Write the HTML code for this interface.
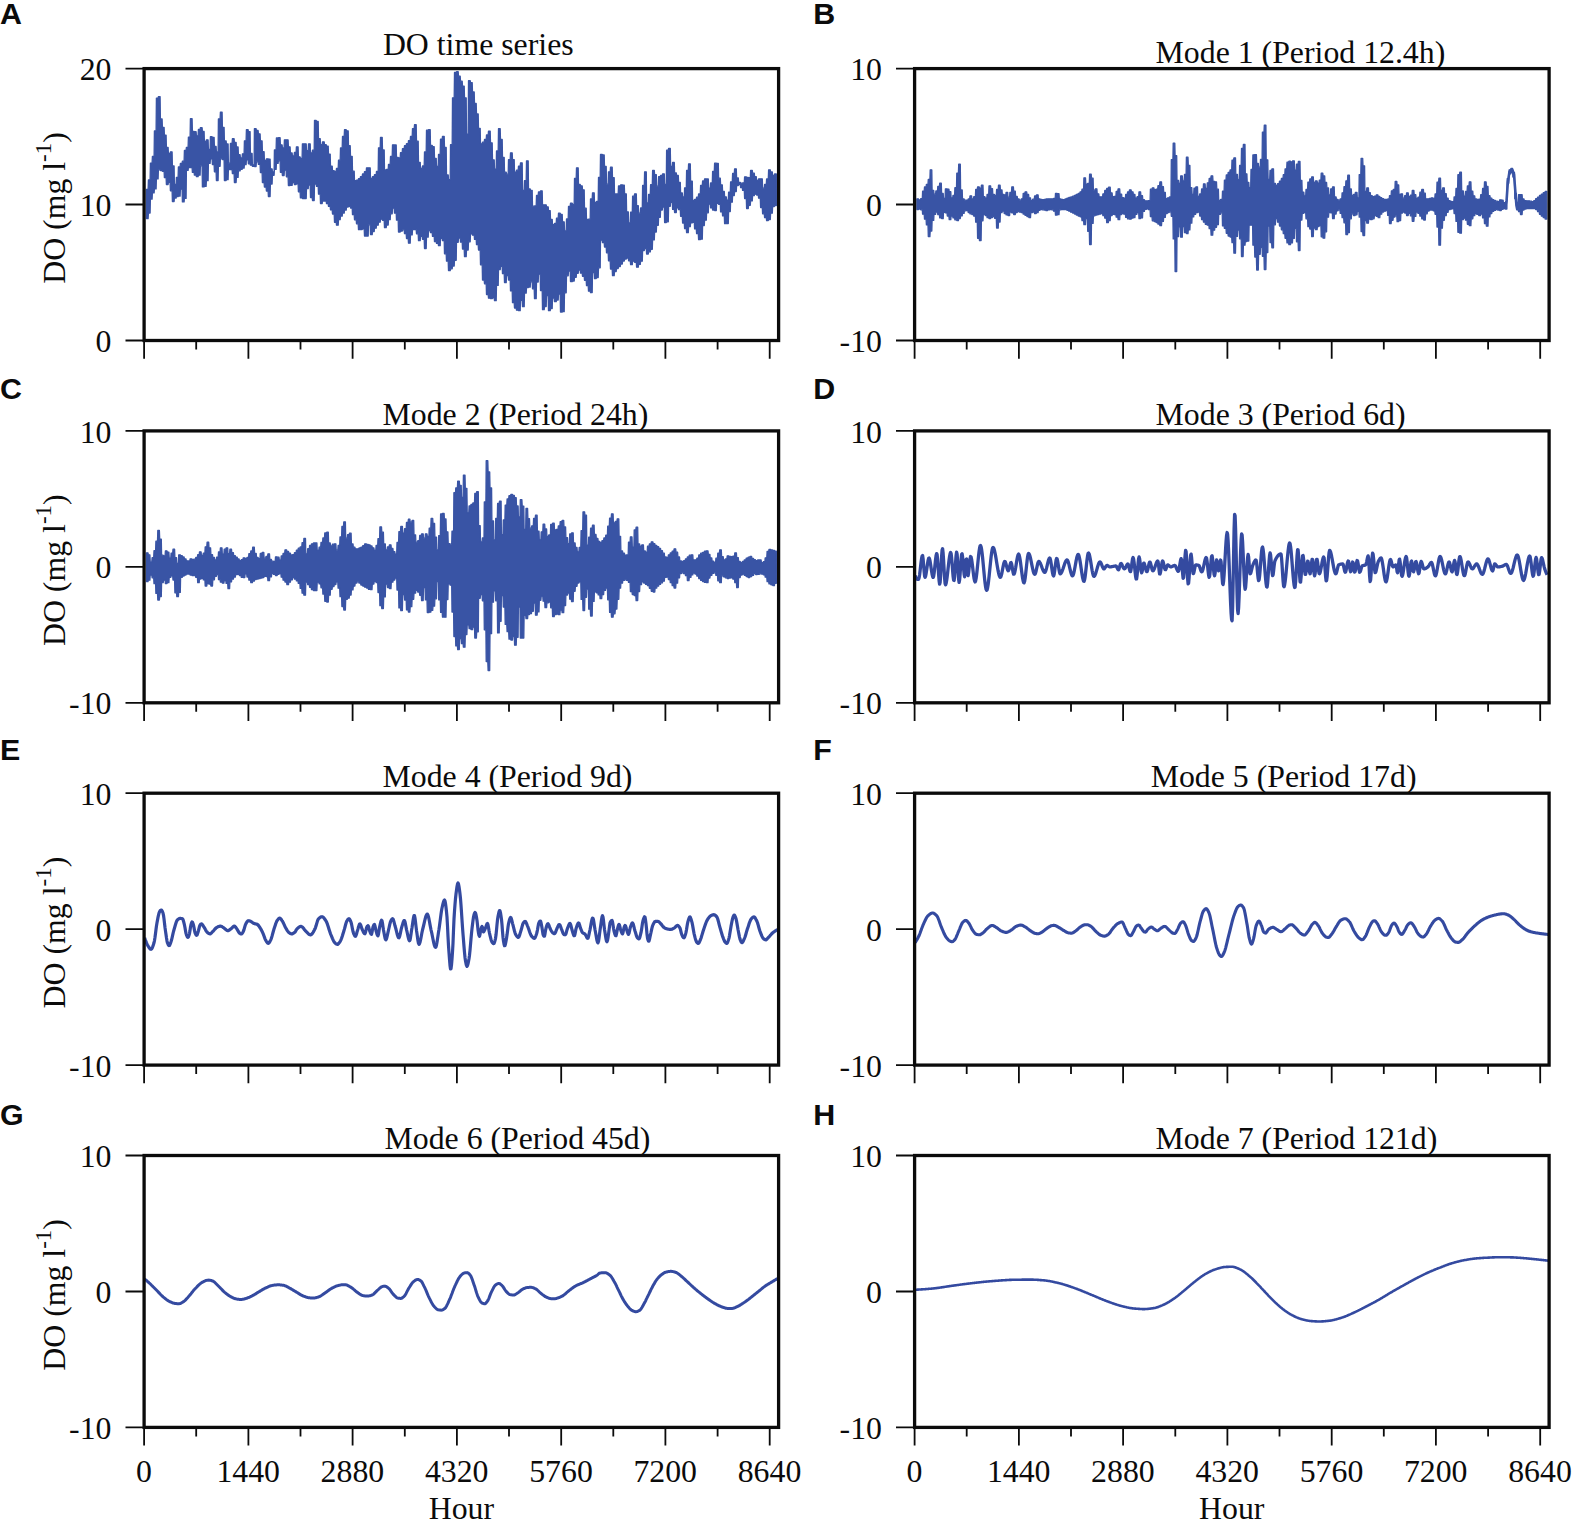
<!DOCTYPE html>
<html lang="en"><head><meta charset="utf-8"><title>DO time series EEMD modes</title>
<style>
html,body{margin:0;padding:0;background:#fff;}
svg{display:block;}
svg text{font-family:"Liberation Serif", "Times New Roman", Times, serif;font-size:31.8px;fill:#0b0b0b;}
svg text.pl{font-family:"Liberation Sans", Arial, Helvetica, sans-serif;font-weight:bold;font-size:30.4px;}
</style></head>
<body>
<svg width="1573" height="1530" viewBox="0 0 1573 1530">
<rect width="1573" height="1530" fill="#ffffff"/>
<path d="M146.4,189.5 148.1,189.5 148.4,180 150.1,180 150.4,163.1 152.1,163.1 152.4,156.5 154.1,156.5 154.4,130.9 156.1,130.9 156.4,98.1 158.1,98.1 158.4,96.6 160.1,96.6 160.4,119 162.1,119 162.4,127.3 164.1,127.3 164.4,135.1 166.1,135.1 166.4,147.4 168.1,147.4 168.4,153.5 170.1,153.5 170.4,151.8 172.1,151.8 172.4,165.9 174.1,165.9 174.4,184.4 176.1,184.4 176.4,177.4 178.1,177.4 178.4,166.9 180.1,166.9 180.4,163.3 182.1,163.3 182.4,161.2 184.1,161.2 184.4,150.4 186.1,150.4 186.4,147.3 188.1,147.3 188.4,137.1 190.1,137.1 190.4,118.7 192.1,118.7 192.4,131.5 194.1,131.5 194.4,131.7 196.1,131.7 196.4,135.8 198.1,135.8 198.4,129.5 200.1,129.5 200.4,127.7 202.1,127.7 202.4,131.5 204.1,131.5 204.4,141.4 206.1,141.4 206.4,139.8 208.1,139.8 208.4,149.4 210.1,149.4 210.4,136.7 212.1,136.7 212.4,137.3 214.1,137.3 214.4,146.5 216.1,146.5 216.4,152 218.1,152 218.4,118.9 220.1,118.9 220.4,112.1 222.1,112.1 222.4,127.3 224.1,127.3 224.4,140.9 226.1,140.9 226.4,143.9 228.1,143.9 228.4,163.2 230.1,163.2 230.4,143.4 232.1,143.4 232.4,138.7 234.1,138.7 234.4,142.3 236.1,142.3 236.4,147 238.1,147 238.4,154.7 240.1,154.7 240.4,158 242.1,158 242.4,153.8 244.1,153.8 244.4,140.8 246.1,140.8 246.4,129.7 248.1,129.7 248.4,131.6 250.1,131.6 250.4,153.4 252.1,153.4 252.4,164.8 254.1,164.8 254.4,128.7 256.1,128.7 256.4,130.5 258.1,130.5 258.4,133.8 260.1,133.8 260.4,140.8 262.1,140.8 262.4,151.7 264.1,151.7 264.4,160.5 266.1,160.5 266.4,158.8 268.1,158.8 268.4,159.1 270.1,159.1 270.4,168.8 272.1,168.8 272.4,171.9 274.1,171.9 274.4,150 276.1,150 276.4,137.9 278.1,137.9 278.4,137.7 280.1,137.7 280.4,144.8 282.1,144.8 282.4,147.9 284.1,147.9 284.4,139.8 286.1,139.8 286.4,139.8 288.1,139.8 288.4,146.8 290.1,146.8 290.4,153 292.1,153 292.4,155.9 294.1,155.9 294.4,152.5 296.1,152.5 296.4,146.8 298.1,146.8 298.4,156.8 300.1,156.8 300.4,158.3 302.1,158.3 302.4,143.8 304.2,143.8 304.5,143.8 306.2,143.8 306.5,150.7 308.2,150.7 308.5,143.8 310.2,143.8 310.5,153 312.2,153 312.5,150.2 314.2,150.2 314.5,120.3 316.2,120.3 316.5,121.4 318.2,121.4 318.5,138.6 320.2,138.6 320.5,144.7 322.2,144.7 322.5,141.8 324.2,141.8 324.5,144.7 326.2,144.7 326.5,146.1 328.2,146.1 328.5,154.1 330.2,154.1 330.5,166.1 332.2,166.1 332.5,170.7 334.2,170.7 334.5,171.4 336.2,171.4 336.5,168.4 338.2,168.4 338.5,160.2 340.2,160.2 340.5,147.9 342.2,147.9 342.5,136.4 344.2,136.4 344.5,129.7 346.2,129.7 346.5,130.8 348.2,130.8 348.5,145.7 350.2,145.7 350.5,156.3 352.2,156.3 352.5,171.2 354.2,171.2 354.5,180.6 356.2,180.6 356.5,180.1 358.2,180.1 358.5,178.7 360.2,178.7 360.5,176.6 362.2,176.6 362.5,174 364.2,174 364.5,171.6 366.2,171.6 366.5,167.8 368.2,167.8 368.5,167.8 370.2,167.8 370.5,178.5 372.2,178.5 372.5,176.7 374.2,176.7 374.5,174.7 376.2,174.7 376.5,171.4 378.2,171.4 378.5,147.8 380.2,147.8 380.5,137.3 382.2,137.3 382.5,150 384.2,150 384.5,170 386.2,170 386.5,169.4 388.2,169.4 388.5,164.4 390.2,164.4 390.5,156.4 392.2,156.4 392.5,144.8 394.2,144.8 394.5,144.9 396.2,144.9 396.5,157.5 398.2,157.5 398.5,157.9 400.2,157.9 400.5,152.6 402.2,152.6 402.5,148.6 404.2,148.6 404.5,145.7 406.2,145.7 406.5,143.7 408.2,143.7 408.5,140.6 410.2,140.6 410.5,136.5 412.2,136.5 412.5,128.6 414.2,128.6 414.5,124.7 416.2,124.7 416.5,141.2 418.2,141.2 418.5,162.3 420.2,162.3 420.5,168.4 422.2,168.4 422.5,166 424.2,166 424.5,152 426.2,152 426.5,130.2 428.2,130.2 428.5,129.7 430.2,129.7 430.5,145.3 432.2,145.3 432.5,146.7 434.2,146.7 434.5,158.3 436.2,158.3 436.5,166.5 438.2,166.5 438.5,154.5 440.2,154.5 440.5,139.1 442.2,139.1 442.5,136.3 444.2,136.3 444.5,147.5 446.2,147.5 446.5,174.9 448.2,174.9 448.5,179.7 450.2,179.7 450.5,144.7 452.2,144.7 452.5,97.8 454.2,97.8 454.5,72.4 456.2,72.4 456.5,71.7 458.2,71.7 458.5,76.2 460.2,76.2 460.5,81.2 462.2,81.2 462.5,86.1 464.2,86.1 464.5,97.8 466.2,97.8 466.5,134.1 468.2,134.1 468.5,80.7 470.2,80.7 470.5,82.6 472.2,82.6 472.5,91.9 474.2,91.9 474.5,103.5 476.2,103.5 476.5,114 478.2,114 478.5,128.3 480.2,128.3 480.5,143.8 482.2,143.8 482.5,142.2 484.2,142.2 484.5,139.5 486.2,139.5 486.5,135 488.2,135 488.5,131.1 490.2,131.1 490.5,142.8 492.2,142.8 492.5,159.8 494.2,159.8 494.5,169.1 496.2,169.1 496.5,151 498.2,151 498.5,128.7 500.2,128.7 500.5,139.5 502.2,139.5 502.5,157.5 504.2,157.5 504.5,172.2 506.2,172.2 506.5,174.2 508.2,174.2 508.5,159.7 510.2,159.7 510.5,152.8 512.2,152.8 512.5,159.6 514.2,159.6 514.5,172.1 516.2,172.1 516.5,170.2 518.2,170.2 518.5,166.1 520.2,166.1 520.5,162.8 522.2,162.8 522.5,190.3 524.2,190.3 524.5,180.6 526.2,180.6 526.5,160.8 528.2,160.8 528.5,188.9 530.2,188.9 530.5,190.3 532.2,190.3 532.5,206.2 534.2,206.2 534.5,205.9 536.2,205.9 536.5,195.4 538.2,195.4 538.5,191.9 540.2,191.9 540.5,190.8 542.2,190.8 542.5,204.8 544.2,204.8 544.5,204.8 546.2,204.8 546.5,206.8 548.2,206.8 548.5,210.6 550.2,210.6 550.5,219.3 552.2,219.3 552.5,224.6 554.2,224.6 554.5,223.3 556.2,223.3 556.5,218.2 558.2,218.2 558.5,213.2 560.2,213.2 560.5,214.4 562.2,214.4 562.5,221.8 564.2,221.8 564.5,230.9 566.2,230.9 566.5,218.9 568.2,218.9 568.5,206.4 570.2,206.4 570.5,203.2 572.2,203.2 572.5,204.3 574.2,204.3 574.5,178.4 576.2,178.4 576.5,167.8 578.2,167.8 578.5,184.5 580.2,184.5 580.5,185.8 582.2,185.8 582.5,189.8 584.2,189.8 584.5,208.2 586.2,208.2 586.5,219.5 588.2,219.5 588.5,219.2 590.2,219.2 590.5,198.9 592.2,198.9 592.5,192.8 594.2,192.8 594.5,202.5 596.2,202.5 596.5,201.3 598.2,201.3 598.5,177.4 600.2,177.4 600.5,154.4 602.2,154.4 602.5,154.9 604.2,154.9 604.5,166.5 606.2,166.5 606.5,184.2 608.2,184.2 608.5,171.8 610.2,171.8 610.5,167.2 612.2,167.2 612.5,177.7 614.2,177.7 614.5,193.9 616.2,193.9 616.5,193.9 618.2,193.9 618.5,186 620.3,186 620.6,184.8 622.3,184.8 622.6,185.1 624.3,185.1 624.6,193.8 626.3,193.8 626.6,211.8 628.3,211.8 628.6,223 630.3,223 630.6,212.1 632.3,212.1 632.6,196.2 634.3,196.2 634.6,193.8 636.3,193.8 636.6,205.7 638.3,205.7 638.6,213.2 640.3,213.2 640.6,208 642.3,208 642.6,185.4 644.3,185.4 644.6,171.8 646.3,171.8 646.6,203 648.3,203 648.6,194.3 650.3,194.3 650.6,184.6 652.3,184.6 652.6,170.4 654.3,170.4 654.6,174.6 656.3,174.6 656.6,186.2 658.3,186.2 658.6,176.6 660.3,176.6 660.6,175.3 662.3,175.3 662.6,173.8 664.3,173.8 664.6,184.3 666.3,184.3 666.6,150.2 668.3,150.2 668.6,148.4 670.3,148.4 670.6,166.4 672.3,166.4 672.6,162.4 674.3,162.4 674.6,172.9 676.3,172.9 676.6,175.5 678.3,175.5 678.6,182.4 680.3,182.4 680.6,192.9 682.3,192.9 682.6,196.9 684.3,196.9 684.6,187.8 686.3,187.8 686.6,170.3 688.3,170.3 688.6,163.8 690.3,163.8 690.6,181.1 692.3,181.1 692.6,200.5 694.3,200.5 694.6,199.4 696.3,199.4 696.6,197.2 698.3,197.2 698.6,193.9 700.3,193.9 700.6,185.3 702.3,185.3 702.6,181 704.3,181 704.6,178.8 706.3,178.8 706.6,179 708.3,179 708.6,188.1 710.3,188.1 710.6,183 712.3,183 712.6,171.3 714.3,171.3 714.6,163.2 716.3,163.2 716.6,163.3 718.3,163.3 718.6,178.2 720.3,178.2 720.6,184.8 722.3,184.8 722.6,191.5 724.3,191.5 724.6,196.8 726.3,196.8 726.6,200.1 728.3,200.1 728.6,192.1 730.3,192.1 730.6,181.8 732.3,181.8 732.6,173.5 734.3,173.5 734.6,168.8 736.3,168.8 736.6,177.9 738.3,177.9 738.6,182.3 740.3,182.3 740.6,183.2 742.3,183.2 742.6,182.8 744.3,182.8 744.6,176.8 746.3,176.8 746.6,177.3 748.3,177.3 748.6,177.7 750.3,177.7 750.6,170.4 752.3,170.4 752.6,173.2 754.3,173.2 754.6,176.7 756.3,176.7 756.6,180.5 758.3,180.5 758.6,178.8 760.3,178.8 760.6,178.8 762.3,178.8 762.6,188.2 764.3,188.2 764.6,184.5 766.3,184.5 766.6,179 768.3,179 768.6,169.8 770.3,169.8 770.6,171.9 772.3,171.9 772.6,175.5 774.3,175.5 774.6,173.9 776.3,173.9 776.3,205.6 774.6,205.6 774.3,206.7 772.6,206.7 772.3,213.2 770.6,213.2 770.3,219.5 768.6,219.5 768.3,220.6 766.6,220.6 766.3,217.7 764.6,217.7 764.3,213.8 762.6,213.8 762.3,207.6 760.6,207.6 760.3,198.2 758.6,198.2 758.3,195.1 756.6,195.1 756.3,194.2 754.6,194.2 754.3,195.6 752.6,195.6 752.3,200.9 750.6,200.9 750.3,205.3 748.6,205.3 748.3,208.5 746.6,208.5 746.3,198.5 744.6,198.5 744.3,190.4 742.6,190.4 742.3,187.7 740.6,187.7 740.3,184.5 738.6,184.5 738.3,185.5 736.6,185.5 736.3,191.5 734.6,191.5 734.3,195.5 732.6,195.5 732.3,202.2 730.6,202.2 730.3,211.6 728.6,211.6 728.3,223.6 726.6,223.6 726.3,223.6 724.6,223.6 724.3,215.9 722.6,215.9 722.3,211.9 720.6,211.9 720.3,204.3 718.6,204.3 718.3,203.4 716.6,203.4 716.3,210.5 714.6,210.5 714.3,210 712.6,210 712.3,207.9 710.6,207.9 710.3,204.2 708.6,204.2 708.3,212.8 706.6,212.8 706.3,220.2 704.6,220.2 704.3,225.5 702.6,225.5 702.3,239.2 700.6,239.2 700.3,239.6 698.6,239.6 698.3,233.7 696.6,233.7 696.3,228.9 694.6,228.9 694.3,222.3 692.6,222.3 692.3,222.9 690.6,222.9 690.3,226.6 688.6,226.6 688.3,232.6 686.6,232.6 686.3,228.6 684.6,228.6 684.3,223 682.6,223 682.3,216.3 680.6,216.3 680.3,209.6 678.6,209.6 678.3,207.9 676.6,207.9 676.3,212.5 674.6,212.5 674.3,209.4 672.6,209.4 672.3,202.3 670.6,202.3 670.3,206.3 668.6,206.3 668.3,221.8 666.6,221.8 666.3,222.6 664.6,222.6 664.3,207.1 662.6,207.1 662.3,210 660.6,210 660.3,217.3 658.6,217.3 658.3,225.3 656.6,225.3 656.3,232 654.6,232 654.3,239.9 652.6,239.9 652.3,249.3 650.6,249.3 650.3,251.8 648.6,251.8 648.3,254 646.6,254 646.3,248.6 644.6,248.6 644.3,250.5 642.6,250.5 642.3,261.2 640.6,261.2 640.3,264.4 638.6,264.4 638.3,267.2 636.6,267.2 636.3,262.3 634.6,262.3 634.3,261.2 632.6,261.2 632.3,264.6 630.6,264.6 630.3,260.8 628.6,260.8 628.3,258.1 626.6,258.1 626.3,259.1 624.6,259.1 624.3,261 622.6,261 622.3,264 620.6,264 620.3,266.5 618.5,266.5 618.2,268.5 616.5,268.5 616.2,271.5 614.5,271.5 614.2,275.6 612.5,275.6 612.2,269.1 610.5,269.1 610.2,260.8 608.5,260.8 608.2,252.8 606.5,252.8 606.2,247 604.5,247 604.2,242.6 602.5,242.6 602.2,240.2 600.5,240.2 600.2,267.8 598.5,267.8 598.2,277.5 596.5,277.5 596.2,278.6 594.5,278.6 594.2,272.7 592.5,272.7 592.2,292.6 590.5,292.6 590.2,291.1 588.5,291.1 588.2,285.6 586.5,285.6 586.2,280.3 584.5,280.3 584.2,276.3 582.5,276.3 582.2,273.1 580.5,273.1 580.2,270.1 578.5,270.1 578.2,273.3 576.5,273.3 576.2,277.3 574.5,277.3 574.2,281 572.5,281 572.2,281.6 570.5,281.6 570.2,271 568.5,271 568.2,275.8 566.5,275.8 566.2,292.8 564.5,292.8 564.2,311.7 562.5,311.7 562.2,312.1 560.5,312.1 560.2,294.1 558.5,294.1 558.2,300 556.5,300 556.2,301.7 554.5,301.7 554.2,298.1 552.5,298.1 552.2,308.5 550.5,308.5 550.2,310.7 548.5,310.7 548.2,295.7 546.5,295.7 546.2,306.5 544.5,306.5 544.2,309.7 542.5,309.7 542.2,290.6 540.5,290.6 540.2,274.2 538.5,274.2 538.2,282.1 536.5,282.1 536.2,298.7 534.5,298.7 534.2,288.8 532.5,288.8 532.2,281.8 530.5,281.8 530.2,287.1 528.5,287.1 528.2,287.6 526.5,287.6 526.2,293.1 524.5,293.1 524.2,306.7 522.5,306.7 522.2,300.3 520.5,300.3 520.2,310.7 518.5,310.7 518.2,310.2 516.5,310.2 516.2,308 514.5,308 514.2,302.7 512.5,302.7 512.2,290.9 510.5,290.9 510.2,280 508.5,280 508.2,275.5 506.5,275.5 506.2,282.6 504.5,282.6 504.2,273.6 502.5,273.6 502.2,266.4 500.5,266.4 500.2,269.7 498.5,269.7 498.2,285.4 496.5,285.4 496.2,300.7 494.5,300.7 494.2,297.9 492.5,297.9 492.2,298.7 490.5,298.7 490.2,298.2 488.5,298.2 488.2,294.5 486.5,294.5 486.2,283.8 484.5,283.8 484.2,280 482.5,280 482.2,264.8 480.5,264.8 480.2,250 478.5,250 478.2,244.7 476.5,244.7 476.2,239.4 474.5,239.4 474.2,235.2 472.5,235.2 472.2,233.9 470.5,233.9 470.2,241.8 468.5,241.8 468.2,250 466.5,250 466.2,256.6 464.5,256.6 464.2,249 462.5,249 462.2,242.1 460.5,242.1 460.2,238 458.5,238 458.2,242.3 456.5,242.3 456.2,260.3 454.5,260.3 454.2,266 452.5,266 452.2,268.8 450.5,268.8 450.2,270.6 448.5,270.6 448.2,261.1 446.5,261.1 446.2,253.8 444.5,253.8 444.2,240.6 442.5,240.6 442.2,238.4 440.5,238.4 440.2,245.6 438.5,245.6 438.2,243.4 436.5,243.4 436.2,241.6 434.5,241.6 434.2,236.4 432.5,236.4 432.2,232.6 430.5,232.6 430.2,230.6 428.5,230.6 428.2,237.1 426.5,237.1 426.2,248.6 424.5,248.6 424.2,239.3 422.5,239.3 422.2,236.3 420.5,236.3 420.2,240.6 418.5,240.6 418.2,233.8 416.5,233.8 416.2,229.6 414.5,229.6 414.2,229.6 412.5,229.6 412.2,234.9 410.5,234.9 410.2,243.2 408.5,243.2 408.2,238.5 406.5,238.5 406.2,233.7 404.5,233.7 404.2,229.8 402.5,229.8 402.2,231.2 400.5,231.2 400.2,232 398.5,232 398.2,220.1 396.5,220.1 396.2,213.1 394.5,213.1 394.2,208.2 392.5,208.2 392.2,213.8 390.5,213.8 390.2,219.7 388.5,219.7 388.2,225 386.5,225 386.2,227.6 384.5,227.6 384.2,220.4 382.5,220.4 382.2,219.2 380.5,219.2 380.2,222.2 378.5,222.2 378.2,225.2 376.5,225.2 376.2,228.2 374.5,228.2 374.2,231.5 372.5,231.5 372.2,234.6 370.5,234.6 370.2,224.8 368.5,224.8 368.2,236 366.5,236 366.2,236 364.5,236 364.2,228.9 362.5,228.9 362.2,229.6 360.5,229.6 360.2,229.6 358.5,229.6 358.2,223.8 356.5,223.8 356.2,219.8 354.5,219.8 354.2,214.7 352.5,214.7 352.2,208 350.5,208 350.2,206.3 348.5,206.3 348.2,207.1 346.5,207.1 346.2,210.1 344.5,210.1 344.2,213.1 342.5,213.1 342.2,216.1 340.5,216.1 340.2,219.6 338.5,219.6 338.2,225.2 336.5,225.2 336.2,222.3 334.5,222.3 334.2,214 332.5,214 332.2,209.9 330.5,209.9 330.2,206.4 328.5,206.4 328.2,203.7 326.5,203.7 326.2,201.1 324.5,201.1 324.2,201 322.5,201 322.2,203.5 320.5,203.5 320.2,194.1 318.5,194.1 318.2,186.4 316.5,186.4 316.2,184 314.5,184 314.2,200.5 312.5,200.5 312.2,197.6 310.5,197.6 310.2,185 308.5,185 308.2,188.6 306.5,188.6 306.2,198.5 304.5,198.5 304.2,198.5 302.4,198.5 302.1,197.9 300.4,197.9 300.1,191.8 298.4,191.8 298.1,183.9 296.4,183.9 296.1,184.5 294.4,184.5 294.1,182.6 292.4,182.6 292.1,185.4 290.4,185.4 290.1,185.5 288.4,185.5 288.1,176.8 286.4,176.8 286.1,170.2 284.4,170.2 284.1,175.5 282.4,175.5 282.1,172.3 280.4,172.3 280.1,160.8 278.4,160.8 278.1,163.4 276.4,163.4 276.1,169.4 274.4,169.4 274.1,175.3 272.4,175.3 272.1,184.1 270.4,184.1 270.1,196.5 268.4,196.5 268.1,191 266.4,191 266.1,187 264.4,187 264.1,182.6 262.4,182.6 262.1,172.6 260.4,172.6 260.1,164.4 258.4,164.4 258.1,161.8 256.4,161.8 256.1,166.5 254.4,166.5 254.1,166.4 252.4,166.4 252.1,165.2 250.4,165.2 250.1,163.8 248.4,163.8 248.1,159.9 246.4,159.9 246.1,164.7 244.4,164.7 244.1,168.1 242.4,168.1 242.1,169.4 240.4,169.4 240.1,170.8 238.4,170.8 238.1,177.4 236.4,177.4 236.1,182.5 234.4,182.5 234.1,173.6 232.4,173.6 232.1,169.5 230.4,169.5 230.1,169.5 228.4,169.5 228.1,179.7 226.4,179.7 226.1,180.5 224.4,180.5 224.1,159.6 222.4,159.6 222.1,158.8 220.4,158.8 220.1,166.3 218.4,166.3 218.1,180.5 216.4,180.5 216.1,171.8 214.4,171.8 214.1,164.5 212.4,164.5 212.1,158.9 210.4,158.9 210.1,163.4 208.4,163.4 208.1,180.7 206.4,180.7 206.1,186.4 204.4,186.4 204.1,186.9 202.4,186.9 202.1,165.8 200.4,165.8 200.1,175.2 198.4,175.2 198.1,176.5 196.4,176.5 196.1,175.1 194.4,175.1 194.1,172.4 192.4,172.4 192.1,167.5 190.4,167.5 190.1,167.5 188.4,167.5 188.1,170.4 186.4,170.4 186.1,198.4 184.4,198.4 184.1,201.9 182.4,201.9 182.1,189.2 180.4,189.2 180.1,196.1 178.4,196.1 178.1,196.5 176.4,196.5 176.1,198.1 174.4,198.1 174.1,201.5 172.4,201.5 172.1,190.8 170.4,190.8 170.1,182.4 168.4,182.4 168.1,184.5 166.4,184.5 166.1,177.6 164.4,177.6 164.1,171.3 162.4,171.3 162.1,170.6 160.4,170.6 160.1,169.8 158.4,169.8 158.1,178.9 156.4,178.9 156.1,188.9 154.4,188.9 154.1,192.9 152.4,192.9 152.1,199.1 150.4,199.1 150.1,213.1 148.4,213.1 148.1,218.6 146.4,218.6Z" fill="#3954a5" stroke="#3954a5" stroke-width="1.3" stroke-linejoin="round"/>
<path d="M916.9,198.8 918.5,198.8 918.8,200 920.4,200 920.7,198.7 922.3,198.7 922.6,191.1 924.2,191.1 924.5,187 926.1,187 926.4,184.4 928,184.4 928.3,179.4 929.9,179.4 930.2,169.8 931.8,169.8 932.1,190.4 933.7,190.4 934,194.2 935.6,194.2 935.9,190.9 937.5,190.9 937.8,186.3 939.4,186.3 939.7,183.2 941.3,183.2 941.6,193.5 943.2,193.5 943.5,198.3 945.1,198.3 945.4,188.8 947,188.8 947.3,189.1 948.9,189.1 949.2,191.7 950.8,191.7 951.1,198 952.7,198 953,195.3 954.6,195.3 954.9,187.7 956.5,187.7 956.8,173.1 958.4,173.1 958.7,164.2 960.3,164.2 960.6,190 962.2,190 962.5,198.9 964.1,198.9 964.4,200.2 966,200.2 966.3,200.1 967.9,200.1 968.2,198.9 969.7,198.9 970,195.8 971.6,195.8 971.9,198.9 973.5,198.9 973.8,196.6 975.4,196.6 975.7,189.4 977.3,189.4 977.6,186.8 979.2,186.8 979.5,188.1 981.1,188.1 981.4,185.2 983,185.2 983.3,196.7 984.9,196.7 985.2,198.1 986.8,198.1 987.1,194.4 988.7,194.4 989,185.8 990.6,185.8 990.9,188.6 992.5,188.6 992.8,194.5 994.4,194.5 994.7,195.4 996.3,195.4 996.6,189.5 998.2,189.5 998.5,185.2 1000.1,185.2 1000.4,190 1002,190 1002.3,194.5 1003.9,194.5 1004.2,194.9 1005.8,194.9 1006.1,192.4 1007.7,192.4 1008,197.2 1009.6,197.2 1009.9,192.3 1011.5,192.3 1011.8,186.8 1013.4,186.8 1013.7,191.2 1015.3,191.2 1015.6,196.4 1017.2,196.4 1017.5,198.9 1019.1,198.9 1019.4,200.2 1021,200.2 1021.3,198.8 1022.9,198.8 1023.2,193.3 1024.8,193.3 1025.1,191.8 1026.7,191.8 1027,194.5 1028.6,194.5 1028.9,197.8 1030.5,197.8 1030.8,200.5 1032.4,200.5 1032.7,199.2 1034.3,199.2 1034.6,196 1036.2,196 1036.5,194.8 1038.1,194.8 1038.4,198.8 1040,198.8 1040.3,199.4 1041.9,199.4 1042.2,199.7 1043.8,199.7 1044.1,199.4 1045.7,199.4 1046,199 1047.6,199 1047.9,198.8 1049.5,198.8 1049.8,198.8 1051.4,198.8 1051.7,198.8 1053.3,198.8 1053.6,198.4 1055.2,198.4 1055.5,193.3 1057.1,193.3 1057.4,193.7 1059,193.7 1059.3,198.9 1060.9,198.9 1061.2,199.3 1062.8,199.3 1063.1,199.7 1064.7,199.7 1065,199 1066.6,199 1066.9,198.1 1068.5,198.1 1068.8,197.5 1070.4,197.5 1070.7,197 1072.3,197 1072.6,196.2 1074.1,196.2 1074.5,195.3 1076,195.3 1076.3,194.3 1077.9,194.3 1078.2,193.4 1079.8,193.4 1080.1,191.8 1081.7,191.8 1082,189.2 1083.6,189.2 1083.9,177.8 1085.5,177.8 1085.8,184.1 1087.4,184.1 1087.7,183.3 1089.3,183.3 1089.6,174.2 1091.2,174.2 1091.5,178.2 1093.1,178.2 1093.4,190.2 1095,190.2 1095.3,188.8 1096.9,188.8 1097.2,193.8 1098.8,193.8 1099.1,196.8 1100.7,196.8 1101,196.8 1102.6,196.8 1102.9,193.8 1104.5,193.8 1104.8,190.4 1106.4,190.4 1106.7,188.5 1108.3,188.5 1108.6,187.2 1110.2,187.2 1110.5,192.8 1112.1,192.8 1112.4,196.6 1114,196.6 1114.3,196.4 1115.9,196.4 1116.2,191.3 1117.8,191.3 1118.1,188.8 1119.7,188.8 1120,194.1 1121.6,194.1 1121.9,197.7 1123.5,197.7 1123.8,198.1 1125.4,198.1 1125.7,194.3 1127.3,194.3 1127.6,191.8 1129.2,191.8 1129.5,189.8 1131.1,189.8 1131.4,191.8 1133,191.8 1133.3,194.3 1134.9,194.3 1135.2,198.1 1136.8,198.1 1137.1,196.7 1138.7,196.7 1139,191.8 1140.6,191.8 1140.9,195.7 1142.5,195.7 1142.8,199.6 1144.4,199.6 1144.7,200.8 1146.3,200.8 1146.6,200.8 1148.2,200.8 1148.5,200.6 1150.1,200.6 1150.4,189.2 1152,189.2 1152.3,187.8 1153.9,187.8 1154.2,189.7 1155.8,189.7 1156.1,189.1 1157.7,189.1 1158,185.6 1159.6,185.6 1159.9,181.8 1161.5,181.8 1161.8,186.6 1163.4,186.6 1163.7,192.4 1165.3,192.4 1165.6,198.7 1167.2,198.7 1167.5,197.8 1169.1,197.8 1169.4,196.9 1171,196.9 1171.3,159.7 1172.9,159.7 1173.2,143.2 1174.8,143.2 1175.1,155.7 1176.7,155.7 1177,180.4 1178.6,180.4 1178.9,183.3 1180.4,183.3 1180.7,175.8 1182.3,175.8 1182.6,180.9 1184.2,180.9 1184.5,174.3 1186.1,174.3 1186.4,157.2 1188,157.2 1188.3,165.4 1189.9,165.4 1190.2,187.6 1191.8,187.6 1192.1,194.3 1193.7,194.3 1194,188.1 1195.6,188.1 1195.9,186.8 1197.5,186.8 1197.8,196.4 1199.4,196.4 1199.7,193.9 1201.3,193.9 1201.6,189 1203.2,189 1203.5,183.8 1205.1,183.8 1205.4,188.3 1207,188.3 1207.3,182.8 1208.9,182.8 1209.2,178.3 1210.8,178.3 1211.1,175.8 1212.7,175.8 1213,181.3 1214.6,181.3 1214.9,181.8 1216.5,181.8 1216.8,189.2 1218.4,189.2 1218.7,200.5 1220.3,200.5 1220.6,199.4 1222.2,199.4 1222.5,191.1 1224.1,191.1 1224.4,180.1 1226,180.1 1226.3,175 1227.9,175 1228.2,172.4 1229.8,172.4 1230.1,169.9 1231.7,169.9 1232,160.1 1233.6,160.1 1233.9,157.8 1235.5,157.8 1235.8,174.4 1237.4,174.4 1237.7,179.7 1239.3,179.7 1239.6,165.5 1241.2,165.5 1241.5,148.5 1243.1,148.5 1243.4,144.4 1245,144.4 1245.3,173.8 1246.9,173.8 1247.2,182.3 1248.8,182.3 1249.1,187.6 1250.7,187.6 1251,169.4 1252.6,169.4 1252.9,154.8 1254.5,154.8 1254.8,154.6 1256.4,154.6 1256.7,163.4 1258.3,163.4 1258.6,167.2 1260.2,167.2 1260.5,159.3 1262.1,159.3 1262.4,132.1 1264,132.1 1264.3,125.1 1265.9,125.1 1266.2,159.8 1267.8,159.8 1268.1,179.5 1269.7,179.5 1270,170.5 1271.6,170.5 1271.9,168.8 1273.5,168.8 1273.8,183.3 1275.4,183.3 1275.7,185.5 1277.3,185.5 1277.6,183.6 1279.2,183.6 1279.5,181.1 1281.1,181.1 1281.4,178.5 1283,178.5 1283.3,174.7 1284.8,174.7 1285.1,168.9 1286.7,168.9 1287,162.2 1288.6,162.2 1288.9,161.2 1290.5,161.2 1290.8,161.8 1292.4,161.8 1292.7,160.8 1294.3,160.8 1294.6,170.1 1296.2,170.1 1296.5,164.1 1298.1,164.1 1298.4,161.4 1300,161.4 1300.3,180.5 1301.9,180.5 1302.2,192.1 1303.8,192.1 1304.1,195.9 1305.7,195.9 1306,189.5 1307.6,189.5 1307.9,182.1 1309.5,182.1 1309.8,179 1311.4,179 1311.7,176.8 1313.3,176.8 1313.6,182.5 1315.2,182.5 1315.5,180.8 1317.1,180.8 1317.4,183.1 1319,183.1 1319.3,180.1 1320.9,180.1 1321.2,173.2 1322.8,173.2 1323.1,175.9 1324.7,175.9 1325,182.5 1326.6,182.5 1326.9,187.9 1328.5,187.9 1328.8,195 1330.4,195 1330.7,188.8 1332.3,188.8 1332.6,186.8 1334.2,186.8 1334.5,197 1336.1,197 1336.4,199.5 1338,199.5 1338.3,200.2 1339.9,200.2 1340.2,198.9 1341.8,198.9 1342.1,192.8 1343.7,192.8 1344,186.7 1345.6,186.7 1345.9,180.8 1347.5,180.8 1347.8,175.2 1349.4,175.2 1349.7,189 1351.3,189 1351.6,195.4 1353.2,195.4 1353.5,194.3 1355.1,194.3 1355.4,192.4 1357,192.4 1357.3,197.9 1358.9,197.9 1359.2,174.6 1360.8,174.6 1361.1,158.3 1362.7,158.3 1363,165.8 1364.6,165.8 1364.9,191.5 1366.5,191.5 1366.8,187.8 1368.4,187.8 1368.7,192.7 1370.3,192.7 1370.6,195.6 1372.2,195.6 1372.5,196.7 1374.1,196.7 1374.4,196.1 1376,196.1 1376.3,194.8 1377.9,194.8 1378.2,196.5 1379.8,196.5 1380.1,197.6 1381.7,197.6 1382,198.6 1383.6,198.6 1383.9,199.5 1385.5,199.5 1385.8,199.5 1387.4,199.5 1387.7,199 1389.2,199 1389.5,195.6 1391.1,195.6 1391.4,190.8 1393,190.8 1393.3,189.5 1394.9,189.5 1395.2,181.4 1396.8,181.4 1397.1,185 1398.7,185 1399,194.3 1400.6,194.3 1400.9,193.8 1402.5,193.8 1402.8,198.2 1404.4,198.2 1404.7,195.7 1406.3,195.7 1406.6,192.8 1408.2,192.8 1408.5,196.6 1410.1,196.6 1410.4,195.1 1412,195.1 1412.3,190.4 1413.9,190.4 1414.2,194.7 1415.8,194.7 1416.1,198.3 1417.7,198.3 1418,197.1 1419.6,197.1 1419.9,192.2 1421.5,192.2 1421.8,189.4 1423.4,189.4 1423.7,193.2 1425.3,193.2 1425.6,198.8 1427.2,198.8 1427.5,198.8 1429.1,198.8 1429.4,198.5 1431,198.5 1431.3,197.8 1432.9,197.8 1433.2,198.4 1434.8,198.4 1435.1,194 1436.7,194 1437,182.2 1438.6,182.2 1438.9,178.2 1440.5,178.2 1440.8,190.3 1442.4,190.3 1442.7,187.8 1444.3,187.8 1444.6,193.6 1446.2,193.6 1446.5,198.1 1448.1,198.1 1448.4,200.6 1450,200.6 1450.3,201.3 1451.9,201.3 1452.2,201.7 1453.8,201.7 1454.1,196.9 1455.7,196.9 1456,188.4 1457.6,188.4 1457.9,174.7 1459.5,174.7 1459.8,172.2 1461.4,172.2 1461.7,191 1463.3,191 1463.6,196.1 1465.2,196.1 1465.5,191.4 1467.1,191.4 1467.4,185.9 1469,185.9 1469.3,181.8 1470.9,181.8 1471.2,191.1 1472.8,191.1 1473.1,195.8 1474.7,195.8 1475,198.9 1476.6,198.9 1476.9,199.4 1478.5,199.4 1478.8,199.1 1480.4,199.1 1480.7,194.7 1482.3,194.7 1482.6,188.5 1484.2,188.5 1484.5,181.8 1486.1,181.8 1486.4,186.4 1488,186.4 1488.3,195.7 1489.9,195.7 1490.2,198.2 1491.8,198.2 1492.1,199.6 1493.7,199.6 1494,200.5 1495.5,200.5 1495.8,201.2 1497.4,201.2 1497.7,201.7 1499.3,201.7 1499.6,199.8 1501.2,199.8 1501.5,200.1 1503.1,200.1 1503.4,202.7 1505,202.7 1505.3,204.7 1506.9,204.7 1507.2,178.6 1508.8,178.6 1509.1,169.8 1510.7,169.8 1511,168.4 1512.6,168.4 1512.9,172.5 1514.5,172.5 1514.8,193.5 1516.4,193.5 1516.7,202.3 1518.3,202.3 1518.6,194.6 1520.2,194.6 1520.5,194.6 1522.1,194.6 1522.4,199 1524,199 1524.3,200.6 1525.9,200.6 1526.2,200.8 1527.8,200.8 1528.1,200.8 1529.7,200.8 1530,201.2 1531.6,201.2 1531.9,201.6 1533.5,201.6 1533.8,200.6 1535.4,200.6 1535.7,198.7 1537.3,198.7 1537.6,197.1 1539.2,197.1 1539.5,195.5 1541.1,195.5 1541.4,194.1 1543,194.1 1543.3,192.7 1544.9,192.7 1545.2,191.5 1546.8,191.5 1546.8,219.1 1545.2,219.1 1544.9,217.7 1543.3,217.7 1543,216.1 1541.4,216.1 1541.1,214.3 1539.5,214.3 1539.2,211.6 1537.6,211.6 1537.3,209.7 1535.7,209.7 1535.4,208.5 1533.8,208.5 1533.5,208.5 1531.9,208.5 1531.6,208.5 1530,208.5 1529.7,208.5 1528.1,208.5 1527.8,208.6 1526.2,208.6 1525.9,209.1 1524.3,209.1 1524,210 1522.4,210 1522.1,214.5 1520.5,214.5 1520.2,211.7 1518.6,211.7 1518.3,209.5 1516.7,209.5 1516.4,198.7 1514.8,198.7 1514.5,177 1512.9,177 1512.6,172.6 1511,172.6 1510.7,173.9 1509.1,173.9 1508.8,183.3 1507.2,183.3 1506.9,209.1 1505.3,209.1 1505,208.6 1503.4,208.6 1503.1,209.3 1501.5,209.3 1501.2,210.5 1499.6,210.5 1499.3,210 1497.7,210 1497.4,209.6 1495.8,209.6 1495.5,210.4 1494,210.4 1493.7,211.3 1492.1,211.3 1491.8,213.5 1490.2,213.5 1489.9,216.9 1488.3,216.9 1488,226.2 1486.4,226.2 1486.1,223.6 1484.5,223.6 1484.2,217.9 1482.6,217.9 1482.3,214.1 1480.7,214.1 1480.4,215.5 1478.8,215.5 1478.5,214.4 1476.9,214.4 1476.6,213.7 1475,213.7 1474.7,215.6 1473.1,215.6 1472.8,218.8 1471.2,218.8 1470.9,225.6 1469.3,225.6 1469,224.3 1467.4,224.3 1467.1,220.1 1465.5,220.1 1465.2,218.2 1463.6,218.2 1463.3,219.5 1461.7,219.5 1461.4,233.2 1459.8,233.2 1459.5,232.3 1457.9,232.3 1457.6,221.4 1456,221.4 1455.7,213.5 1454.1,213.5 1453.8,208.6 1452.2,208.6 1451.9,209.1 1450.3,209.1 1450,209.7 1448.4,209.7 1448.1,212.3 1446.5,212.3 1446.2,215.7 1444.6,215.7 1444.3,220.3 1442.7,220.3 1442.4,228.2 1440.8,228.2 1440.5,245.2 1438.9,245.2 1438.6,227 1437,227 1436.7,214.3 1435.1,214.3 1434.8,210.9 1433.2,210.9 1432.9,210 1431.3,210 1431,210.1 1429.4,210.1 1429.1,211 1427.5,211 1427.2,213.8 1425.6,213.8 1425.3,220 1423.7,220 1423.4,218.9 1421.8,218.9 1421.5,216.1 1419.9,216.1 1419.6,213.3 1418,213.3 1417.7,212 1416.1,212 1415.8,216.4 1414.2,216.4 1413.9,221.3 1412.3,221.3 1412,215.8 1410.4,215.8 1410.1,213.4 1408.5,213.4 1408.2,215.5 1406.6,215.5 1406.3,213.1 1404.7,213.1 1404.4,212 1402.8,212 1402.5,213.2 1400.9,213.2 1400.6,220.6 1399,220.6 1398.7,221.6 1397.1,221.6 1396.8,215.8 1395.2,215.8 1394.9,217 1393.3,217 1393,220.3 1391.4,220.3 1391.1,223.6 1389.5,223.6 1389.2,215.4 1387.7,215.4 1387.4,210.7 1385.8,210.7 1385.5,211.2 1383.9,211.2 1383.6,212.1 1382,212.1 1381.7,214.2 1380.1,214.2 1379.8,217.6 1378.2,217.6 1377.9,216.3 1376.3,216.3 1376,215.7 1374.4,215.7 1374.1,218.8 1372.5,218.8 1372.2,219.6 1370.6,219.6 1370.3,219.2 1368.7,219.2 1368.4,223.2 1366.8,223.2 1366.5,220.5 1364.9,220.5 1364.6,235.5 1363,235.5 1362.7,231.6 1361.1,231.6 1360.8,217.1 1359.2,217.1 1358.9,211.3 1357.3,211.3 1357,214.8 1355.4,214.8 1355.1,215.5 1353.5,215.5 1353.2,213.8 1351.6,213.8 1351.3,218.8 1349.7,218.8 1349.4,232.5 1347.8,232.5 1347.5,234.6 1345.9,234.6 1345.6,222.8 1344,222.8 1343.7,217.7 1342.1,217.7 1341.8,213.4 1340.2,213.4 1339.9,209.8 1338.3,209.8 1338,210.9 1336.4,210.9 1336.1,214 1334.5,214 1334.2,218.6 1332.6,218.6 1332.3,212.9 1330.7,212.9 1330.4,212.6 1328.8,212.6 1328.5,217.2 1326.9,217.2 1326.6,231.8 1325,231.8 1324.7,238.2 1323.1,238.2 1322.8,236.8 1321.2,236.8 1320.9,225.5 1319.3,225.5 1319,226.7 1317.4,226.7 1317.1,229.6 1315.5,229.6 1315.2,228 1313.6,228 1313.3,236.6 1311.7,236.6 1311.4,229 1309.8,229 1309.5,226.7 1307.9,226.7 1307.6,218.8 1306,218.8 1305.7,212.5 1304.1,212.5 1303.8,213.3 1302.2,213.3 1301.9,220 1300.3,220 1300,250.6 1298.4,250.6 1298.1,241.8 1296.5,241.8 1296.2,228.4 1294.6,228.4 1294.3,238.4 1292.7,238.4 1292.4,242.9 1290.8,242.9 1290.5,244.6 1288.9,244.6 1288.6,242.9 1287,242.9 1286.7,238.3 1285.1,238.3 1284.8,233.6 1283.3,233.6 1283,229.8 1281.4,229.8 1281.1,226 1279.5,226 1279.2,222.2 1277.6,222.2 1277.3,218.5 1275.7,218.5 1275.4,224.8 1273.8,224.8 1273.5,247.8 1271.9,247.8 1271.6,242.5 1270,242.5 1269.7,226 1268.1,226 1267.8,252.5 1266.2,252.5 1265.9,269.6 1264.3,269.6 1264,256.3 1262.4,256.3 1262.1,247.3 1260.5,247.3 1260.2,254.3 1258.6,254.3 1258.3,270 1256.7,270 1256.4,257.1 1254.8,257.1 1254.5,245.2 1252.9,245.2 1252.6,225.2 1251,225.2 1250.7,225.2 1249.1,225.2 1248.8,241 1247.2,241 1246.9,241.5 1245.3,241.5 1245,245.2 1243.4,245.2 1243.1,256.6 1241.5,256.6 1241.2,238.8 1239.6,238.8 1239.3,230 1237.7,230 1237.4,236.4 1235.8,236.4 1235.5,253.2 1233.9,253.2 1233.6,242.6 1232,242.6 1231.7,237.1 1230.1,237.1 1229.8,236 1228.2,236 1227.9,233.3 1226.3,233.3 1226,228.3 1224.4,228.3 1224.1,225.9 1222.5,225.9 1222.2,212.8 1220.6,212.8 1220.3,214.4 1218.7,214.4 1218.4,224.7 1216.8,224.7 1216.5,227.3 1214.9,227.3 1214.6,230.2 1213,230.2 1212.7,235.2 1211.1,235.2 1210.8,228.6 1209.2,228.6 1208.9,225.2 1207.3,225.2 1207,224.4 1205.4,224.4 1205.1,222.1 1203.5,222.1 1203.2,219.7 1201.6,219.7 1201.3,216 1199.7,216 1199.4,212.2 1197.8,212.2 1197.5,212.7 1195.9,212.7 1195.6,214.3 1194,214.3 1193.7,216.9 1192.1,216.9 1191.8,223.1 1190.2,223.1 1189.9,229.9 1188.3,229.9 1188,233.6 1186.4,233.6 1186.1,232.7 1184.5,232.7 1184.2,226.5 1182.6,226.5 1182.3,237.2 1180.7,237.2 1180.4,226.9 1178.9,226.9 1178.6,236.7 1177,236.7 1176.7,271.6 1175.1,271.6 1174.8,238.9 1173.2,238.9 1172.9,216.3 1171.3,216.3 1171,211.8 1169.4,211.8 1169.1,212.6 1167.5,212.6 1167.2,213.6 1165.6,213.6 1165.3,217.4 1163.7,217.4 1163.4,221.4 1161.8,221.4 1161.5,225.6 1159.9,225.6 1159.6,224 1158,224 1157.7,222.6 1156.1,222.6 1155.8,221.5 1154.2,221.5 1153.9,220.8 1152.3,220.8 1152,216.6 1150.4,216.6 1150.1,209.7 1148.5,209.7 1148.2,208.9 1146.6,208.9 1146.3,209.4 1144.7,209.4 1144.4,211.3 1142.8,211.3 1142.5,217.9 1140.9,217.9 1140.6,218.6 1139,218.6 1138.7,212.6 1137.1,212.6 1136.8,214.3 1135.2,214.3 1134.9,217.6 1133.3,217.6 1133,218.2 1131.4,218.2 1131.1,219.2 1129.5,219.2 1129.2,218.8 1127.6,218.8 1127.3,217.4 1125.7,217.4 1125.4,214.2 1123.8,214.2 1123.5,213.5 1121.9,213.5 1121.6,214.5 1120,214.5 1119.7,219.6 1118.1,219.6 1117.8,217.2 1116.2,217.2 1115.9,214.6 1114.3,214.6 1114,214.3 1112.4,214.3 1112.1,215.5 1110.5,215.5 1110.2,220.6 1108.6,220.6 1108.3,222.6 1106.7,222.6 1106.4,218.2 1104.8,218.2 1104.5,215.6 1102.9,215.6 1102.6,213.7 1101,213.7 1100.7,214.1 1099.1,214.1 1098.8,214.6 1097.2,214.6 1096.9,215.1 1095.3,215.1 1095,215.8 1093.4,215.8 1093.1,223.4 1091.5,223.4 1091.2,244.6 1089.6,244.6 1089.3,231.3 1087.7,231.3 1087.4,218.5 1085.8,218.5 1085.5,224.6 1083.9,224.6 1083.6,220.7 1082,220.7 1081.7,216.9 1080.1,216.9 1079.8,216 1078.2,216 1077.9,215 1076.3,215 1076,214.1 1074.5,214.1 1074.1,213.1 1072.6,213.1 1072.3,212.2 1070.7,212.2 1070.4,211.2 1068.8,211.2 1068.5,210.3 1066.9,210.3 1066.6,209.5 1065,209.5 1064.7,209.5 1063.1,209.5 1062.8,209.5 1061.2,209.5 1060.9,209.8 1059.3,209.8 1059,214.7 1057.4,214.7 1057.1,215.1 1055.5,215.1 1055.2,211.2 1053.6,211.2 1053.3,209.8 1051.7,209.8 1051.4,209.7 1049.8,209.7 1049.5,209.9 1047.9,209.9 1047.6,210.5 1046,210.5 1045.7,210.1 1044.1,210.1 1043.8,209.8 1042.2,209.8 1041.9,209.6 1040.3,209.6 1040,210.3 1038.4,210.3 1038.1,212.6 1036.5,212.6 1036.2,213.5 1034.6,213.5 1034.3,212.1 1032.7,212.1 1032.4,212.6 1030.8,212.6 1030.5,217.6 1028.9,217.6 1028.6,216.6 1027,216.6 1026.7,215.4 1025.1,215.4 1024.8,214 1023.2,214 1022.9,212.6 1021.3,212.6 1021,212.1 1019.4,212.1 1019.1,211.6 1017.5,211.6 1017.2,212.5 1015.6,212.5 1015.3,214.5 1013.7,214.5 1013.4,212.9 1011.8,212.9 1011.5,212.1 1009.9,212.1 1009.6,215.5 1008,215.5 1007.7,214.9 1006.1,214.9 1005.8,213.5 1004.2,213.5 1003.9,211 1002.3,211 1002,212.7 1000.4,212.7 1000.1,222 998.5,222 998.2,228.1 996.6,228.1 996.3,218.4 994.7,218.4 994.4,216.6 992.8,216.6 992.5,217.7 990.9,217.7 990.6,218.6 989,218.6 988.7,217.7 987.1,217.7 986.8,215.5 985.2,215.5 984.9,214.3 983.3,214.3 983,220.8 981.4,220.8 981.1,240.6 979.5,240.6 979.2,238.3 977.6,238.3 977.3,222.2 975.7,222.2 975.4,216.2 973.8,216.2 973.5,214.5 971.9,214.5 971.6,213.8 970,213.8 969.7,212.5 968.2,212.5 967.9,210.6 966.3,210.6 966,210.8 964.4,210.8 964.1,213.4 962.5,213.4 962.2,215.9 960.6,215.9 960.3,218.5 958.7,218.5 958.4,220.6 956.8,220.6 956.5,219.8 954.9,219.8 954.6,217.9 953,217.9 952.7,216 951.1,216 950.8,219.6 949.2,219.6 948.9,216 947.3,216 947,212.9 945.4,212.9 945.1,212.3 943.5,212.3 943.2,218.6 941.6,218.6 941.3,217.9 939.7,217.9 939.4,214.7 937.8,214.7 937.5,212 935.9,212 935.6,214.3 934,214.3 933.7,220.4 932.1,220.4 931.8,231 930.2,231 929.9,236.6 928.3,236.6 928,224.9 926.4,224.9 926.1,219.1 924.5,219.1 924.2,214.2 922.6,214.2 922.3,209.8 920.7,209.8 920.4,209 918.8,209 918.5,209.5 916.9,209.5Z" fill="#3954a5" stroke="#3954a5" stroke-width="1.3" stroke-linejoin="round"/>
<path d="M146.4,552.8 148,552.8 148.3,554.8 149.9,554.8 150.2,562.1 151.8,562.1 152.1,557.7 153.7,557.7 154,550.7 155.6,550.7 155.9,541.2 157.5,541.2 157.8,530.4 159.4,530.4 159.7,539.1 161.3,539.1 161.6,555.2 163.2,555.2 163.5,555.8 165.1,555.8 165.4,550.8 167,550.8 167.3,552.1 168.9,552.1 169.2,558.1 170.8,558.1 171.1,553.1 172.7,553.1 173,549.2 174.6,549.2 174.9,557.6 176.5,557.6 176.8,563.4 178.4,563.4 178.7,554.8 180.3,554.8 180.6,555.6 182.2,555.6 182.5,557 184.1,557 184.4,558.9 186,558.9 186.3,560.8 187.9,560.8 188.2,561 189.8,561 190.1,558.8 191.7,558.8 192,559.4 193.6,559.4 193.9,559.2 195.5,559.2 195.8,557.3 197.4,557.3 197.7,554.7 199.2,554.7 199.5,551.8 201.1,551.8 201.4,555.5 203,555.5 203.3,553.1 204.9,553.1 205.2,546.8 206.8,546.8 207.1,542.2 208.7,542.2 209,547.8 210.6,547.8 210.9,554.6 212.5,554.6 212.8,557.5 214.4,557.5 214.7,560 216.3,560 216.6,557.1 218.2,557.1 218.5,551.9 220.1,551.9 220.4,547.8 222,547.8 222.3,554.1 223.9,554.1 224.2,549.2 225.8,549.2 226.1,547.8 227.7,547.8 228,553.6 229.6,553.6 229.9,549.2 231.5,549.2 231.8,552.7 233.4,552.7 233.7,555.7 235.3,555.7 235.6,557.1 237.2,557.1 237.5,559 239.1,559 239.4,560.6 241,560.6 241.3,559.7 242.9,559.7 243.2,557.8 244.8,557.8 245.1,558.4 246.7,558.4 247,557.4 248.6,557.4 248.9,553.6 250.5,553.6 250.8,551 252.4,551 252.7,547.2 254.3,547.2 254.6,553.3 256.2,553.3 256.5,557.5 258.1,557.5 258.4,558.6 260,558.6 260.3,553.5 261.9,553.5 262.2,552.4 263.8,552.4 264.1,558.2 265.7,558.2 266,556.3 267.6,556.3 267.9,553.8 269.5,553.8 269.8,559.5 271.4,559.5 271.7,561.2 273.3,561.2 273.6,561.4 275.2,561.4 275.5,556.8 277.1,556.8 277.4,557.2 279,557.2 279.3,560.1 280.9,560.1 281.2,556 282.8,556 283.1,553.4 284.7,553.4 285,549.8 286.6,549.8 286.9,551.4 288.5,551.4 288.8,553.1 290.4,553.1 290.7,555 292.3,555 292.6,554.6 294.2,554.6 294.5,552.7 296.1,552.7 296.4,550.1 298,550.1 298.3,548.2 299.9,548.2 300.2,546.9 301.8,546.9 302.1,542.6 303.7,542.6 303.9,538.4 305.5,538.4 305.8,553.8 307.4,553.8 307.7,548.7 309.3,548.7 309.6,545.5 311.2,545.5 311.5,543.8 313.1,543.8 313.4,542.9 315,542.9 315.3,542.9 316.9,542.9 317.2,550.4 318.8,550.4 319.1,547.2 320.7,547.2 321,542.4 322.6,542.4 322.9,537.9 324.5,537.9 324.8,532.9 326.4,532.9 326.7,532.2 328.3,532.2 328.6,543 330.2,543 330.5,545.9 332.1,545.9 332.4,544.2 334,544.2 334.3,543.8 335.9,543.8 336.2,550.2 337.8,550.2 338.1,545.5 339.7,545.5 340,536.9 341.6,536.9 341.9,526.4 343.5,526.4 343.8,521.8 345.4,521.8 345.7,538.2 347.3,538.2 347.6,534.6 349.2,534.6 349.5,533.2 351.1,533.2 351.4,543.9 353,543.9 353.3,547.2 354.9,547.2 355.2,548.8 356.8,548.8 357.1,548.8 358.7,548.8 359,548 360.6,548 360.9,547.1 362.5,547.1 362.8,545.6 364.4,545.6 364.7,543.8 366.3,543.8 366.6,544.4 368.2,544.4 368.5,544.8 370.1,544.8 370.4,546 372,546 372.3,547.8 373.9,547.8 374.2,550.3 375.8,550.3 376.1,545.3 377.7,545.3 378,538.6 379.6,538.6 379.9,526.8 381.5,526.8 381.8,532.2 383.4,532.2 383.7,543.9 385.3,543.9 385.6,550 387.2,550 387.5,546.8 389.1,546.8 389.4,544.8 391,544.8 391.3,548.5 392.9,548.5 393.2,551.6 394.8,551.6 395.1,554.1 396.7,554.1 397,542.4 398.6,542.4 398.9,531.6 400.5,531.6 400.8,526.4 402.4,526.4 402.7,533.1 404.3,533.1 404.6,528.6 406.2,528.6 406.5,522.3 408.1,522.3 408.4,519.2 409.9,519.2 410.2,522.2 411.8,522.2 412.1,520.4 413.7,520.4 414,534.9 415.6,534.9 415.9,542.2 417.5,542.2 417.8,540.7 419.4,540.7 419.7,535.5 421.3,535.5 421.6,533.8 423.2,533.8 423.5,538.2 425.1,538.2 425.4,533.8 427,533.8 427.3,536.5 428.9,536.5 429.2,528.2 430.8,528.2 431.1,518.4 432.7,518.4 433,523.4 434.6,523.4 434.9,537.1 436.5,537.1 436.8,549.9 438.4,549.9 438.7,535.6 440.3,535.6 440.6,513.9 442.2,513.9 442.5,513.3 444.1,513.3 444.4,519 446,519 446.3,531.8 447.9,531.8 448.2,543.6 449.8,543.6 450.1,544.2 451.7,544.2 452,531.1 453.6,531.1 453.9,492.7 455.5,492.7 455.8,487.8 457.4,487.8 457.7,481.1 459.3,481.1 459.6,485.3 461.2,485.3 461.5,497.4 463.1,497.4 463.4,475.1 465,475.1 465.3,488.3 466.9,488.3 467.2,512.8 468.8,512.8 469.1,506 470.7,506 471,504.4 472.6,504.4 472.9,503 474.5,503 474.8,493.4 476.4,493.4 476.7,491.7 478.3,491.7 478.6,525.7 480.2,525.7 480.5,542 482.1,542 482.4,538 484,538 484.3,501.9 485.9,501.9 486.2,460.7 487.8,460.7 488.1,471.9 489.7,471.9 490,487.9 491.6,487.9 491.9,520.9 493.5,520.9 493.8,539.9 495.4,539.9 495.7,518.5 497.3,518.5 497.6,503.4 499.2,503.4 499.5,501.1 501.1,501.1 501.4,534.6 503,534.6 503.3,520 504.9,520 505.2,505.1 506.8,505.1 507.1,499 508.7,499 509,495.6 510.6,495.6 510.9,494.3 512.5,494.3 512.8,495.4 514.3,495.4 514.6,497.7 516.2,497.7 516.5,505.9 518.1,505.9 518.4,517 520,517 520.3,499.7 521.9,499.7 522.2,506.1 523.8,506.1 524.1,529.4 525.7,529.4 526,508.4 527.6,508.4 527.9,518.7 529.5,518.7 529.8,528.2 531.4,528.2 531.7,525.8 533.3,525.8 533.6,518.3 535.2,518.3 535.5,515.2 537.1,515.2 537.4,531.1 539,531.1 539.3,539.8 540.9,539.8 541.2,531.8 542.8,531.8 543.1,524.2 544.7,524.2 545,529 546.6,529 546.9,536.4 548.5,536.4 548.8,534.9 550.4,534.9 550.7,524.3 552.3,524.3 552.6,523.2 554.2,523.2 554.5,529.8 556.1,529.8 556.4,529.5 558,529.5 558.3,526 559.9,526 560.2,521.6 561.8,521.6 562.1,520.4 563.7,520.4 564,527 565.6,527 565.9,537.6 567.5,537.6 567.8,543.7 569.4,543.7 569.7,534 571.3,534 571.6,532.8 573.2,532.8 573.5,543 575.1,543 575.4,547.4 577,547.4 577.3,552 578.9,552 579.2,547.4 580.8,547.4 581.1,530.6 582.7,530.6 583,511.8 584.6,511.8 584.9,515.2 586.5,515.2 586.8,545.1 588.4,545.1 588.7,537.1 590.3,537.1 590.6,528.1 592.2,528.1 592.5,525.2 594.1,525.2 594.4,534.5 596,534.5 596.3,538.5 597.9,538.5 598.2,541.3 599.8,541.3 600.1,542.6 601.7,542.6 602,540.6 603.6,540.6 603.9,538 605.5,538 605.8,535.1 607.4,535.1 607.7,526.2 609.3,526.2 609.6,518.1 611.2,518.1 611.5,513.8 613.1,513.8 613.4,522.8 615,522.8 615.3,521.5 616.9,521.5 617.2,518.8 618.8,518.8 619.1,536.3 620.6,536.3 620.9,550.9 622.5,550.9 622.8,553.1 624.4,553.1 624.7,555.1 626.3,555.1 626.6,554.9 628.2,554.9 628.5,542.1 630.1,542.1 630.4,536.8 632,536.8 632.3,547.1 633.9,547.1 634.2,530 635.8,530 636.1,527.2 637.7,527.2 638,543.9 639.6,543.9 639.9,546.1 641.5,546.1 641.8,544.8 643.4,544.8 643.7,551 645.3,551 645.6,552.1 647.2,552.1 647.5,546.2 649.1,546.2 649.4,543.8 651,543.8 651.3,541.8 652.9,541.8 653.2,543.7 654.8,543.7 655.1,545.3 656.7,545.3 657,546.7 658.6,546.7 658.9,548.3 660.5,548.3 660.8,550.7 662.4,550.7 662.7,553.2 664.3,553.2 664.6,557 666.2,557 666.5,557.4 668.1,557.4 668.4,554.8 670,554.8 670.3,552.9 671.9,552.9 672.2,551.1 673.8,551.1 674.1,548.8 675.7,548.8 676,552.2 677.6,552.2 677.9,557 679.5,557 679.8,560.9 681.4,560.9 681.7,561.5 683.3,561.5 683.6,560.7 685.2,560.7 685.5,558.8 687.1,558.8 687.4,556.9 689,556.9 689.3,555.2 690.9,555.2 691.2,554.8 692.8,554.8 693.1,560 694.7,560 695,559.8 696.6,559.8 696.9,558.1 698.5,558.1 698.8,555 700.4,555 700.7,553.2 702.3,553.2 702.6,552.4 704.2,552.4 704.5,551.1 706.1,551.1 706.4,550.8 708,550.8 708.3,554.4 709.9,554.4 710.2,558 711.8,558 712.1,561.1 713.7,561.1 714,562.4 715.6,562.4 715.9,558.2 717.5,558.2 717.8,553.1 719.4,553.1 719.7,549.8 721.3,549.8 721.6,556.6 723.2,556.6 723.5,559.9 725,559.9 725.3,558.9 726.9,558.9 727.2,555.8 728.8,555.8 729.1,556.3 730.7,556.3 731,556.6 732.6,556.6 732.9,556.1 734.5,556.1 734.8,552.8 736.4,552.8 736.7,557.6 738.3,557.6 738.6,561.5 740.2,561.5 740.5,562.6 742.1,562.6 742.4,561.5 744,561.5 744.3,560 745.9,560 746.2,558.1 747.8,558.1 748.1,557.2 749.7,557.2 750,556.4 751.6,556.4 751.9,558.3 753.5,558.3 753.8,559.6 755.4,559.6 755.7,560.7 757.3,560.7 757.6,559.9 759.2,559.9 759.5,559.9 761.1,559.9 761.4,562.6 763,562.6 763.3,561.6 764.9,561.6 765.2,557.8 766.8,557.8 767.1,551.3 768.7,551.3 769,549.4 770.6,549.4 770.9,550 772.5,550 772.8,550.3 774.4,550.3 774.7,551.1 776.3,551.1 776.3,583.3 774.7,583.3 774.4,585.6 772.8,585.6 772.5,584.9 770.9,584.9 770.6,583.9 769,583.9 768.7,581.7 767.1,581.7 766.8,577.2 765.2,577.2 764.9,574.9 763.3,574.9 763,574 761.4,574 761.1,573.8 759.5,573.8 759.2,574.4 757.6,574.4 757.3,574.5 755.7,574.5 755.4,573.6 753.8,573.6 753.5,575.3 751.9,575.3 751.6,576.7 750,576.7 749.7,577.5 748.1,577.5 747.8,576.6 746.2,576.6 745.9,575.4 744.3,575.4 744,574.2 742.4,574.2 742.1,575 740.5,575 740.2,577.5 738.6,577.5 738.3,587.6 736.7,587.6 736.4,582.7 734.8,582.7 734.5,579.2 732.9,579.2 732.6,577.9 731,577.9 730.7,578 729.1,578 728.8,578.5 727.2,578.5 726.9,577.8 725.3,577.8 725,576.9 723.5,576.9 723.2,575.8 721.6,575.8 721.3,582.6 719.7,582.6 719.4,580.8 717.8,580.8 717.5,575.4 715.9,575.4 715.6,572.8 714,572.8 713.7,573.4 712.1,573.4 711.8,575.4 710.2,575.4 709.9,578 708.3,578 708,582.6 706.4,582.6 706.1,582.4 704.5,582.4 704.2,581.6 702.6,581.6 702.3,580.4 700.7,580.4 700.4,578.6 698.8,578.6 698.5,576.1 696.9,576.1 696.6,574.1 695,574.1 694.7,573 693.1,573 692.8,574.9 691.2,574.9 690.9,577.4 689.3,577.4 689,580.6 687.4,580.6 687.1,575.7 685.5,575.7 685.2,573.7 683.6,573.7 683.3,572.8 681.7,572.8 681.4,573.5 679.8,573.5 679.5,577.9 677.9,577.9 677.6,583.1 676,583.1 675.7,588 674.1,588 673.8,585.6 672.2,585.6 671.9,582.7 670.3,582.7 670,579.5 668.4,579.5 668.1,577 666.5,577 666.2,577.4 664.6,577.4 664.3,581.2 662.7,581.2 662.4,582.8 660.8,582.8 660.5,584.3 658.9,584.3 658.6,586.1 657,586.1 656.7,588.1 655.1,588.1 654.8,592 653.2,592 652.9,591.3 651.3,591.3 651,588.3 649.4,588.3 649.1,585.7 647.5,585.7 647.2,584.4 645.6,584.4 645.3,583.1 643.7,583.1 643.4,581.9 641.8,581.9 641.5,584.7 639.9,584.7 639.6,591.5 638,591.5 637.7,600.6 636.1,600.6 635.8,595.5 634.2,595.5 633.9,594.5 632.3,594.5 632,591.7 630.4,591.7 630.1,582.4 628.5,582.4 628.2,580.4 626.6,580.4 626.3,579.8 624.7,579.8 624.4,580.4 622.8,580.4 622.5,583.1 620.9,583.1 620.6,588.1 619.1,588.1 618.8,599.3 617.2,599.3 616.9,609.1 615.3,609.1 615,613.8 613.4,613.8 613.1,617.2 611.5,617.2 611.2,612.4 609.6,612.4 609.3,599.8 607.7,599.8 607.4,588.1 605.8,588.1 605.5,590.3 603.9,590.3 603.6,594.6 602,594.6 601.7,598.6 600.1,598.6 599.8,594.8 598.2,594.8 597.9,592.9 596.3,592.9 596,591.9 594.4,591.9 594.1,601.4 592.5,601.4 592.2,616 590.6,616 590.3,609.2 588.7,609.2 588.4,589 586.8,589 586.5,597.3 584.9,597.3 584.6,610.6 583,610.6 582.7,599.4 581.1,599.4 580.8,581.9 579.2,581.9 578.9,583 577.3,583 577,586.3 575.4,586.3 575.1,591.3 573.5,591.3 573.2,601.6 571.6,601.6 571.3,599.2 569.7,599.2 569.4,593 567.8,593 567.5,595 565.9,595 565.6,605.6 564,605.6 563.7,612.6 562.1,612.6 561.8,610 560.2,610 559.9,614.6 558.3,614.6 558,614 556.4,614 556.1,614.6 554.5,614.6 554.2,616.6 552.6,616.6 552.3,607.8 550.7,607.8 550.4,602 548.8,602 548.5,602.8 546.9,602.8 546.6,607.6 545,607.6 544.7,601.2 543.1,601.2 542.8,596.2 541.2,596.2 540.9,600.3 539.3,600.3 539,611.9 537.4,611.9 537.1,615.2 535.5,615.2 535.2,603.1 533.6,603.1 533.3,611.3 531.7,611.3 531.4,613.6 529.8,613.6 529.5,614.5 527.9,614.5 527.6,618.6 526,618.6 525.7,615.3 524.1,615.3 523.8,638 522.2,638 521.9,638 520.3,638 520,607 518.4,607 518.1,637.3 516.5,637.3 516.2,645.2 514.6,645.2 514.3,636.4 512.8,636.4 512.5,640 510.9,640 510.6,639.1 509,639.1 508.7,631.7 507.1,631.7 506.8,624.4 505.2,624.4 504.9,607 503.3,607 503,595.7 501.4,595.7 501.1,621.3 499.5,621.3 499.2,632.9 497.6,632.9 497.3,600.8 495.7,600.8 495.4,590.9 493.8,590.9 493.5,602.2 491.9,602.2 491.6,633.7 490,633.7 489.7,670.5 488.1,670.5 487.8,661.5 486.2,661.5 485.9,629.8 484.3,629.8 484,600.8 482.4,600.8 482.1,594.7 480.5,594.7 480.2,598.3 478.6,598.3 478.3,631.8 476.7,631.8 476.4,638 474.8,638 474.5,627.2 472.9,627.2 472.6,629.6 471,629.6 470.7,628.6 469.1,628.6 468.8,624.9 467.2,624.9 466.9,634.6 465.3,634.6 465,647.2 463.4,647.2 463.1,643.6 461.5,643.6 461.2,638.5 459.6,638.5 459.3,649.6 457.7,649.6 457.4,645.9 455.8,645.9 455.5,636.6 453.9,636.6 453.6,612 452,612 451.7,585.2 450.1,585.2 449.8,583.9 448.2,583.9 447.9,599.5 446.3,599.5 446,617.2 444.4,617.2 444.1,617.1 442.5,617.1 442.2,612.4 440.6,612.4 440.3,599.9 438.7,599.9 438.4,581.7 436.8,581.7 436.5,598.8 434.9,598.8 434.6,606.1 433,606.1 432.7,610.4 431.1,610.4 430.8,612.2 429.2,612.2 428.9,612.6 427.3,612.6 427,599.9 425.4,599.9 425.1,587.7 423.5,587.7 423.2,600.6 421.6,600.6 421.3,595.3 419.7,595.3 419.4,592.1 417.8,592.1 417.5,590.3 415.9,590.3 415.6,593.1 414,593.1 413.7,599.3 412.1,599.3 411.8,606.6 410.2,606.6 409.9,612 408.4,612 408.1,609.9 406.5,609.9 406.2,600 404.6,600 404.3,594.7 402.7,594.7 402.4,610.6 400.8,610.6 400.5,607.9 398.9,607.9 398.6,590 397,590 396.7,578.1 395.1,578.1 394.8,580 393.2,580 392.9,582.2 391.3,582.2 391,588.6 389.4,588.6 389.1,587.5 387.5,587.5 387.2,584.2 385.6,584.2 385.3,596.9 383.7,596.9 383.4,608.6 381.8,608.6 381.5,605.7 379.9,605.7 379.6,592.5 378,592.5 377.7,582.7 376.1,582.7 375.8,581.4 374.2,581.4 373.9,584 372.3,584 372,589.6 370.4,589.6 370.1,589.3 368.5,589.3 368.2,588 366.6,588 366.3,587.2 364.7,587.2 364.4,586.2 362.8,586.2 362.5,585 360.9,585 360.6,583.1 359,583.1 358.7,581.8 357.1,581.8 356.8,583.1 355.2,583.1 354.9,586 353.3,586 353,589.9 351.4,589.9 351.1,595 349.5,595 349.2,598.2 347.6,598.2 347.3,599.4 345.7,599.4 345.4,610 343.8,610 343.5,606.5 341.9,606.5 341.6,596.7 340,596.7 339.7,588.2 338.1,588.2 337.8,581.9 336.2,581.9 335.9,584.5 334.3,584.5 334,586.5 332.4,586.5 332.1,589.3 330.5,589.3 330.2,595.2 328.6,595.2 328.3,602 326.7,602 326.4,601.3 324.8,601.3 324.5,594.1 322.9,594.1 322.6,587.8 321,587.8 320.7,583.9 319.1,583.9 318.8,582.2 317.2,582.2 316.9,590.5 315.3,590.5 315,590.5 313.4,590.5 313.1,589.6 311.5,589.6 311.2,587.3 309.6,587.3 309.3,584.6 307.7,584.6 307.4,582.1 305.8,582.1 305.5,595.2 303.9,595.2 303.7,593.2 302.1,593.2 301.8,588.4 300.2,588.4 299.9,583.4 298.3,583.4 298,580.9 296.4,580.9 296.1,579 294.5,579 294.2,577.7 292.6,577.7 292.3,579.9 290.7,579.9 290.4,582.2 288.8,582.2 288.5,584.6 286.9,584.6 286.6,582 285,582 284.7,580.2 283.1,580.2 282.8,577.2 281.2,577.2 280.9,573.7 279.3,573.7 279,574.3 277.4,574.3 277.1,575.5 275.5,575.5 275.2,574.4 273.6,574.4 273.3,573.7 271.7,573.7 271.4,576.9 269.8,576.9 269.5,580.6 267.9,580.6 267.6,576.5 266,576.5 265.7,576.4 264.1,576.4 263.8,577.6 262.2,577.6 261.9,578.1 260.3,578.1 260,578.6 258.4,578.6 258.1,579 256.5,579 256.2,579.5 254.6,579.5 254.3,581.1 252.7,581.1 252.4,582.6 250.8,582.6 250.5,580.1 248.9,580.1 248.6,577 247,577 246.7,573.9 245.1,573.9 244.8,577.5 243.2,577.5 242.9,577.3 241.3,577.3 241,575.6 239.4,575.6 239.1,574.4 237.5,574.4 237.2,574.6 235.6,574.6 235.3,577.1 233.7,577.1 233.4,579.1 231.8,579.1 231.5,581.9 229.9,581.9 229.6,588.6 228,588.6 227.7,583.4 226.1,583.4 225.8,580.6 224.2,580.6 223.9,583.2 222.3,583.2 222,582.1 220.4,582.1 220.1,579.6 218.5,579.6 218.2,574.6 216.6,574.6 216.3,576.4 214.7,576.4 214.4,579.8 212.8,579.8 212.5,586 210.9,586 210.6,584.1 209,584.1 208.7,583.6 207.1,583.6 206.8,586 205.2,586 204.9,579.9 203.3,579.9 203,578.4 201.4,578.4 201.1,579.1 199.5,579.1 199.2,582.6 197.7,582.6 197.4,577.3 195.8,577.3 195.5,575.5 193.9,575.5 193.6,575.5 192,575.5 191.7,575 190.1,575 189.8,574 188.2,574 187.9,574.1 186.3,574.1 186,575 184.4,575 184.1,576.1 182.5,576.1 182.2,577.4 180.6,577.4 180.3,592.4 178.7,592.4 178.4,596.6 176.8,596.6 176.5,592.8 174.9,592.8 174.6,580 173,580 172.7,575.9 171.1,575.9 170.8,577.3 169.2,577.3 168.9,582.6 167.3,582.6 167,583.6 165.4,583.6 165.1,580.2 163.5,580.2 163.2,582.6 161.6,582.6 161.3,596.6 159.7,596.6 159.4,600 157.8,600 157.5,593.4 155.9,593.4 155.6,583.7 154,583.7 153.7,577.8 152.1,577.8 151.8,575 150.2,575 149.9,580.2 148.3,580.2 148,581.6 146.4,581.6Z" fill="#3954a5" stroke="#3954a5" stroke-width="1.3" stroke-linejoin="round"/>
<path d="M1505.4,205.8 1506.6,200.2 1507.8,182.6 1509.4,172.1 1511,169.9 1512.6,170.3 1514,174.5 1515.4,192.2 1516.4,205.2 1517.2,209.2" fill="none" stroke="#3954a5" stroke-width="2.6" stroke-linejoin="round" stroke-linecap="round"/>
<path d="M915.1,575.4 915.6,576.9 916.1,578 916.6,578.7 917.1,579.1 917.6,579.3 918.1,579.4 918.6,579.3 919.1,577.8 919.6,574.8 920.1,570.8 920.6,566.3 921.1,562 921.6,558.4 922.1,556 922.6,555.6 923.1,558.9 923.6,564.8 924.1,571.2 924.6,576.1 925.1,577.3 925.6,576.1 926.1,573.6 926.6,570.3 927.1,566.7 927.6,563.2 928.1,560.3 928.6,558.4 929.1,558 929.6,559.1 930.1,561.4 930.6,564.5 931.1,567.9 931.6,571.3 932.1,574.3 932.6,576.4 933.1,577.4 933.6,576.4 934.1,573.3 934.6,568.9 935.1,563.9 935.6,559.2 936.1,555.5 936.6,553.6 937.1,554.6 937.6,559.5 938.1,566.6 938.6,574.3 939.1,580.7 939.6,584.2 940.1,582.6 940.6,575.8 941.1,566.2 941.6,556.7 942.1,550 942.6,548.7 943.1,553 943.6,560.6 944.1,569.7 944.6,578 945.1,583.6 945.6,584.8 946.1,583.5 946.6,580.8 947.1,577.2 947.6,573 948.1,568.4 948.6,563.9 949.1,559.7 949.6,556.2 950.1,553.7 950.6,552.5 951.1,553.5 951.6,557.7 952.1,563.7 952.6,570.4 953.1,576.3 953.6,580.1 954.1,580.5 954.6,576.5 955.1,569.7 955.6,562 956.1,555.5 956.6,552.1 957.1,554.1 957.6,561.4 958.1,570.8 958.6,578.9 959.1,582.4 959.6,580 960.1,574 960.6,566.4 961.1,559.2 961.6,554.4 962.1,553.8 962.6,557.1 963.1,562.7 963.6,568.9 964.1,574.1 964.6,576.8 965.1,574.2 965.6,566.5 966.1,559.4 966.6,558.9 967.1,566.2 967.6,574.1 968.1,575.6 968.6,572.8 969.1,568.1 969.6,562.9 970.1,558.6 970.6,556.5 971.1,557.1 971.6,559.3 972.1,562.7 972.6,566.7 973.1,571.1 973.6,575.2 974.1,578.7 974.6,581 975.1,581.9 975.6,580.9 976.1,578.4 976.6,574.8 977.1,570.3 977.6,565.4 978.1,560.3 978.6,555.5 979.1,551.3 979.6,548 980.1,545.9 980.6,545.5 981.1,546.8 981.6,549.4 982.1,553.2 982.6,557.8 983.1,562.9 983.6,568.3 984.1,573.7 984.6,578.8 985.1,583.3 985.6,586.9 986.1,589.3 986.6,590.3 987.1,589.8 987.6,587.8 988.1,584.8 988.6,580.8 989.1,576.3 989.6,571.4 990.1,566.4 990.6,561.5 991.1,556.9 991.6,553 992.1,550 992.6,548 993.1,547.4 993.6,547.9 994.1,549.2 994.6,551 995.1,553.3 995.6,555.9 996.1,558.8 996.6,561.9 997.1,565 997.6,567.9 998.1,570.7 998.6,573.1 999.1,575.1 999.6,576.5 1000.1,577.3 1000.6,577.2 1001.1,576.1 1001.6,574.3 1002.1,571.9 1002.6,569.3 1003.1,566.6 1003.6,564.3 1004.1,562.5 1004.6,561.5 1005.1,561.6 1005.6,562.6 1006.1,564.3 1006.6,566.3 1007.1,568.3 1007.6,569.9 1008.1,570.8 1008.6,570.6 1009.1,569.1 1009.6,566.9 1010.1,564.6 1010.6,562.9 1011.1,562.5 1011.6,563.8 1012.1,566.5 1012.6,569.7 1013.1,572.5 1013.6,574.2 1014.1,574.2 1014.6,572.9 1015.1,570.7 1015.6,568 1016.1,564.9 1016.6,561.7 1017.1,558.8 1017.6,556.4 1018.1,554.7 1018.6,554.1 1019.1,554.8 1019.6,556.8 1020.1,559.6 1020.6,563.1 1021.1,567 1021.6,571 1022.1,574.8 1022.6,578.2 1023.1,580.8 1023.6,582.5 1024.1,582.8 1024.6,581.4 1025.1,578.5 1025.6,574.5 1026.1,569.9 1026.6,565.1 1027.1,560.6 1027.6,556.8 1028.1,554.3 1028.6,553.4 1029.1,553.9 1029.6,555 1030.1,556.6 1030.6,558.7 1031.1,561.1 1031.6,563.6 1032.1,566.1 1032.6,568.5 1033.1,570.7 1033.6,572.5 1034.1,573.7 1034.6,574.3 1035.1,574.1 1035.6,572.9 1036.1,571 1036.6,568.7 1037.1,566.3 1037.6,564 1038.1,562.3 1038.6,561.5 1039.1,561.5 1039.6,562 1040.1,562.8 1040.6,563.9 1041.1,565.1 1041.6,566.5 1042.1,567.9 1042.6,569.2 1043.1,570.4 1043.6,571.3 1044.1,572 1044.6,572.4 1045.1,572.2 1045.6,571.3 1046.1,569.8 1046.6,567.9 1047.1,565.8 1047.6,563.6 1048.1,561.6 1048.6,559.8 1049.1,558.6 1049.6,558 1050.1,558.4 1050.6,560.3 1051.1,563.2 1051.6,566.7 1052.1,570.2 1052.6,573.2 1053.1,575.3 1053.6,575.9 1054.1,574.4 1054.6,571.3 1055.1,567.3 1055.6,563.4 1056.1,560.1 1056.6,558.5 1057.1,558.9 1057.6,560.9 1058.1,563.8 1058.6,567 1059.1,570.2 1059.6,572.6 1060.1,573.8 1060.6,573.8 1061.1,573.2 1061.6,572.4 1062.1,571.3 1062.6,569.9 1063.1,568.5 1063.6,566.9 1064.1,565.4 1064.6,563.9 1065.1,562.6 1065.6,561.5 1066.1,560.6 1066.6,560.1 1067.1,559.9 1067.6,560.4 1068.1,561.6 1068.6,563.2 1069.1,565.1 1069.6,567.3 1070.1,569.4 1070.6,571.5 1071.1,573.3 1071.6,574.8 1072.1,575.7 1072.6,575.9 1073.1,575.2 1073.6,573.8 1074.1,571.7 1074.6,569.2 1075.1,566.5 1075.6,563.7 1076.1,560.9 1076.6,558.5 1077.1,556.5 1077.6,555 1078.1,554.4 1078.6,554.8 1079.1,556.3 1079.6,558.5 1080.1,561.4 1080.6,564.6 1081.1,568.1 1081.6,571.5 1082.1,574.8 1082.6,577.6 1083.1,579.7 1083.6,581.1 1084.1,581.3 1084.6,579.8 1085.1,576.9 1085.6,572.8 1086.1,568.2 1086.6,563.5 1087.1,559.2 1087.6,555.7 1088.1,553.4 1088.6,553 1089.1,553.8 1089.6,555.6 1090.1,558 1090.6,560.9 1091.1,564 1091.6,567.2 1092.1,570.2 1092.6,572.8 1093.1,574.9 1093.6,576.1 1094.1,576.4 1094.6,575.9 1095.1,575 1095.6,573.7 1096.1,572.1 1096.6,570.4 1097.1,568.6 1097.6,566.8 1098.1,565.2 1098.6,563.8 1099.1,562.7 1099.6,562 1100.1,561.9 1100.6,562.4 1101.1,563.3 1101.6,564.5 1102.1,565.8 1102.6,567.1 1103.1,568.1 1103.6,568.8 1104.1,568.9 1104.6,568.5 1105.1,567.7 1105.6,566.9 1106.1,566.1 1106.6,565.5 1107.1,565.4 1107.6,565.6 1108.1,565.9 1108.6,566.3 1109.1,566.6 1109.6,566.9 1110.1,566.9 1110.6,566.9 1111.1,566.8 1111.6,566.7 1112.1,566.6 1112.6,566.5 1113.1,566.4 1113.6,566.3 1114.1,566.2 1114.6,566.1 1115.1,566 1115.6,565.9 1116.1,566 1116.6,566.7 1117.1,567.8 1117.6,568.9 1118.1,569.7 1118.6,569.8 1119.1,568.7 1119.6,566.8 1120.1,565 1120.6,563.7 1121.1,563.5 1121.6,564 1122.1,564.9 1122.6,566.1 1123.1,567.2 1123.6,568.2 1124.1,568.8 1124.6,568.8 1125.1,568.4 1125.6,567.5 1126.1,566.5 1126.6,565.4 1127.1,564.6 1127.6,564 1128.1,564.1 1128.6,565.5 1129.1,567.8 1129.6,570 1130.1,571.6 1130.6,571.6 1131.1,569.3 1131.6,565.7 1132.1,561.7 1132.6,558.6 1133.1,557.4 1133.6,558.9 1134.1,562.5 1134.6,567.2 1135.1,572.1 1135.6,576.4 1136.1,579 1136.6,578.9 1137.1,575.3 1137.6,569.6 1138.1,563.5 1138.6,558.7 1139.1,556.9 1139.6,558.7 1140.1,562.5 1140.6,567.1 1141.1,571 1141.6,572.9 1142.1,571.8 1142.6,569 1143.1,565.6 1143.6,563.3 1144.1,563.1 1144.6,564.3 1145.1,566.3 1145.6,568.5 1146.1,570.5 1146.6,571.7 1147.1,571.7 1147.6,570.3 1148.1,568.1 1148.6,565.6 1149.1,563.4 1149.6,562.1 1150.1,562.1 1150.6,563.4 1151.1,565.3 1151.6,567.6 1152.1,569.5 1152.6,570.7 1153.1,570.8 1153.6,570.3 1154.1,569.3 1154.6,568 1155.1,566.6 1155.6,565.1 1156.1,563.7 1156.6,562.4 1157.1,561.5 1157.6,561 1158.1,561.6 1158.6,565.4 1159.1,570.4 1159.6,573.9 1160.1,574 1160.6,571.8 1161.1,568.5 1161.6,565 1162.1,562.1 1162.6,560.9 1163.1,561.7 1163.6,563.6 1164.1,566.1 1164.6,568.3 1165.1,569.7 1165.6,569.7 1166.1,568.7 1166.6,567.3 1167.1,565.9 1167.6,565 1168.1,565 1168.6,565.3 1169.1,565.7 1169.6,566.2 1170.1,566.6 1170.6,566.9 1171.1,566.9 1171.6,566.7 1172.1,566.5 1172.6,566.3 1173.1,566 1173.6,565.7 1174.1,565.5 1174.6,565.4 1175.1,565.5 1175.6,566.2 1176.1,567.3 1176.6,568.6 1177.1,569.8 1177.6,570.8 1178.1,571.3 1178.6,571 1179.1,569 1179.6,566.1 1180.1,562.9 1180.6,560.1 1181.1,558.6 1181.6,559.8 1182.1,565.9 1182.6,573.4 1183.1,578.4 1183.6,577.6 1184.1,571.5 1184.6,563.1 1185.1,555.1 1185.6,550.3 1186.1,551.6 1186.6,558.8 1187.1,568.8 1187.6,578.3 1188.1,583.9 1188.6,583.1 1189.1,577.5 1189.6,569.4 1190.1,561.3 1190.6,555.4 1191.1,554.1 1191.6,557.7 1192.1,563.8 1192.6,569.9 1193.1,573.6 1193.6,573.4 1194.1,571.5 1194.6,568.9 1195.1,566.4 1195.6,565 1196.1,564.9 1196.6,565 1197.1,565 1197.6,565.1 1198.1,565.2 1198.6,565.4 1199.1,565.7 1199.6,566.8 1200.1,568.3 1200.6,569.9 1201.1,571.2 1201.6,571.9 1202.1,571.6 1202.6,570.5 1203.1,568.7 1203.6,566.5 1204.1,564.1 1204.6,561.8 1205.1,559.7 1205.6,558.2 1206.1,557.5 1206.6,558.2 1207.1,561.5 1207.6,566.1 1208.1,571 1208.6,575.1 1209.1,577.3 1209.6,576.2 1210.1,572 1210.6,566.1 1211.1,560.3 1211.6,556.3 1212.1,555.7 1212.6,558.9 1213.1,564.2 1213.6,570 1214.1,574.5 1214.6,575.8 1215.1,573.1 1215.6,568.1 1216.1,563 1216.6,560 1217.1,561 1217.6,564.5 1218.1,568.4 1218.6,570.8 1219.1,569.8 1219.6,566.3 1220.1,562.3 1220.6,560 1221.1,562 1221.6,569 1222.1,577.3 1222.6,583.6 1223.1,584.5 1223.6,581.2 1224.1,574.9 1224.6,566.7 1225.1,557.7 1225.6,548.8 1226.1,540.9 1226.6,535.2 1227.1,532.5 1227.6,534.2 1228.1,540.8 1228.6,550.9 1229.1,563.4 1229.6,577.1 1230.1,590.8 1230.6,603.3 1231.1,613.3 1231.6,619.6 1232.1,620.7 1232.6,607.8 1233.1,583.3 1233.6,554.6 1234.1,529.1 1234.6,514.3 1235.1,515.8 1235.6,529.5 1236.1,550.4 1236.6,573.9 1237.1,595.3 1237.6,610 1238.1,613.5 1238.6,607.9 1239.1,596.7 1239.6,582.1 1240.1,566.3 1240.6,551.5 1241.1,540 1241.6,533.9 1242.1,534.9 1242.6,541.9 1243.1,552.6 1243.6,564.8 1244.1,576.4 1244.6,585.3 1245.1,589.3 1245.6,587.3 1246.1,581.2 1246.6,572.8 1247.1,564.3 1247.6,557.5 1248.1,554.4 1248.6,556.9 1249.1,563.4 1249.6,570.2 1250.1,573.8 1250.6,573.4 1251.1,571.9 1251.6,569.9 1252.1,567.7 1252.6,565.8 1253.1,564.5 1253.6,563.4 1254.1,562.3 1254.6,561.3 1255.1,560.5 1255.6,560 1256.1,560.1 1256.6,562.8 1257.1,567.7 1257.6,573.3 1258.1,578.1 1258.6,580.7 1259.1,579.9 1259.6,576.1 1260.1,570.3 1260.6,563.6 1261.1,556.9 1261.6,551.2 1262.1,547.7 1262.6,547.1 1263.1,549.4 1263.6,553.7 1264.1,559.6 1264.6,566.1 1265.1,572.8 1265.6,578.9 1266.1,583.8 1266.6,586.7 1267.1,587 1267.6,583.3 1268.1,576.7 1268.6,568.7 1269.1,561.1 1269.6,555.3 1270.1,552.9 1270.6,555 1271.1,560.3 1271.6,566.9 1272.1,572.7 1272.6,575.7 1273.1,574.7 1273.6,570.9 1274.1,566.1 1274.6,562.2 1275.1,560.4 1275.6,559.4 1276.1,558.4 1276.6,557.6 1277.1,556.8 1277.6,556.1 1278.1,555.5 1278.6,555 1279.1,554.6 1279.6,554.2 1280.1,554 1280.6,553.9 1281.1,554.3 1281.6,558.6 1282.1,565.7 1282.6,573.8 1283.1,581.2 1283.6,586 1284.1,586.7 1284.6,585 1285.1,581.8 1285.6,577.6 1286.1,572.5 1286.6,566.9 1287.1,561.2 1287.6,555.8 1288.1,550.9 1288.6,546.9 1289.1,544.1 1289.6,542.9 1290.1,543.8 1290.6,546.7 1291.1,551.2 1291.6,556.9 1292.1,563.2 1292.6,569.6 1293.1,575.8 1293.6,581.1 1294.1,585.2 1294.6,587.5 1295.1,587.1 1295.6,581.9 1296.1,573.4 1296.6,563.8 1297.1,555.1 1297.6,549.7 1298.1,549.8 1298.6,556.1 1299.1,565.7 1299.6,575.4 1300.1,581.9 1300.6,582.1 1301.1,576.8 1301.6,568.9 1302.1,560.9 1302.6,555.7 1303.1,555.5 1303.6,559.2 1304.1,564.9 1304.6,570.6 1305.1,574.3 1305.6,574.4 1306.1,571.8 1306.6,567.8 1307.1,563.8 1307.6,561.2 1308.1,561.4 1308.6,564.5 1309.1,568.8 1309.6,572.5 1310.1,573.8 1310.6,571.6 1311.1,567.2 1311.6,562.5 1312.1,559.3 1312.6,559.5 1313.1,563.3 1313.6,568.7 1314.1,573.6 1314.6,575.8 1315.1,573.8 1315.6,568.8 1316.1,563.2 1316.6,559.4 1317.1,559.4 1317.6,562.3 1318.1,566.6 1318.6,570.8 1319.1,573.5 1319.6,573.7 1320.1,572.5 1320.6,570.5 1321.1,568 1321.6,565.2 1322.1,562.4 1322.6,559.9 1323.1,558 1323.6,557 1324.1,557.8 1324.6,562.7 1325.1,569.7 1325.6,576.6 1326.1,580.9 1326.6,580.6 1327.1,576.8 1327.6,570.7 1328.1,563.8 1328.6,557.2 1329.1,552.3 1329.6,550.4 1330.1,550.8 1330.6,552 1331.1,553.9 1331.6,556.2 1332.1,558.8 1332.6,561.6 1333.1,564.4 1333.6,567.1 1334.1,569.6 1334.6,571.6 1335.1,573.1 1335.6,573.8 1336.1,573.6 1336.6,572.3 1337.1,570.3 1337.6,568.2 1338.1,566.2 1338.6,565 1339.1,564.7 1339.6,564.5 1340.1,564.3 1340.6,564.2 1341.1,564.1 1341.6,564 1342.1,563.9 1342.6,563.9 1343.1,564.3 1343.6,566.1 1344.1,568.5 1344.6,570.9 1345.1,572.2 1345.6,572 1346.1,570.2 1346.6,567.6 1347.1,564.7 1347.6,562.3 1348.1,561 1348.6,561.4 1349.1,563.8 1349.6,567 1350.1,570 1350.6,571.7 1351.1,571.1 1351.6,568 1352.1,564.4 1352.6,562 1353.1,562.7 1353.6,565.9 1354.1,569.7 1354.6,572.2 1355.1,571.7 1355.6,569.1 1356.1,565.6 1356.6,562.4 1357.1,560.5 1357.6,561 1358.1,563.6 1358.6,567.1 1359.1,570.4 1359.6,572.2 1360.1,572 1360.6,570.7 1361.1,568.9 1361.6,567.1 1362.1,566 1362.6,565.7 1363.1,565.5 1363.6,565.4 1364.1,565.4 1364.6,565.3 1365.1,565.1 1365.6,564.9 1366.1,564.2 1366.6,562.1 1367.1,559.6 1367.6,557.2 1368.1,555.9 1368.6,558.3 1369.1,566.5 1369.6,575.9 1370.1,581.6 1370.6,580 1371.1,573.6 1371.6,565.1 1372.1,557.3 1372.6,553.1 1373.1,554.2 1373.6,558.6 1374.1,564.5 1374.6,569.8 1375.1,572.7 1375.6,572.4 1376.1,570.9 1376.6,568.7 1377.1,566.2 1377.6,563.8 1378.1,562.1 1378.6,561.1 1379.1,560.1 1379.6,559.2 1380.1,558.5 1380.6,558 1381.1,557.9 1381.6,558.8 1382.1,560.9 1382.6,563.7 1383.1,567.1 1383.6,570.6 1384.1,574.2 1384.6,577.3 1385.1,579.9 1385.6,581.5 1386.1,581.8 1386.6,580.7 1387.1,578.4 1387.6,575.3 1388.1,571.7 1388.6,567.9 1389.1,564.5 1389.6,561.7 1390.1,559.9 1390.6,559.5 1391.1,560.6 1391.6,562.6 1392.1,564.8 1392.6,566.4 1393.1,566.9 1393.6,566.7 1394.1,566.3 1394.6,565.8 1395.1,565.3 1395.6,565 1396.1,565.1 1396.6,567.9 1397.1,571.7 1397.6,572.7 1398.1,569.6 1398.6,564.5 1399.1,560.1 1399.6,559.1 1400.1,561.7 1400.6,566.5 1401.1,571.6 1401.6,575.4 1402.1,576.3 1402.6,575.1 1403.1,572.8 1403.6,569.6 1404.1,566.1 1404.6,562.6 1405.1,559.6 1405.6,557.4 1406.1,556.4 1406.6,557.8 1407.1,561.8 1407.6,566.9 1408.1,572 1408.6,575.5 1409.1,576.2 1409.6,573.8 1410.1,569.5 1410.6,565 1411.1,561.7 1411.6,561.1 1412.1,563.7 1412.6,567.7 1413.1,571.1 1413.6,571.8 1414.1,570.1 1414.6,567.2 1415.1,564.1 1415.6,561.9 1416.1,561.5 1416.6,563.2 1417.1,566.1 1417.6,569.4 1418.1,572.3 1418.6,573.8 1419.1,573.1 1419.6,570.1 1420.1,566.3 1420.6,562.9 1421.1,561.4 1421.6,562 1422.1,563.5 1422.6,565.5 1423.1,567.4 1423.6,568.6 1424.1,568.9 1424.6,568.8 1425.1,568.7 1425.6,568.4 1426.1,568.2 1426.6,567.8 1427.1,567.5 1427.6,567.1 1428.1,566.7 1428.6,566.1 1429.1,565.3 1429.6,564.4 1430.1,563.6 1430.6,562.9 1431.1,562.5 1431.6,562.5 1432.1,563.5 1432.6,565.3 1433.1,567.6 1433.6,570.2 1434.1,572.5 1434.6,574.5 1435.1,575.7 1435.6,575.8 1436.1,574.7 1436.6,572.7 1437.1,570 1437.6,567 1438.1,563.9 1438.6,561.1 1439.1,558.6 1439.6,557 1440.1,556.4 1440.6,556.9 1441.1,558.1 1441.6,559.9 1442.1,562.1 1442.6,564.5 1443.1,567 1443.6,569.3 1444.1,571.3 1444.6,572.9 1445.1,573.8 1445.6,573.8 1446.1,572.7 1446.6,570.8 1447.1,568.5 1447.6,566.1 1448.1,564 1448.6,562.4 1449.1,561.9 1449.6,562.7 1450.1,564.6 1450.6,567.1 1451.1,569.5 1451.6,571.2 1452.1,571.9 1452.6,570.6 1453.1,567.9 1453.6,564.6 1454.1,561.8 1454.6,560.4 1455.1,561.9 1455.6,566.1 1456.1,570.9 1456.6,574.3 1457.1,574.5 1457.6,572 1458.1,568 1458.6,563.4 1459.1,559.3 1459.6,556.8 1460.1,556.6 1460.6,557.9 1461.1,560.1 1461.6,563 1462.1,566.2 1462.6,569.4 1463.1,572.3 1463.6,574.5 1464.1,575.7 1464.6,575.7 1465.1,574.4 1465.6,572.1 1466.1,569.4 1466.6,566.6 1467.1,564.1 1467.6,562.4 1468.1,561.9 1468.6,562.2 1469.1,563 1469.6,564 1470.1,565.2 1470.6,566.4 1471.1,567.5 1471.6,568.4 1472.1,568.8 1472.6,568.8 1473.1,568.5 1473.6,567.8 1474.1,567 1474.6,566.2 1475.1,565.3 1475.6,564.6 1476.1,564.1 1476.6,563.9 1477.1,564.1 1477.6,564.7 1478.1,565.7 1478.6,566.8 1479.1,568.2 1479.6,569.5 1480.1,570.9 1480.6,572.1 1481.1,573.2 1481.6,573.9 1482.1,574.3 1482.6,574.3 1483.1,573.6 1483.6,572.4 1484.1,570.7 1484.6,568.9 1485.1,566.9 1485.6,564.8 1486.1,562.9 1486.6,561.3 1487.1,559.9 1487.6,559.1 1488.1,558.9 1488.6,559.5 1489.1,560.7 1489.6,562.3 1490.1,564.2 1490.6,566.1 1491.1,567.9 1491.6,569.5 1492.1,570.5 1492.6,570.9 1493.1,569.9 1493.6,567.8 1494.1,565.5 1494.6,564 1495.1,564 1495.6,564.5 1496.1,565.1 1496.6,565.9 1497.1,566.5 1497.6,566.9 1498.1,566.9 1498.6,566.9 1499.1,566.8 1499.6,566.8 1500.1,566.7 1500.6,566.6 1501.1,566.5 1501.6,566.4 1502.1,566.3 1502.6,566.1 1503.1,565.9 1503.6,565.6 1504.1,565.2 1504.6,565 1505.1,564.7 1505.6,564.5 1506.1,564.4 1506.6,564.6 1507.1,565.2 1507.6,566.3 1508.1,567.7 1508.6,569.2 1509.1,570.6 1509.6,571.9 1510.1,572.9 1510.6,573.4 1511.1,573.2 1511.6,572.5 1512.1,571.3 1512.6,569.8 1513.1,567.9 1513.6,565.8 1514.1,563.7 1514.6,561.6 1515.1,559.6 1515.6,557.9 1516.1,556.4 1516.6,555.4 1517.1,555 1517.6,555.2 1518.1,556.2 1518.6,558 1519.1,560.3 1519.6,563 1520.1,565.9 1520.6,569 1521.1,571.9 1521.6,574.7 1522.1,577 1522.6,578.9 1523.1,580 1523.6,580.4 1524.1,579.8 1524.6,578.4 1525.1,576.4 1525.6,574 1526.1,571.2 1526.6,568.3 1527.1,565.3 1527.6,562.5 1528.1,560.1 1528.6,558 1529.1,556.6 1529.6,556 1530.1,556.6 1530.6,559.2 1531.1,563 1531.6,567.4 1532.1,571.5 1532.6,574.7 1533.1,576.3 1533.6,575.4 1534.1,572.1 1534.6,567.5 1535.1,562.7 1535.6,558.9 1536.1,557.4 1536.6,559 1537.1,562.9 1537.6,567.7 1538.1,572.1 1538.6,574.7 1539.1,574.4 1539.6,571.5 1540.1,567.2 1540.6,562.6 1541.1,559.1 1541.6,557.6 1542.1,558.2 1542.6,559.8 1543.1,562 1543.6,564.4 1544.1,566.7 1544.6,568.6 1545.1,570 1545.6,571.4 1546.1,572.6 1546.6,573.7 1547.1,574.7" fill="none" stroke="#344aa0" stroke-width="3.3" stroke-linejoin="round" stroke-linecap="butt"/>
<path d="M144.6,937.7 145,938.9 145.5,940.3 146,941.6 146.5,942.9 147,944 147.5,945 148,945.9 148.5,946.7 149,947.5 149.5,948.2 150,948.8 150.5,949.2 151,949.3 151.5,949.1 152,948.4 152.5,947.3 153,945.9 153.5,944.4 154,942.8 154.5,940.5 155,937.3 155.5,933.5 156,929.5 156.5,925.8 157,922.8 157.5,920.1 158,917.4 158.5,915.1 159,913.1 159.5,911.9 160,911 160.5,910.3 161,910 161.5,910.1 162,910.7 162.5,911.7 163,913 163.5,915.3 164,918.9 164.5,923.2 165,927.5 165.5,931.1 166,934.6 166.5,938.1 167,941.1 167.5,943 168,944.2 168.5,945.1 169,945.6 169.5,945.4 170,944.5 170.5,943.1 171,941.7 171.5,940.1 172,938.1 172.5,935.9 173,933.6 173.5,931.5 174,929.7 174.5,928 175,926.2 175.5,924.5 176,922.9 176.5,921.5 177,920.5 177.5,919.8 178,919.4 178.5,919 179,918.7 179.5,918.5 180,918.4 180.5,918.4 181,918.5 181.5,918.5 182,918.6 182.5,918.7 183,919.6 183.5,921.2 184,923.2 184.5,925.2 185,927.7 185.5,930.7 186,933.4 186.5,935.1 187,936.2 187.5,937.1 188,937.4 188.5,936.7 189,935.3 189.5,933.6 190,930.6 190.5,927 191,924.6 191.5,922.9 192,921.9 192.5,922.3 193,923.6 193.5,925.2 194,927.6 194.5,930.4 195,932.6 195.5,933.8 196,934.8 196.5,935.3 197,935.1 197.5,933.9 198,932.2 198.5,930.5 199,928.5 199.5,926.4 200,925.2 200.5,924.5 201,924 201.5,923.9 202,924.2 202.5,924.8 203,925.5 203.5,926.3 204,927.1 204.5,927.9 205,928.8 205.5,929.8 206,930.7 206.5,931.4 207,932 207.5,932.5 208,932.9 208.5,933.3 209,933.6 209.5,933.8 210,933.9 210.5,933.7 211,933.3 211.5,932.8 212,932.3 212.5,931.7 213,931.3 213.5,930.8 214,930.2 214.5,929.6 215,929 215.5,928.5 216,928 216.5,927.6 217,927.3 217.5,927 218,926.8 218.5,926.6 219,926.4 219.5,926.2 220,926.1 220.5,926.1 221,926.2 221.5,926.4 222,926.7 222.5,927 223,927.3 223.5,927.7 224,928 224.5,928.4 225,928.8 225.5,929.3 226,929.7 226.5,930.1 227,930.4 227.5,930.6 228,930.7 228.5,930.5 229,930.3 229.5,929.9 230,929.5 230.5,929.1 231,928.8 231.5,928.3 232,927.8 232.5,927.3 233,926.8 233.5,926.4 234,926.1 234.5,926.1 235,926.4 235.5,927 236,927.7 236.5,928.4 237,929.1 237.5,930 238,930.9 238.5,931.8 239,932.5 239.5,933 240,933.5 240.5,933.8 241,934 241.5,934 242,933.6 242.5,932.9 243,932 243.5,931 244,929.6 244.5,927.8 245,926.1 245.5,924.6 246,923.5 246.5,922.6 247,921.8 247.5,921.2 248,920.8 248.5,920.7 249,920.8 249.5,920.9 250,921.1 250.5,921.3 251,921.5 251.5,921.8 252,922.2 252.5,922.6 253,922.9 253.5,923.3 254,923.5 254.5,923.6 255,923.7 255.5,923.9 256,924 256.5,924.1 257,924.3 257.5,924.5 258,925 258.5,925.5 259,926.2 259.5,927 260,927.7 260.5,928.5 261,929.4 261.5,930.3 262,931.3 262.5,932.3 263,933.4 263.5,934.6 264,936 264.5,937.4 265,938.8 265.5,939.9 266,940.7 266.5,941.6 267,942.3 267.5,942.9 268,943.3 268.5,943.3 269,942.9 269.5,942.2 270,941.4 270.5,940.4 271,939.3 271.5,937.9 272,936.2 272.5,934.3 273,932.5 273.5,930.7 274,929.1 274.5,927.6 275,926 275.5,924.4 276,923 276.5,921.8 277,920.8 277.5,920.1 278,919.4 278.5,918.8 279,918.4 279.5,918.1 280,918.2 280.5,918.5 281,919.1 281.5,919.8 282,920.6 282.5,921.3 283,922.2 283.5,923.2 284,924.3 284.5,925.4 285,926.5 285.5,927.5 286,928.4 286.5,929.2 287,930.1 287.5,930.9 288,931.6 288.5,932.2 289,932.6 289.5,932.9 290,933.3 290.5,933.6 291,933.8 291.5,933.9 292,933.9 292.5,933.7 293,933.5 293.5,933.2 294,932.9 294.5,932.5 295,932.1 295.5,931.3 296,930.4 296.5,929.5 297,928.9 297.5,928.4 298,928 298.5,927.6 299,927.2 299.5,926.9 300,926.6 300.5,926.4 301,926.4 301.5,926.5 302,926.8 302.5,927.2 303,927.7 303.5,928.3 304,929 304.5,929.7 305,930.3 305.5,930.9 306,931.4 306.5,931.9 307,932.4 307.5,932.9 308,933.4 308.5,933.9 309,934.3 309.5,934.6 310,934.8 310.5,934.9 311,934.8 311.5,934.4 312,933.9 312.5,933.3 313,932.5 313.5,931.6 314,930.7 314.5,929.8 315,928.8 315.5,927.6 316,926.1 316.5,924.3 317,922.6 317.5,920.9 318,919.7 318.5,918.9 319,918.4 319.5,917.9 320,917.5 320.5,917.2 321,916.9 321.5,916.8 322,916.7 322.5,916.8 323,917.1 323.5,917.5 324,918.1 324.5,918.8 325,919.5 325.5,920.2 326,921 326.5,921.9 327,923.1 327.5,924.4 328,925.9 328.5,927.5 329,929.2 329.5,930.8 330,932.3 330.5,933.8 331,935 331.5,936.2 332,937.4 332.5,938.6 333,939.7 333.5,940.7 334,941.6 334.5,942.4 335,942.9 335.5,943.4 336,943.8 336.5,944.1 337,944.3 337.5,944.4 338,944.2 338.5,943.7 339,943.1 339.5,942.4 340,941.6 340.5,940.7 341,939.7 341.5,938.5 342,937 342.5,935.5 343,933.8 343.5,932.2 344,930.6 344.5,928.9 345,927 345.5,925 346,923.2 346.5,921.8 347,920.8 347.5,920 348,919.3 348.5,918.8 349,918.7 349.5,919.1 350,919.9 350.5,921 351,922.1 351.5,924 352,926.5 352.5,929.2 353,931.5 353.5,933.1 354,934.4 354.5,935.4 355,936.2 355.5,936.3 356,935.5 356.5,934 357,932.1 357.5,930.6 358,928.9 358.5,927 359,925.4 359.5,924.2 360,923.9 360.5,924.6 361,925.9 361.5,927.5 362,929 362.5,930.1 363,931.2 363.5,932.2 364,933.1 364.5,933.7 365,933.8 365.5,932.5 366,930.2 366.5,927.9 367,926.7 367.5,926 368,925.7 368.5,926.4 369,928.3 369.5,930.4 370,931.8 370.5,933.1 371,934.1 371.5,934.3 372,932.4 372.5,929.5 373,927.1 373.5,925.7 374,924.7 374.5,924.5 375,926 375.5,928.4 376,930.7 376.5,932.4 377,934.2 377.5,935.5 378,935.8 378.5,934 379,930.9 379.5,927.6 380,925.3 380.5,923.1 381,921.2 381.5,920.2 382,920.8 382.5,923.3 383,926.9 383.5,930.1 384,932.7 384.5,935.4 385,937.9 385.5,939.5 386,939.8 386.5,938.8 387,936.9 387.5,934.6 388,932.3 388.5,930.2 389,928 389.5,925.7 390,923.5 390.5,921.7 391,920.6 391.5,919.7 392,919.1 392.5,918.7 393,919 393.5,920.1 394,921.9 394.5,923.8 395,925.8 395.5,927.5 396,929.3 396.5,931.4 397,933.5 397.5,935.3 398,936.8 398.5,937.7 399,937.8 399.5,936.8 400,934.9 400.5,932.6 401,930.2 401.5,928 402,926.3 402.5,924.6 403,922.9 403.5,921.5 404,920.6 404.5,920.5 405,921.8 405.5,924.2 406,926.9 406.5,929.6 407,931.7 407.5,934 408,936.3 408.5,938.5 409,940.1 409.5,940.8 410,940.1 410.5,937.6 411,934.2 411.5,930.6 412,927.7 412.5,924.3 413,920.7 413.5,917.7 414,915.7 414.5,915.7 415,918 415.5,922 416,926.4 416.5,930.4 417,933.7 417.5,937.5 418,940.9 418.5,943.4 419,944.4 419.5,943.8 420,942.3 420.5,940.2 421,937.7 421.5,935 422,932.3 422.5,930 423,928 423.5,926 424,923.8 424.5,921.6 425,919.5 425.5,917.6 426,916 426.5,914.9 427,914.2 427.5,914.2 428,915.2 428.5,916.9 429,919.2 429.5,921.8 430,924.6 430.5,927.3 431,929.8 431.5,931.9 432,934.2 432.5,936.8 433,939.3 433.5,941.7 434,943.9 434.5,945.7 435,946.9 435.5,947.3 436,946.8 436.5,945 437,942.3 437.5,939.1 438,935.7 438.5,932.3 439,929.3 439.5,925.8 440,921.9 440.5,918 441,914.2 441.5,910.8 442,908 442.5,905.8 443,903.7 443.5,901.8 444,900.5 444.5,899.9 445,900.9 445.5,903.5 446,907.3 446.5,911.8 447,917.2 447.5,926 448,936.3 448.5,945.6 449,952.6 449.5,959.5 450,965.4 450.5,968.9 451,968.7 451.5,965 452,959.1 452.5,952 453,943.4 453.5,930.5 454,919.1 454.5,911.2 455,904.3 455.5,898.5 456,894 456.5,890.1 457,886.6 457.5,884 458,883 458.5,884 459,886.6 459.5,890.1 460,894 460.5,898.7 461,905.1 461.5,912.4 462,920 462.5,927.4 463,934 463.5,940.2 464,946.5 464.5,952.4 465,957.4 465.5,960.9 466,963.5 466.5,965.5 467,966.3 467.5,965.6 468,963.8 468.5,961.4 469,958.7 469.5,955.2 470,950.3 470.5,944.7 471,938.8 471.5,933.3 472,928.7 472.5,924.5 473,920.4 473.5,917 474,914.8 474.5,913.4 475,912.5 475.5,912.8 476,914.7 476.5,917.4 477,920.4 477.5,924.9 478,929.7 478.5,933.1 479,935.4 479.5,936.4 480,934.4 480.5,931.1 481,929.1 481.5,927.4 482,926.5 482.5,927.3 483,930.3 483.5,931.9 484,931.4 484.5,930.4 485,929.2 485.5,928 486,926.5 486.5,925 487,923.8 487.5,923.4 488,924.7 488.5,927.5 489,930.6 489.5,933.1 490,935.3 490.5,937.4 491,939.4 491.5,940.9 492,942 492.5,942.7 493,943.3 493.5,943.6 494,943.5 494.5,942.4 495,940.6 495.5,938.6 496,935.1 496.5,930.1 497,924.7 497.5,919.8 498,916.5 498.5,914 499,911.9 499.5,910.6 500,910.8 500.5,912.8 501,916 501.5,919.5 502,924.7 502.5,931.3 503,937.4 503.5,941.3 504,944 504.5,945.7 505,945.5 505.5,943.7 506,941.1 506.5,938.4 507,935.1 507.5,931.2 508,927.2 508.5,923.8 509,921.6 509.5,919.8 510,918.3 510.5,917.5 511,917.7 511.5,919 512,921.1 512.5,923.3 513,925.2 513.5,927.1 514,929.1 514.5,931 515,932.7 515.5,934.1 516,935 516.5,935.8 517,936.4 517.5,937 518,937.3 518.5,937.3 519,936.7 519.5,935.4 520,933.8 520.5,932.1 521,930.5 521.5,928.8 522,926.9 522.5,925.1 523,923.6 523.5,922.7 524,922.1 524.5,921.6 525,921.4 525.5,921.6 526,922.4 526.5,923.4 527,924.7 527.5,926 528,927.2 528.5,928.5 529,929.9 529.5,931.5 530,932.9 530.5,934.2 531,935.3 531.5,936 532,936.7 532.5,937.2 533,937.7 533.5,938.1 534,938.3 534.5,938.3 535,937.8 535.5,936.8 536,935.5 536.5,934 537,932.3 537.5,929.8 538,926.7 538.5,924 539,922.6 539.5,921.7 540,921 540.5,921 541,922.6 541.5,925.1 542,927.7 542.5,931.1 543,934.2 543.5,935.6 544,936.2 544.5,936.2 545,933.8 545.5,930.5 546,928.3 546.5,926.5 547,924.9 547.5,923.9 548,923.7 548.5,924.4 549,925.5 549.5,926.9 550,928.2 550.5,929.2 551,930.2 551.5,931.1 552,931.9 552.5,932.6 553,933 553.5,933.3 554,933.6 554.5,933.7 555,933.4 555.5,932.4 556,931 556.5,929.6 557,928.5 557.5,927.3 558,926.2 558.5,925.2 559,924.5 559.5,924.5 560,925.1 560.5,926.3 561,927.7 561.5,929.1 562,930.4 562.5,931.7 563,933.1 563.5,934.1 564,934.5 564.5,934.7 565,934.8 565.5,934.7 566,933.6 566.5,931.7 567,929.8 567.5,928.4 568,927 568.5,925.7 569,924.5 569.5,923.7 570,923.4 570.5,924.1 571,925.8 571.5,927.9 572,930 572.5,931.5 573,933.2 573.5,934.7 574,935.7 574.5,935.7 575,934 575.5,931.4 576,928.9 576.5,927.2 577,925.7 577.5,924.4 578,923.4 578.5,922.9 579,923.3 579.5,924.7 580,926.5 580.5,928.2 581,929.4 581.5,930.6 582,931.8 582.5,932.6 583,933 583.5,933.3 584,933.5 584.5,933.7 585,934.1 585.5,934.9 586,935.9 586.5,936.9 587,937.8 587.5,938.3 588,938.2 588.5,936.7 589,934.4 589.5,932 590,929.8 590.5,927.2 591,924.3 591.5,921.6 592,919.4 592.5,918.1 593,918.2 593.5,920 594,923 594.5,926.4 595,929.6 595.5,932.2 596,935.1 596.5,938 597,940.6 597.5,942.3 598,942.8 598.5,941.4 599,938.2 599.5,934.2 600,930.4 600.5,927.1 601,923.4 601.5,919.8 602,916.9 602.5,915.7 603,917.1 603.5,920.6 604,925.2 604.5,929.4 605,932.6 605.5,935.9 606,939 606.5,941.2 607,941.8 607.5,940.5 608,937.7 608.5,934.1 609,930.4 609.5,926.5 610,922.9 610.5,921.9 611,921.1 611.5,920.6 612,920.4 612.5,921.7 613,924.7 613.5,928.2 614,930.9 614.5,932.8 615,934.5 615.5,935.7 616,935.7 616.5,933.9 617,931.2 617.5,928.9 618,926.9 618.5,925.2 619,924.4 619.5,925.2 620,927.1 620.5,929.2 621,930.9 621.5,932.2 622,933.4 622.5,933.9 623,932.6 623.5,930 624,927.8 624.5,926.4 625,925.5 625.5,925.7 626,927.2 626.5,929.2 627,930.9 627.5,932.4 628,933.8 628.5,934.4 629,933.4 629.5,931.2 630,928.7 630.5,926.8 631,925.5 631.5,924.2 632,923.2 632.5,922.9 633,923.6 633.5,925.1 634,927.1 634.5,929.2 635,931 635.5,932.6 636,934.3 636.5,935.9 637,937.1 637.5,937.9 638,938.4 638.5,938.7 639,938.9 639.5,938.2 640,936.7 640.5,934.7 641,932.7 641.5,929.9 642,926.4 642.5,923 643,920.7 643.5,919.1 644,917.7 644.5,916.8 645,917.1 645.5,919.9 646,923.8 646.5,928.4 647,934.3 647.5,938.1 648,940 648.5,941.2 649,941.1 649.5,939.3 650,936.9 650.5,934.6 651,932.5 651.5,930.1 652,927.9 652.5,926 653,924.7 653.5,923.7 654,922.8 654.5,922 655,921.5 655.5,921.4 656,921.4 656.5,921.4 657,921.4 657.5,921.4 658,921.4 658.5,921.6 659,921.9 659.5,922.4 660,922.9 660.5,923.5 661,924 661.5,924.5 662,925.2 662.5,925.9 663,926.5 663.5,927 664,927.5 664.5,927.8 665,928.1 665.5,928.4 666,928.6 666.5,928.8 667,928.9 667.5,929 668,929.1 668.5,929.2 669,929.3 669.5,929.3 670,929.4 670.5,929.4 671,929.4 671.5,929.3 672,929.2 672.5,929 673,928.7 673.5,928.4 674,928.1 674.5,927.8 675,927.4 675.5,926.9 676,926.3 676.5,925.8 677,925.5 677.5,925.4 678,925.6 678.5,926 679,926.6 679.5,927.3 680,928.1 680.5,929.7 681,931.8 681.5,933.8 682,935.1 682.5,936.2 683,937.1 683.5,937.7 684,937.8 684.5,937.2 685,935.8 685.5,934.2 686,932.4 686.5,929.7 687,926.5 687.5,923.5 688,921.4 688.5,919.7 689,918.2 689.5,917.2 690,916.9 690.5,917.7 691,919 691.5,920.7 692,922.4 692.5,924.8 693,927.6 693.5,930.6 694,933.3 694.5,935.4 695,937.4 695.5,939.2 696,940.7 696.5,941.9 697,942.5 697.5,943 698,943.3 698.5,943.3 699,942.8 699.5,941.8 700,940.6 700.5,939.5 701,938.2 701.5,936.6 702,934.9 702.5,933.2 703,931.5 703.5,929.9 704,928.4 704.5,927 705,925.5 705.5,924.1 706,922.8 706.5,921.5 707,920.5 707.5,919.6 708,918.8 708.5,918.1 709,917.4 709.5,916.8 710,916.3 710.5,915.9 711,915.6 711.5,915.4 712,915.1 712.5,915 713,914.8 713.5,914.7 714,914.7 714.5,914.9 715,915.1 715.5,915.5 716,916 716.5,916.5 717,917.2 717.5,918.3 718,920 718.5,921.9 719,923.9 719.5,925.8 720,927.6 720.5,929.3 721,931.1 721.5,932.8 722,934.5 722.5,936.1 723,937.4 723.5,938.8 724,940 724.5,941.1 725,942 725.5,942.6 726,943 726.5,943.3 727,943.3 727.5,942.6 728,941.3 728.5,939.8 729,938.1 729.5,935.6 730,932.6 730.5,929.4 731,926.4 731.5,923.8 732,921.3 732.5,918.9 733,917.1 733.5,916 734,915.2 734.5,915.2 735,916 735.5,917.2 736,918.6 736.5,920.8 737,923.6 737.5,926.6 738,929.5 738.5,932 739,934.6 739.5,937.1 740,939.1 740.5,940.4 741,941.6 741.5,942.4 742,942.7 742.5,942.3 743,941.6 743.5,940.5 744,939.4 744.5,938.3 745,937 745.5,935.4 746,933.7 746.5,931.9 747,930.2 747.5,928.6 748,927.2 748.5,925.7 749,924.1 749.5,922.6 750,921.3 750.5,920.1 751,919.2 751.5,918.6 752,918.1 752.5,917.6 753,917.2 753.5,917 754,916.9 754.5,917.2 755,917.7 755.5,918.5 756,919.5 756.5,920.4 757,921.5 757.5,922.8 758,924.4 758.5,926.2 759,928 759.5,929.7 760,931.3 760.5,932.6 761,933.9 761.5,935.2 762,936.4 762.5,937.4 763,938.1 763.5,938.6 764,939.1 764.5,939.4 765,939.7 765.5,939.8 766,939.8 766.5,939.5 767,939 767.5,938.4 768,937.9 768.5,937.4 769,936.8 769.5,936.3 770,935.7 770.5,935.1 771,934.6 771.5,934 772,933.5 772.5,933 773,932.6 773.5,932.2 774,931.9 774.5,931.5 775,931.2 775.5,930.8 776,930.5 776.5,930.2 777,929.9 777.5,929.7 778,929.5" fill="none" stroke="#344aa0" stroke-width="3.2" stroke-linejoin="round" stroke-linecap="butt"/>
<path d="M915.1,942.5 915.6,941.8 916.1,941.1 916.6,940.2 917.1,939.4 917.6,938.5 918.1,937.5 918.6,936.6 919.1,935.5 919.6,934.3 920.1,933 920.6,931.6 921.1,930.2 921.6,928.8 922.1,927.5 922.6,926.2 923.1,924.9 923.6,923.8 924.1,922.7 924.6,921.6 925.1,920.5 925.6,919.5 926.1,918.5 926.6,917.6 927.1,916.8 927.6,916.1 928.1,915.6 928.6,915.2 929.1,914.8 929.6,914.4 930.1,914 930.6,913.7 931.1,913.4 931.6,913.2 932.1,913.1 932.6,913 933.1,913.1 933.6,913.2 934.1,913.5 934.6,913.8 935.1,914.2 935.6,914.6 936.1,915.1 936.6,915.6 937.1,916.2 937.6,917.1 938.1,918.2 938.6,919.5 939.1,920.8 939.6,922.3 940.1,923.7 940.6,925.1 941.1,926.4 941.6,927.6 942.1,928.8 942.6,930 943.1,931.2 943.6,932.4 944.1,933.5 944.6,934.6 945.1,935.5 945.6,936.4 946.1,937.2 946.6,937.8 947.1,938.4 947.6,939 948.1,939.6 948.6,940.1 949.1,940.5 949.6,940.8 950.1,941.1 950.6,941.3 951.1,941.6 951.6,941.7 952.1,941.7 952.6,941.6 953.1,941.3 953.6,940.9 954.1,940.4 954.6,939.9 955.1,939.3 955.6,938.4 956.1,937.4 956.6,936.2 957.1,935 957.6,933.8 958.1,932.5 958.6,931.3 959.1,930.2 959.6,929 960.1,927.7 960.6,926.5 961.1,925.3 961.6,924.2 962.1,923.2 962.6,922.5 963.1,922 963.6,921.5 964.1,921.1 964.6,920.7 965.1,920.5 965.6,920.4 966.1,920.5 966.6,920.7 967.1,921.2 967.6,921.7 968.1,922.3 968.6,922.9 969.1,923.5 969.6,924.4 970.1,925.3 970.6,926.4 971.1,927.4 971.6,928.5 972.1,929.4 972.6,930.2 973.1,930.9 973.6,931.5 974.1,932.2 974.6,932.8 975.1,933.3 975.6,933.8 976.1,934.1 976.6,934.4 977.1,934.5 977.6,934.6 978.1,934.7 978.6,934.8 979.1,934.8 979.6,934.8 980.1,934.7 980.6,934.5 981.1,934.2 981.6,933.9 982.1,933.5 982.6,933.2 983.1,932.8 983.6,932.4 984.1,931.9 984.6,931.3 985.1,930.8 985.6,930.2 986.1,929.7 986.6,929.1 987.1,928.7 987.6,928.3 988.1,927.9 988.6,927.4 989.1,927 989.6,926.6 990.1,926.2 990.6,925.9 991.1,925.7 991.6,925.5 992.1,925.5 992.6,925.5 993.1,925.6 993.6,925.8 994.1,926.1 994.6,926.4 995.1,926.7 995.6,927 996.1,927.3 996.6,927.6 997.1,927.9 997.6,928.3 998.1,928.7 998.6,929.1 999.1,929.5 999.6,929.9 1000.1,930.3 1000.6,930.6 1001.1,930.9 1001.6,931.1 1002.1,931.3 1002.6,931.5 1003.1,931.7 1003.6,931.9 1004.1,932.1 1004.6,932.2 1005.1,932.3 1005.6,932.4 1006.1,932.4 1006.6,932.4 1007.1,932.3 1007.6,932.1 1008.1,931.9 1008.6,931.6 1009.1,931.4 1009.6,931.1 1010.1,930.8 1010.6,930.5 1011.1,930.2 1011.6,929.9 1012.1,929.5 1012.6,929.1 1013.1,928.6 1013.6,928.2 1014.1,927.8 1014.6,927.3 1015.1,927 1015.6,926.7 1016.1,926.4 1016.6,926.2 1017.1,926 1017.6,925.8 1018.1,925.6 1018.6,925.4 1019.1,925.3 1019.6,925.2 1020.1,925.1 1020.6,925.1 1021.1,925.1 1021.6,925.2 1022.1,925.3 1022.6,925.5 1023.1,925.7 1023.6,926 1024.1,926.3 1024.6,926.6 1025.1,926.9 1025.6,927.1 1026.1,927.4 1026.6,927.8 1027.1,928.2 1027.6,928.6 1028.1,929 1028.6,929.4 1029.1,929.8 1029.6,930.2 1030.1,930.6 1030.6,930.9 1031.1,931.2 1031.6,931.6 1032.1,931.9 1032.6,932.2 1033.1,932.5 1033.6,932.8 1034.1,933 1034.6,933.2 1035.1,933.4 1035.6,933.5 1036.1,933.6 1036.6,933.6 1037.1,933.7 1037.6,933.7 1038.1,933.7 1038.6,933.7 1039.1,933.6 1039.6,933.4 1040.1,933.1 1040.6,932.9 1041.1,932.6 1041.6,932.3 1042.1,932.1 1042.6,931.7 1043.1,931.4 1043.6,931 1044.1,930.5 1044.6,930.1 1045.1,929.7 1045.6,929.3 1046.1,928.9 1046.6,928.6 1047.1,928.2 1047.6,927.9 1048.1,927.5 1048.6,927.2 1049.1,926.9 1049.6,926.6 1050.1,926.3 1050.6,926 1051.1,925.8 1051.6,925.7 1052.1,925.6 1052.6,925.5 1053.1,925.4 1053.6,925.4 1054.1,925.3 1054.6,925.4 1055.1,925.5 1055.6,925.7 1056.1,925.9 1056.6,926.2 1057.1,926.5 1057.6,926.7 1058.1,927 1058.6,927.3 1059.1,927.6 1059.6,927.9 1060.1,928.2 1060.6,928.5 1061.1,928.9 1061.6,929.2 1062.1,929.5 1062.6,929.8 1063.1,930.2 1063.6,930.4 1064.1,930.7 1064.6,931 1065.1,931.4 1065.6,931.7 1066.1,932 1066.6,932.2 1067.1,932.5 1067.6,932.6 1068.1,932.8 1068.6,932.9 1069.1,933 1069.6,933 1070.1,933.1 1070.6,933.2 1071.1,933.2 1071.6,933.2 1072.1,933.1 1072.6,933 1073.1,932.7 1073.6,932.4 1074.1,932.1 1074.6,931.7 1075.1,931.4 1075.6,931 1076.1,930.7 1076.6,930.2 1077.1,929.8 1077.6,929.3 1078.1,928.8 1078.6,928.4 1079.1,927.9 1079.6,927.5 1080.1,927.1 1080.6,926.8 1081.1,926.5 1081.6,926.2 1082.1,925.9 1082.6,925.6 1083.1,925.3 1083.6,925.1 1084.1,925 1084.6,924.8 1085.1,924.8 1085.6,924.7 1086.1,924.7 1086.6,924.7 1087.1,924.7 1087.6,924.7 1088.1,924.9 1088.6,925.1 1089.1,925.3 1089.6,925.6 1090.1,925.9 1090.6,926.2 1091.1,926.5 1091.6,926.9 1092.1,927.3 1092.6,927.8 1093.1,928.4 1093.6,928.9 1094.1,929.5 1094.6,930.1 1095.1,930.6 1095.6,931.1 1096.1,931.6 1096.6,932.1 1097.1,932.5 1097.6,933 1098.1,933.4 1098.6,933.9 1099.1,934.3 1099.6,934.7 1100.1,935 1100.6,935.2 1101.1,935.4 1101.6,935.6 1102.1,935.7 1102.6,935.9 1103.1,936 1103.6,936.1 1104.1,936.1 1104.6,936.1 1105.1,936.1 1105.6,935.9 1106.1,935.7 1106.6,935.5 1107.1,935.2 1107.6,934.8 1108.1,934.5 1108.6,934.1 1109.1,933.6 1109.6,933 1110.1,932.4 1110.6,931.6 1111.1,930.9 1111.6,930.2 1112.1,929.4 1112.6,928.8 1113.1,928.2 1113.6,927.6 1114.1,927 1114.6,926.5 1115.1,925.9 1115.6,925.4 1116.1,924.9 1116.6,924.4 1117.1,924 1117.6,923.7 1118.1,923.4 1118.6,923.2 1119.1,922.9 1119.6,922.6 1120.1,922.4 1120.6,922.2 1121.1,922.1 1121.6,922 1122.1,922 1122.6,922.4 1123.1,923.2 1123.6,924.2 1124.1,925.5 1124.6,926.7 1125.1,927.9 1125.6,928.9 1126.1,930 1126.6,931.2 1127.1,932.3 1127.6,933.3 1128.1,934.2 1128.6,934.7 1129.1,935.1 1129.6,935.4 1130.1,935.6 1130.6,935.7 1131.1,935.6 1131.6,935 1132.1,934.1 1132.6,933.1 1133.1,932.2 1133.6,931.3 1134.1,930.3 1134.6,929.2 1135.1,928.1 1135.6,927.1 1136.1,926.3 1136.6,925.8 1137.1,925.5 1137.6,925.3 1138.1,925.1 1138.6,925.1 1139.1,925.2 1139.6,925.7 1140.1,926.4 1140.6,927.3 1141.1,928 1141.6,928.7 1142.1,929.4 1142.6,930.2 1143.1,930.9 1143.6,931.4 1144.1,931.8 1144.6,932 1145.1,932.1 1145.6,932.1 1146.1,931.7 1146.6,931 1147.1,930.2 1147.6,929.5 1148.1,929 1148.6,928.6 1149.1,928.2 1149.6,927.8 1150.1,927.5 1150.6,927.2 1151.1,927.1 1151.6,927.1 1152.1,927.3 1152.6,927.6 1153.1,928.1 1153.6,928.6 1154.1,929 1154.6,929.4 1155.1,929.7 1155.6,930 1156.1,930.4 1156.6,930.6 1157.1,930.8 1157.6,930.8 1158.1,930.6 1158.6,930.2 1159.1,929.8 1159.6,929.3 1160.1,928.9 1160.6,928.5 1161.1,928.2 1161.6,927.8 1162.1,927.5 1162.6,927.2 1163.1,926.9 1163.6,926.6 1164.1,926.5 1164.6,926.4 1165.1,926.5 1165.6,926.7 1166.1,927 1166.6,927.5 1167.1,928 1167.6,928.6 1168.1,929.1 1168.6,929.6 1169.1,930.1 1169.6,930.5 1170.1,931 1170.6,931.5 1171.1,932 1171.6,932.4 1172.1,932.8 1172.6,933 1173.1,933.2 1173.6,933.3 1174.1,933.4 1174.6,933.5 1175.1,933.3 1175.6,932.9 1176.1,932.1 1176.6,931.2 1177.1,930.3 1177.6,929.4 1178.1,928.4 1178.6,927.2 1179.1,926 1179.6,924.9 1180.1,923.9 1180.6,923.2 1181.1,922.8 1181.6,922.4 1182.1,922 1182.6,921.8 1183.1,921.7 1183.6,921.9 1184.1,922.5 1184.6,923.4 1185.1,924.4 1185.6,925.4 1186.1,926.7 1186.6,928.3 1187.1,929.9 1187.6,931.6 1188.1,933.3 1188.6,934.7 1189.1,935.9 1189.6,937.1 1190.1,938.3 1190.6,939.3 1191.1,940.1 1191.6,940.6 1192.1,940.9 1192.6,941.2 1193.1,941.4 1193.6,941.5 1194.1,941.1 1194.6,940.5 1195.1,939.7 1195.6,938.7 1196.1,937.7 1196.6,936.5 1197.1,934.8 1197.6,932.7 1198.1,930.5 1198.6,928.1 1199.1,925.8 1199.6,923.7 1200.1,921.7 1200.6,919.9 1201.1,918 1201.6,916.1 1202.1,914.3 1202.6,912.8 1203.1,911.6 1203.6,910.8 1204.1,910.2 1204.6,909.6 1205.1,909.1 1205.6,908.8 1206.1,908.6 1206.6,908.8 1207.1,909.3 1207.6,910.1 1208.1,911 1208.6,912 1209.1,913.1 1209.6,914.7 1210.1,916.7 1210.6,919 1211.1,921.4 1211.6,924 1212.1,926.5 1212.6,928.9 1213.1,931.2 1213.6,933.7 1214.1,936.3 1214.6,938.9 1215.1,941.4 1215.6,943.8 1216.1,946 1216.6,947.8 1217.1,949.3 1217.6,950.8 1218.1,952.1 1218.6,953.4 1219.1,954.4 1219.6,955.2 1220.1,955.7 1220.6,956.1 1221.1,956.4 1221.6,956.4 1222.1,956.1 1222.6,955.4 1223.1,954.6 1223.6,953.5 1224.1,952.5 1224.6,951.3 1225.1,949.8 1225.6,948.1 1226.1,946.2 1226.6,944.2 1227.1,942.1 1227.6,939.9 1228.1,937.8 1228.6,935.8 1229.1,933.9 1229.6,932 1230.1,930 1230.6,927.9 1231.1,925.9 1231.6,923.9 1232.1,921.9 1232.6,920 1233.1,918.3 1233.6,916.6 1234.1,915.2 1234.6,913.8 1235.1,912.4 1235.6,911.1 1236.1,909.8 1236.6,908.7 1237.1,907.7 1237.6,907 1238.1,906.4 1238.6,906 1239.1,905.7 1239.6,905.4 1240.1,905.2 1240.6,905 1241.1,905.1 1241.6,905.3 1242.1,905.8 1242.6,906.4 1243.1,907.1 1243.6,907.9 1244.1,909.2 1244.6,911.2 1245.1,913.6 1245.6,916.3 1246.1,919.1 1246.6,921.9 1247.1,924.6 1247.6,927.8 1248.1,931.2 1248.6,934.5 1249.1,937.4 1249.6,939.4 1250.1,941.2 1250.6,942.8 1251.1,943.8 1251.6,944.1 1252.1,943.5 1252.6,942.1 1253.1,940.5 1253.6,938.7 1254.1,936.4 1254.6,933.6 1255.1,930.6 1255.6,927.9 1256.1,925.9 1256.6,924.6 1257.1,923.4 1257.6,922.3 1258.1,921.5 1258.6,921.1 1259.1,921.1 1259.6,921.6 1260.1,922.5 1260.6,923.6 1261.1,924.8 1261.6,925.9 1262.1,927.5 1262.6,929.3 1263.1,930.9 1263.6,931.8 1264.1,932.3 1264.6,932.7 1265.1,933 1265.6,933.1 1266.1,932.8 1266.6,932.2 1267.1,931.5 1267.6,930.6 1268.1,929.9 1268.6,929.3 1269.1,928.9 1269.6,928.6 1270.1,928.3 1270.6,928 1271.1,927.8 1271.6,927.6 1272.1,927.4 1272.6,927.3 1273.1,927.3 1273.6,927.5 1274.1,927.7 1274.6,928 1275.1,928.3 1275.6,928.6 1276.1,929 1276.6,929.3 1277.1,929.6 1277.6,929.9 1278.1,930.3 1278.6,930.7 1279.1,931 1279.6,931.3 1280.1,931.6 1280.6,931.7 1281.1,931.7 1281.6,931.6 1282.1,931.3 1282.6,931 1283.1,930.6 1283.6,930.2 1284.1,929.7 1284.6,929.2 1285.1,928.8 1285.6,928.4 1286.1,927.9 1286.6,927.4 1287.1,926.9 1287.6,926.4 1288.1,926 1288.6,925.6 1289.1,925.2 1289.6,925 1290.1,924.9 1290.6,924.8 1291.1,924.7 1291.6,924.7 1292.1,924.8 1292.6,925 1293.1,925.3 1293.6,925.8 1294.1,926.3 1294.6,926.8 1295.1,927.3 1295.6,927.8 1296.1,928.3 1296.6,928.9 1297.1,929.5 1297.6,930.1 1298.1,930.8 1298.6,931.4 1299.1,932 1299.6,932.5 1300.1,933 1300.6,933.3 1301.1,933.7 1301.6,934 1302.1,934.3 1302.6,934.6 1303.1,934.8 1303.6,935 1304.1,935.1 1304.6,935 1305.1,934.8 1305.6,934.4 1306.1,933.9 1306.6,933.2 1307.1,932.6 1307.6,931.9 1308.1,931.2 1308.6,930.6 1309.1,929.8 1309.6,928.8 1310.1,927.9 1310.6,926.9 1311.1,926 1311.6,925.2 1312.1,924.5 1312.6,924 1313.1,923.5 1313.6,923 1314.1,922.7 1314.6,922.4 1315.1,922.4 1315.6,922.6 1316.1,923 1316.6,923.5 1317.1,924.2 1317.6,924.9 1318.1,925.5 1318.6,926.2 1319.1,927.1 1319.6,928 1320.1,929.1 1320.6,930.1 1321.1,931.1 1321.6,932.1 1322.1,932.9 1322.6,933.5 1323.1,934.2 1323.6,934.8 1324.1,935.4 1324.6,935.9 1325.1,936.4 1325.6,936.8 1326.1,937 1326.6,937.2 1327.1,937.3 1327.6,937.4 1328.1,937.5 1328.6,937.4 1329.1,937.2 1329.6,936.8 1330.1,936.2 1330.6,935.6 1331.1,934.9 1331.6,934.3 1332.1,933.6 1332.6,932.9 1333.1,932.1 1333.6,931.3 1334.1,930.4 1334.6,929.5 1335.1,928.6 1335.6,927.7 1336.1,926.9 1336.6,926.1 1337.1,925.3 1337.6,924.4 1338.1,923.6 1338.6,922.8 1339.1,922 1339.6,921.4 1340.1,920.8 1340.6,920.4 1341.1,920.1 1341.6,919.8 1342.1,919.6 1342.6,919.3 1343.1,919.1 1343.6,918.9 1344.1,918.8 1344.6,918.7 1345.1,918.7 1345.6,918.7 1346.1,918.9 1346.6,919.2 1347.1,919.5 1347.6,920 1348.1,920.4 1348.6,920.9 1349.1,921.5 1349.6,922 1350.1,922.7 1350.6,923.7 1351.1,924.7 1351.6,925.8 1352.1,927 1352.6,928.2 1353.1,929.3 1353.6,930.3 1354.1,931.2 1354.6,932 1355.1,932.9 1355.6,933.7 1356.1,934.5 1356.6,935.2 1357.1,936 1357.6,936.6 1358.1,937.2 1358.6,937.7 1359.1,938.1 1359.6,938.5 1360.1,938.9 1360.6,939.2 1361.1,939.5 1361.6,939.7 1362.1,939.7 1362.6,939.6 1363.1,939.3 1363.6,938.8 1364.1,938.2 1364.6,937.5 1365.1,936.8 1365.6,936.1 1366.1,935.1 1366.6,934 1367.1,932.7 1367.6,931.4 1368.1,930.1 1368.6,928.8 1369.1,927.6 1369.6,926.6 1370.1,925.6 1370.6,924.6 1371.1,923.6 1371.6,922.8 1372.1,922.1 1372.6,921.5 1373.1,921.2 1373.6,920.9 1374.1,920.7 1374.6,920.7 1375.1,920.9 1375.6,921.3 1376.1,921.9 1376.6,922.6 1377.1,923.3 1377.6,924 1378.1,924.9 1378.6,925.9 1379.1,927.1 1379.6,928.2 1380.1,929.4 1380.6,930.4 1381.1,931.3 1381.6,932 1382.1,932.7 1382.6,933.3 1383.1,933.9 1383.6,934.4 1384.1,934.8 1384.6,935 1385.1,935.2 1385.6,935.3 1386.1,935.3 1386.6,935.2 1387.1,934.7 1387.6,934.1 1388.1,933.4 1388.6,932.6 1389.1,931.7 1389.6,930.5 1390.1,929.1 1390.6,927.7 1391.1,926.4 1391.6,925.4 1392.1,924.7 1392.6,924.1 1393.1,923.5 1393.6,923.2 1394.1,923.1 1394.6,923.3 1395.1,923.8 1395.6,924.5 1396.1,925.3 1396.6,926.2 1397.1,927.1 1397.6,928.2 1398.1,929.6 1398.6,930.8 1399.1,931.9 1399.6,932.6 1400.1,933.3 1400.6,933.8 1401.1,934.2 1401.6,934.4 1402.1,934.3 1402.6,933.8 1403.1,933.2 1403.6,932.4 1404.1,931.5 1404.6,930.6 1405.1,929.8 1405.6,928.9 1406.1,927.8 1406.6,926.8 1407.1,925.8 1407.6,925 1408.1,924.4 1408.6,923.9 1409.1,923.5 1409.6,923.2 1410.1,922.9 1410.6,922.8 1411.1,922.8 1411.6,923.1 1412.1,923.6 1412.6,924.2 1413.1,924.9 1413.6,925.7 1414.1,926.4 1414.6,927.2 1415.1,928.1 1415.6,929.1 1416.1,930.1 1416.6,931.2 1417.1,932.2 1417.6,933 1418.1,933.7 1418.6,934.3 1419.1,934.9 1419.6,935.4 1420.1,935.8 1420.6,936.2 1421.1,936.5 1421.6,936.7 1422.1,936.9 1422.6,937 1423.1,937.1 1423.6,936.9 1424.1,936.6 1424.6,936.2 1425.1,935.6 1425.6,935 1426.1,934.4 1426.6,933.8 1427.1,933 1427.6,932 1428.1,931 1428.6,930 1429.1,928.9 1429.6,927.9 1430.1,926.9 1430.6,926 1431.1,925.3 1431.6,924.5 1432.1,923.7 1432.6,923 1433.1,922.2 1433.6,921.6 1434.1,921 1434.6,920.4 1435.1,920 1435.6,919.6 1436.1,919.3 1436.6,919 1437.1,918.8 1437.6,918.6 1438.1,918.4 1438.6,918.4 1439.1,918.5 1439.6,918.7 1440.1,919 1440.6,919.5 1441.1,920 1441.6,920.5 1442.1,921 1442.6,921.6 1443.1,922.4 1443.6,923.4 1444.1,924.4 1444.6,925.5 1445.1,926.7 1445.6,927.9 1446.1,929 1446.6,930 1447.1,930.9 1447.6,931.9 1448.1,932.8 1448.6,933.8 1449.1,934.7 1449.6,935.6 1450.1,936.4 1450.6,937.2 1451.1,937.9 1451.6,938.5 1452.1,939.1 1452.6,939.7 1453.1,940.3 1453.6,940.8 1454.1,941.2 1454.6,941.6 1455.1,941.9 1455.6,942 1456.1,942.2 1456.6,942.3 1457.1,942.3 1457.6,942.4 1458.1,942.4 1458.6,942.4 1459.1,942.2 1459.6,941.9 1460.1,941.6 1460.6,941.1 1461.1,940.7 1461.6,940.2 1462.1,939.8 1462.6,939.3 1463.1,938.8 1463.6,938.3 1464.1,937.7 1464.6,937 1465.1,936.4 1465.6,935.7 1466.1,935 1466.6,934.3 1467.1,933.7 1467.6,933.1 1468.1,932.5 1468.6,931.9 1469.1,931.4 1469.6,930.9 1470.1,930.3 1470.6,929.8 1471.1,929.3 1471.6,928.8 1472.1,928.3 1472.6,927.8 1473.1,927.3 1473.6,926.9 1474.1,926.4 1474.6,925.9 1475.1,925.5 1475.6,925.1 1476.1,924.6 1476.6,924.2 1477.1,923.7 1477.6,923.3 1478.1,922.9 1478.6,922.5 1479.1,922.1 1479.6,921.7 1480.1,921.3 1480.6,921 1481.1,920.7 1481.6,920.3 1482.1,920 1482.6,919.7 1483.1,919.5 1483.6,919.2 1484.1,918.9 1484.6,918.6 1485.1,918.4 1485.6,918.2 1486.1,917.9 1486.6,917.7 1487.1,917.5 1487.6,917.3 1488.1,917.1 1488.6,916.9 1489.1,916.7 1489.6,916.5 1490.1,916.4 1490.6,916.2 1491.1,916.1 1491.6,915.9 1492.1,915.8 1492.6,915.6 1493.1,915.5 1493.6,915.4 1494.1,915.2 1494.6,915.1 1495.1,915 1495.6,914.9 1496.1,914.8 1496.6,914.6 1497.1,914.5 1497.6,914.4 1498.1,914.3 1498.6,914.2 1499.1,914.1 1499.6,914.1 1500.1,914 1500.6,913.9 1501.1,913.9 1501.6,913.8 1502.1,913.8 1502.6,913.7 1503.1,913.7 1503.6,913.7 1504.1,913.7 1504.6,913.8 1505.1,913.9 1505.6,914 1506.1,914.2 1506.6,914.4 1507.1,914.6 1507.6,914.8 1508.1,915 1508.6,915.2 1509.1,915.5 1509.6,915.8 1510.1,916.1 1510.6,916.5 1511.1,916.9 1511.6,917.3 1512.1,917.8 1512.6,918.2 1513.1,918.6 1513.6,919.1 1514.1,919.5 1514.6,920 1515.1,920.5 1515.6,921 1516.1,921.6 1516.6,922.1 1517.1,922.6 1517.6,923.1 1518.1,923.6 1518.6,924.1 1519.1,924.6 1519.6,925 1520.1,925.5 1520.6,925.9 1521.1,926.3 1521.6,926.7 1522.1,927.1 1522.6,927.5 1523.1,927.9 1523.6,928.2 1524.1,928.6 1524.6,928.9 1525.1,929.2 1525.6,929.5 1526.1,929.8 1526.6,930 1527.1,930.3 1527.6,930.5 1528.1,930.8 1528.6,931 1529.1,931.2 1529.6,931.3 1530.1,931.5 1530.6,931.7 1531.1,931.8 1531.6,931.9 1532.1,932.1 1532.6,932.2 1533.1,932.3 1533.6,932.4 1534.1,932.5 1534.6,932.6 1535.1,932.7 1535.6,932.8 1536.1,932.9 1536.6,933 1537.1,933 1537.6,933.1 1538.1,933.2 1538.6,933.3 1539.1,933.3 1539.6,933.4 1540.1,933.5 1540.6,933.6 1541.1,933.6 1541.6,933.7 1542.1,933.7 1542.6,933.8 1543.1,933.9 1543.6,933.9 1544.1,934 1544.6,934.1 1545.1,934.1 1545.6,934.2 1546.1,934.2 1546.6,934.3 1547.1,934.3 1547.6,934.4 1548.1,934.5 1548.6,934.5" fill="none" stroke="#344aa0" stroke-width="3.1" stroke-linejoin="round" stroke-linecap="butt"/>
<path d="M144.6,1278.9 145.1,1279.4 145.6,1279.8 146.1,1280.2 146.6,1280.6 147.1,1281.1 147.6,1281.5 148.1,1282 148.6,1282.4 149.1,1282.9 149.6,1283.3 150.1,1283.8 150.6,1284.3 151.1,1284.8 151.6,1285.3 152.1,1285.7 152.6,1286.2 153.1,1286.8 153.6,1287.3 154.1,1287.8 154.6,1288.3 155.1,1288.8 155.6,1289.3 156.1,1289.8 156.6,1290.3 157.1,1290.8 157.6,1291.3 158.1,1291.9 158.6,1292.4 159.1,1292.9 159.6,1293.4 160.1,1294 160.6,1294.5 161.1,1295 161.6,1295.5 162.1,1296 162.6,1296.4 163.1,1296.9 163.6,1297.3 164.1,1297.7 164.6,1298.1 165.1,1298.5 165.6,1298.9 166.1,1299.3 166.6,1299.7 167.1,1300 167.6,1300.4 168.1,1300.7 168.6,1301 169.1,1301.3 169.6,1301.5 170.1,1301.8 170.6,1302 171.1,1302.2 171.6,1302.4 172.1,1302.6 172.6,1302.8 173.1,1303 173.6,1303.1 174.1,1303.2 174.6,1303.4 175.1,1303.4 175.6,1303.5 176.1,1303.6 176.6,1303.6 177.1,1303.7 177.6,1303.7 178.1,1303.7 178.6,1303.7 179.1,1303.7 179.6,1303.6 180.1,1303.5 180.6,1303.3 181.1,1303.1 181.6,1302.8 182.1,1302.5 182.6,1302.2 183.1,1301.9 183.6,1301.6 184.1,1301.3 184.6,1300.8 185.1,1300.4 185.6,1299.9 186.1,1299.4 186.6,1298.8 187.1,1298.2 187.6,1297.7 188.1,1297.1 188.6,1296.5 189.1,1296 189.6,1295.4 190.1,1294.8 190.6,1294.2 191.1,1293.6 191.6,1292.9 192.1,1292.3 192.6,1291.7 193.1,1291 193.6,1290.4 194.1,1289.8 194.6,1289.3 195.1,1288.7 195.6,1288.2 196.1,1287.7 196.6,1287.2 197.1,1286.6 197.6,1286.1 198.1,1285.6 198.6,1285.1 199.1,1284.7 199.6,1284.2 200.1,1283.8 200.6,1283.4 201.1,1283 201.6,1282.7 202.1,1282.4 202.6,1282.1 203.1,1281.8 203.6,1281.6 204.1,1281.3 204.6,1281.1 205.1,1280.9 205.6,1280.7 206.1,1280.5 206.6,1280.4 207.1,1280.3 207.6,1280.2 208.1,1280.2 208.6,1280.1 209.1,1280.1 209.6,1280.2 210.1,1280.3 210.6,1280.4 211.1,1280.5 211.6,1280.7 212.1,1280.8 212.6,1281 213.1,1281.2 213.6,1281.5 214.1,1281.8 214.6,1282.2 215.1,1282.7 215.6,1283.2 216.1,1283.7 216.6,1284.2 217.1,1284.7 217.6,1285.2 218.1,1285.7 218.6,1286.2 219.1,1286.7 219.6,1287.2 220.1,1287.7 220.6,1288.3 221.1,1288.8 221.6,1289.3 222.1,1289.9 222.6,1290.4 223.1,1290.9 223.6,1291.4 224.1,1291.8 224.6,1292.3 225.1,1292.7 225.6,1293.1 226.1,1293.5 226.6,1293.9 227.1,1294.3 227.6,1294.6 228.1,1295 228.6,1295.4 229.1,1295.7 229.6,1296 230.1,1296.3 230.6,1296.6 231.1,1296.9 231.6,1297.1 232.1,1297.4 232.6,1297.6 233.1,1297.9 233.6,1298.1 234.1,1298.3 234.6,1298.5 235.1,1298.7 235.6,1298.8 236.1,1298.9 236.6,1299 237.1,1299.1 237.6,1299.2 238.1,1299.3 238.6,1299.3 239.1,1299.4 239.6,1299.4 240.1,1299.5 240.6,1299.5 241.1,1299.5 241.6,1299.4 242.1,1299.4 242.6,1299.3 243.1,1299.2 243.6,1299.1 244.1,1299 244.6,1298.8 245.1,1298.7 245.6,1298.6 246.1,1298.4 246.6,1298.3 247.1,1298.1 247.6,1297.9 248.1,1297.7 248.6,1297.5 249.1,1297.3 249.6,1297.1 250.1,1296.8 250.6,1296.6 251.1,1296.3 251.6,1296.1 252.1,1295.8 252.6,1295.6 253.1,1295.3 253.6,1295 254.1,1294.8 254.6,1294.5 255.1,1294.2 255.6,1293.9 256.1,1293.6 256.6,1293.2 257.1,1292.9 257.6,1292.6 258.1,1292.3 258.6,1292 259.1,1291.7 259.6,1291.4 260.1,1291.1 260.6,1290.8 261.1,1290.5 261.6,1290.2 262.1,1289.9 262.6,1289.6 263.1,1289.3 263.6,1289 264.1,1288.8 264.6,1288.5 265.1,1288.2 265.6,1288 266.1,1287.8 266.6,1287.5 267.1,1287.3 267.6,1287.1 268.1,1286.8 268.6,1286.6 269.1,1286.4 269.6,1286.2 270.1,1286 270.6,1285.8 271.1,1285.7 271.6,1285.6 272.1,1285.5 272.6,1285.4 273.1,1285.3 273.6,1285.2 274.1,1285.1 274.6,1285.1 275.1,1285 275.6,1284.9 276.1,1284.9 276.6,1284.9 277.1,1284.8 277.6,1284.8 278.1,1284.8 278.6,1284.8 279.1,1284.8 279.6,1284.8 280.1,1284.9 280.6,1284.9 281.1,1285 281.6,1285 282.1,1285.1 282.6,1285.2 283.1,1285.3 283.6,1285.3 284.1,1285.4 284.6,1285.6 285.1,1285.8 285.6,1286 286.1,1286.2 286.6,1286.4 287.1,1286.7 287.6,1287 288.1,1287.2 288.6,1287.5 289.1,1287.8 289.6,1288.1 290.1,1288.3 290.6,1288.6 291.1,1288.9 291.6,1289.2 292.1,1289.5 292.6,1289.8 293.1,1290.1 293.6,1290.4 294.1,1290.7 294.6,1291 295.1,1291.3 295.6,1291.6 296.1,1291.9 296.6,1292.2 297.1,1292.5 297.6,1292.8 298.1,1293.1 298.6,1293.4 299.1,1293.8 299.6,1294.1 300.1,1294.4 300.6,1294.7 301.1,1295 301.6,1295.2 302.1,1295.5 302.6,1295.7 303.1,1296 303.6,1296.2 304.1,1296.4 304.6,1296.5 305.1,1296.7 305.6,1296.9 306.1,1297.1 306.6,1297.2 307.1,1297.4 307.6,1297.5 308.1,1297.6 308.6,1297.7 309.1,1297.8 309.6,1297.8 310.1,1297.9 310.6,1298 311.1,1298 311.6,1298.1 312.1,1298.1 312.6,1298.1 313.1,1298.1 313.6,1298.1 314.1,1298.1 314.6,1298 315.1,1297.9 315.6,1297.8 316.1,1297.7 316.6,1297.5 317.1,1297.4 317.6,1297.3 318.1,1297.1 318.6,1296.9 319.1,1296.8 319.6,1296.5 320.1,1296.3 320.6,1296 321.1,1295.7 321.6,1295.3 322.1,1295 322.6,1294.6 323.1,1294.3 323.6,1293.9 324.1,1293.6 324.6,1293.3 325.1,1292.9 325.6,1292.6 326.1,1292.2 326.6,1291.9 327.1,1291.5 327.6,1291.1 328.1,1290.7 328.6,1290.4 329.1,1290 329.6,1289.6 330.1,1289.3 330.6,1289 331.1,1288.7 331.6,1288.4 332.1,1288.1 332.6,1287.8 333.1,1287.6 333.6,1287.3 334.1,1287.1 334.6,1286.8 335.1,1286.6 335.6,1286.4 336.1,1286.2 336.6,1286 337.1,1285.9 337.6,1285.7 338.1,1285.6 338.6,1285.4 339.1,1285.3 339.6,1285.2 340.1,1285.1 340.6,1285 341.1,1284.9 341.6,1284.8 342.1,1284.8 342.6,1284.8 343.1,1284.8 343.6,1284.8 344.1,1284.8 344.6,1284.8 345.1,1284.8 345.6,1284.8 346.1,1284.8 346.6,1285 347.1,1285.2 347.6,1285.4 348.1,1285.7 348.6,1286 349.1,1286.2 349.6,1286.5 350.1,1286.8 350.6,1287.1 351.1,1287.4 351.6,1287.7 352.1,1288.1 352.6,1288.4 353.1,1288.8 353.6,1289.3 354.1,1289.7 354.6,1290.1 355.1,1290.6 355.6,1291 356.1,1291.5 356.6,1291.9 357.1,1292.2 357.6,1292.6 358.1,1292.9 358.6,1293.3 359.1,1293.6 359.6,1294 360.1,1294.3 360.6,1294.6 361.1,1294.9 361.6,1295.1 362.1,1295.3 362.6,1295.5 363.1,1295.6 363.6,1295.7 364.1,1295.8 364.6,1295.9 365.1,1295.9 365.6,1296 366.1,1296.1 366.6,1296.1 367.1,1296.1 367.6,1296.1 368.1,1296.1 368.6,1296 369.1,1295.9 369.6,1295.8 370.1,1295.7 370.6,1295.6 371.1,1295.4 371.6,1295.2 372.1,1295 372.6,1294.8 373.1,1294.5 373.6,1294.1 374.1,1293.6 374.6,1293.1 375.1,1292.6 375.6,1292.1 376.1,1291.6 376.6,1291.1 377.1,1290.6 377.6,1290.2 378.1,1289.7 378.6,1289.3 379.1,1288.8 379.6,1288.3 380.1,1287.9 380.6,1287.5 381.1,1287.1 381.6,1286.8 382.1,1286.6 382.6,1286.5 383.1,1286.4 383.6,1286.2 384.1,1286.2 384.6,1286.1 385.1,1286.2 385.6,1286.3 386.1,1286.5 386.6,1286.8 387.1,1287.1 387.6,1287.5 388.1,1287.9 388.6,1288.3 389.1,1288.7 389.6,1289.3 390.1,1289.9 390.6,1290.6 391.1,1291.4 391.6,1292.1 392.1,1292.8 392.6,1293.5 393.1,1294.1 393.6,1294.6 394.1,1295.1 394.6,1295.6 395.1,1296.2 395.6,1296.6 396.1,1297.1 396.6,1297.5 397.1,1297.8 397.6,1298 398.1,1298.1 398.6,1298.2 399.1,1298.3 399.6,1298.3 400.1,1298.4 400.6,1298.4 401.1,1298.4 401.6,1298.2 402.1,1298 402.6,1297.6 403.1,1297.2 403.6,1296.8 404.1,1296.4 404.6,1295.8 405.1,1295.1 405.6,1294.3 406.1,1293.4 406.6,1292.4 407.1,1291.4 407.6,1290.4 408.1,1289.5 408.6,1288.6 409.1,1287.8 409.6,1287 410.1,1286.2 410.6,1285.4 411.1,1284.6 411.6,1283.8 412.1,1283.1 412.6,1282.5 413.1,1282 413.6,1281.6 414.1,1281.2 414.6,1280.8 415.1,1280.4 415.6,1280.1 416.1,1279.8 416.6,1279.6 417.1,1279.5 417.6,1279.5 418.1,1279.5 418.6,1279.7 419.1,1279.9 419.6,1280.1 420.1,1280.4 420.6,1280.7 421.1,1281.1 421.6,1281.6 422.1,1282.4 422.6,1283.3 423.1,1284.3 423.6,1285.3 424.1,1286.4 424.6,1287.4 425.1,1288.4 425.6,1289.5 426.1,1290.7 426.6,1291.9 427.1,1293.1 427.6,1294.3 428.1,1295.5 428.6,1296.6 429.1,1297.7 429.6,1298.7 430.1,1299.7 430.6,1300.7 431.1,1301.7 431.6,1302.6 432.1,1303.5 432.6,1304.3 433.1,1305.1 433.6,1305.8 434.1,1306.4 434.6,1307 435.1,1307.5 435.6,1308 436.1,1308.5 436.6,1309 437.1,1309.3 437.6,1309.6 438.1,1309.8 438.6,1309.9 439.1,1310 439.6,1310 440.1,1310.1 440.6,1310.1 441.1,1310.2 441.6,1310.1 442.1,1310 442.6,1309.8 443.1,1309.6 443.6,1309.3 444.1,1308.9 444.6,1308.6 445.1,1308.1 445.6,1307.6 446.1,1306.8 446.6,1305.9 447.1,1304.9 447.6,1303.9 448.1,1302.8 448.6,1301.6 449.1,1300.5 449.6,1299.4 450.1,1298.3 450.6,1297.1 451.1,1295.8 451.6,1294.5 452.1,1293.2 452.6,1291.8 453.1,1290.5 453.6,1289.2 454.1,1288 454.6,1286.8 455.1,1285.7 455.6,1284.7 456.1,1283.6 456.6,1282.5 457.1,1281.5 457.6,1280.4 458.1,1279.5 458.6,1278.6 459.1,1277.8 459.6,1277.1 460.1,1276.4 460.6,1275.9 461.1,1275.3 461.6,1274.8 462.1,1274.3 462.6,1273.9 463.1,1273.5 463.6,1273.2 464.1,1273.1 464.6,1272.9 465.1,1272.8 465.6,1272.8 466.1,1272.7 466.6,1272.7 467.1,1272.6 467.6,1272.7 468.1,1273 468.6,1273.4 469.1,1273.9 469.6,1274.4 470.1,1275 470.6,1275.7 471.1,1276.6 471.6,1277.8 472.1,1279.1 472.6,1280.5 473.1,1282 473.6,1283.5 474.1,1284.9 474.6,1286.3 475.1,1287.9 475.6,1289.6 476.1,1291.2 476.6,1292.9 477.1,1294.4 477.6,1295.8 478.1,1296.9 478.6,1298 479.1,1298.9 479.6,1299.9 480.1,1300.8 480.6,1301.6 481.1,1302.2 481.6,1302.7 482.1,1303.1 482.6,1303.3 483.1,1303.4 483.6,1303.6 484.1,1303.7 484.6,1303.7 485.1,1303.7 485.6,1303.4 486.1,1302.9 486.6,1302.3 487.1,1301.6 487.6,1300.9 488.1,1300.1 488.6,1299 489.1,1297.8 489.6,1296.4 490.1,1295.1 490.6,1293.8 491.1,1292.6 491.6,1291.6 492.1,1290.6 492.6,1289.6 493.1,1288.6 493.6,1287.6 494.1,1286.8 494.6,1286 495.1,1285.4 495.6,1285 496.1,1284.6 496.6,1284.3 497.1,1284 497.6,1283.7 498.1,1283.6 498.6,1283.5 499.1,1283.5 499.6,1283.6 500.1,1283.9 500.6,1284.3 501.1,1284.7 501.6,1285.2 502.1,1285.6 502.6,1286.2 503.1,1286.8 503.6,1287.6 504.1,1288.4 504.6,1289.2 505.1,1290 505.6,1290.7 506.1,1291.4 506.6,1291.9 507.1,1292.4 507.6,1292.9 508.1,1293.4 508.6,1293.8 509.1,1294.2 509.6,1294.5 510.1,1294.6 510.6,1294.7 511.1,1294.8 511.6,1294.9 512.1,1295 512.6,1295 513.1,1295.1 513.6,1295.1 514.1,1295 514.6,1294.8 515.1,1294.6 515.6,1294.3 516.1,1294 516.6,1293.7 517.1,1293.3 517.6,1293 518.1,1292.7 518.6,1292.3 519.1,1291.9 519.6,1291.5 520.1,1291.1 520.6,1290.6 521.1,1290.2 521.6,1289.9 522.1,1289.5 522.6,1289.2 523.1,1289 523.6,1288.7 524.1,1288.5 524.6,1288.3 525.1,1288.1 525.6,1287.9 526.1,1287.7 526.6,1287.6 527.1,1287.5 527.6,1287.5 528.1,1287.4 528.6,1287.4 529.1,1287.4 529.6,1287.3 530.1,1287.3 530.6,1287.3 531.1,1287.3 531.6,1287.4 532.1,1287.5 532.6,1287.6 533.1,1287.7 533.6,1287.9 534.1,1288.1 534.6,1288.4 535.1,1288.6 535.6,1288.8 536.1,1289.1 536.6,1289.4 537.1,1289.8 537.6,1290.3 538.1,1290.7 538.6,1291.2 539.1,1291.7 539.6,1292.2 540.1,1292.7 540.6,1293.1 541.1,1293.5 541.6,1293.9 542.1,1294.3 542.6,1294.7 543.1,1295 543.6,1295.4 544.1,1295.8 544.6,1296.1 545.1,1296.5 545.6,1296.7 546.1,1297 546.6,1297.2 547.1,1297.5 547.6,1297.7 548.1,1297.9 548.6,1298.1 549.1,1298.3 549.6,1298.4 550.1,1298.6 550.6,1298.6 551.1,1298.7 551.6,1298.7 552.1,1298.7 552.6,1298.8 553.1,1298.8 553.6,1298.8 554.1,1298.8 554.6,1298.8 555.1,1298.7 555.6,1298.6 556.1,1298.5 556.6,1298.3 557.1,1298.1 557.6,1298 558.1,1297.8 558.6,1297.6 559.1,1297.5 559.6,1297.3 560.1,1297.1 560.6,1296.9 561.1,1296.7 561.6,1296.4 562.1,1296.2 562.6,1295.9 563.1,1295.6 563.6,1295.2 564.1,1294.8 564.6,1294.4 565.1,1294 565.6,1293.6 566.1,1293.1 566.6,1292.7 567.1,1292.2 567.6,1291.8 568.1,1291.4 568.6,1291 569.1,1290.6 569.6,1290.2 570.1,1289.8 570.6,1289.4 571.1,1289.1 571.6,1288.7 572.1,1288.3 572.6,1287.9 573.1,1287.6 573.6,1287.2 574.1,1286.9 574.6,1286.6 575.1,1286.3 575.6,1286 576.1,1285.7 576.6,1285.4 577.1,1285.2 577.6,1285 578.1,1284.7 578.6,1284.5 579.1,1284.3 579.6,1284.1 580.1,1283.9 580.6,1283.7 581.1,1283.5 581.6,1283.3 582.1,1283.1 582.6,1282.9 583.1,1282.6 583.6,1282.4 584.1,1282.1 584.6,1281.9 585.1,1281.6 585.6,1281.4 586.1,1281.1 586.6,1280.8 587.1,1280.6 587.6,1280.3 588.1,1280 588.6,1279.8 589.1,1279.5 589.6,1279.2 590.1,1279 590.6,1278.7 591.1,1278.5 591.6,1278.2 592.1,1277.9 592.6,1277.7 593.1,1277.4 593.6,1277.2 594.1,1276.9 594.6,1276.7 595.1,1276.4 595.6,1276.1 596.1,1275.8 596.6,1275.5 597.1,1275.2 597.6,1274.8 598.1,1274.3 598.6,1273.8 599.1,1273.4 599.6,1273.1 600.1,1273 600.6,1272.9 601.1,1272.9 601.6,1272.8 602.1,1272.8 602.6,1272.7 603.1,1272.7 603.6,1272.7 604.1,1272.7 604.6,1272.7 605.1,1272.7 605.6,1272.7 606.1,1272.9 606.6,1273 607.1,1273.3 607.6,1273.6 608.1,1273.9 608.6,1274.2 609.1,1274.6 609.6,1275 610.1,1275.4 610.6,1275.9 611.1,1276.5 611.6,1277.2 612.1,1278 612.6,1278.8 613.1,1279.7 613.6,1280.6 614.1,1281.5 614.6,1282.3 615.1,1283.2 615.6,1284.2 616.1,1285.2 616.6,1286.2 617.1,1287.3 617.6,1288.3 618.1,1289.4 618.6,1290.4 619.1,1291.4 619.6,1292.4 620.1,1293.5 620.6,1294.5 621.1,1295.6 621.6,1296.6 622.1,1297.6 622.6,1298.5 623.1,1299.4 623.6,1300.2 624.1,1301.1 624.6,1301.9 625.1,1302.7 625.6,1303.4 626.1,1304.2 626.6,1304.8 627.1,1305.5 627.6,1306.1 628.1,1306.7 628.6,1307.3 629.1,1307.9 629.6,1308.5 630.1,1309 630.6,1309.5 631.1,1309.9 631.6,1310.2 632.1,1310.5 632.6,1310.7 633.1,1311 633.6,1311.2 634.1,1311.4 634.6,1311.5 635.1,1311.7 635.6,1311.7 636.1,1311.7 636.6,1311.6 637.1,1311.5 637.6,1311.3 638.1,1311.1 638.6,1310.9 639.1,1310.7 639.6,1310.4 640.1,1310 640.6,1309.5 641.1,1308.8 641.6,1308 642.1,1307.2 642.6,1306.3 643.1,1305.4 643.6,1304.5 644.1,1303.6 644.6,1302.7 645.1,1301.8 645.6,1300.8 646.1,1299.7 646.6,1298.7 647.1,1297.7 647.6,1296.6 648.1,1295.6 648.6,1294.6 649.1,1293.6 649.6,1292.5 650.1,1291.5 650.6,1290.5 651.1,1289.4 651.6,1288.4 652.1,1287.5 652.6,1286.5 653.1,1285.6 653.6,1284.7 654.1,1283.9 654.6,1283 655.1,1282.1 655.6,1281.3 656.1,1280.5 656.6,1279.8 657.1,1279.2 657.6,1278.5 658.1,1278 658.6,1277.4 659.1,1276.9 659.6,1276.4 660.1,1275.9 660.6,1275.4 661.1,1275 661.6,1274.6 662.1,1274.3 662.6,1273.9 663.1,1273.6 663.6,1273.2 664.1,1272.9 664.6,1272.7 665.1,1272.4 665.6,1272.2 666.1,1272.1 666.6,1272 667.1,1271.8 667.6,1271.7 668.1,1271.6 668.6,1271.6 669.1,1271.5 669.6,1271.4 670.1,1271.4 670.6,1271.3 671.1,1271.3 671.6,1271.4 672.1,1271.4 672.6,1271.5 673.1,1271.6 673.6,1271.7 674.1,1271.9 674.6,1272 675.1,1272.2 675.6,1272.3 676.1,1272.5 676.6,1272.7 677.1,1273 677.6,1273.3 678.1,1273.7 678.6,1274 679.1,1274.4 679.6,1274.8 680.1,1275.2 680.6,1275.7 681.1,1276.1 681.6,1276.5 682.1,1276.9 682.6,1277.3 683.1,1277.7 683.6,1278.2 684.1,1278.7 684.6,1279.1 685.1,1279.6 685.6,1280.1 686.1,1280.6 686.6,1281 687.1,1281.5 687.6,1282 688.1,1282.4 688.6,1282.9 689.1,1283.4 689.6,1283.8 690.1,1284.3 690.6,1284.8 691.1,1285.2 691.6,1285.7 692.1,1286.2 692.6,1286.6 693.1,1287.1 693.6,1287.5 694.1,1288 694.6,1288.4 695.1,1288.8 695.6,1289.3 696.1,1289.7 696.6,1290.1 697.1,1290.6 697.6,1291 698.1,1291.4 698.6,1291.8 699.1,1292.2 699.6,1292.6 700.1,1293 700.6,1293.4 701.1,1293.8 701.6,1294.2 702.1,1294.6 702.6,1295 703.1,1295.4 703.6,1295.8 704.1,1296.1 704.6,1296.5 705.1,1296.9 705.6,1297.3 706.1,1297.6 706.6,1298 707.1,1298.4 707.6,1298.7 708.1,1299.1 708.6,1299.4 709.1,1299.8 709.6,1300.1 710.1,1300.5 710.6,1300.8 711.1,1301.2 711.6,1301.5 712.1,1301.8 712.6,1302.2 713.1,1302.5 713.6,1302.8 714.1,1303.1 714.6,1303.4 715.1,1303.6 715.6,1303.9 716.1,1304.2 716.6,1304.5 717.1,1304.8 717.6,1305 718.1,1305.3 718.6,1305.5 719.1,1305.8 719.6,1306 720.1,1306.2 720.6,1306.4 721.1,1306.6 721.6,1306.8 722.1,1307 722.6,1307.2 723.1,1307.3 723.6,1307.5 724.1,1307.7 724.6,1307.9 725.1,1308 725.6,1308.2 726.1,1308.3 726.6,1308.3 727.1,1308.4 727.6,1308.4 728.1,1308.4 728.6,1308.4 729.1,1308.4 729.6,1308.4 730.1,1308.4 730.6,1308.4 731.1,1308.4 731.6,1308.4 732.1,1308.4 732.6,1308.4 733.1,1308.3 733.6,1308.2 734.1,1308 734.6,1307.8 735.1,1307.6 735.6,1307.4 736.1,1307.2 736.6,1306.9 737.1,1306.7 737.6,1306.5 738.1,1306.2 738.6,1306 739.1,1305.7 739.6,1305.4 740.1,1305.1 740.6,1304.8 741.1,1304.5 741.6,1304.1 742.1,1303.8 742.6,1303.5 743.1,1303.2 743.6,1302.8 744.1,1302.5 744.6,1302.2 745.1,1301.8 745.6,1301.5 746.1,1301.1 746.6,1300.8 747.1,1300.4 747.6,1300 748.1,1299.7 748.6,1299.3 749.1,1298.9 749.6,1298.5 750.1,1298.1 750.6,1297.7 751.1,1297.3 751.6,1296.9 752.1,1296.5 752.6,1296.1 753.1,1295.7 753.6,1295.3 754.1,1294.9 754.6,1294.5 755.1,1294.1 755.6,1293.7 756.1,1293.3 756.6,1292.9 757.1,1292.5 757.6,1292.1 758.1,1291.7 758.6,1291.3 759.1,1290.9 759.6,1290.5 760.1,1290.1 760.6,1289.7 761.1,1289.3 761.6,1288.8 762.1,1288.4 762.6,1288 763.1,1287.6 763.6,1287.2 764.1,1286.8 764.6,1286.5 765.1,1286.1 765.6,1285.8 766.1,1285.4 766.6,1285.1 767.1,1284.8 767.6,1284.5 768.1,1284.2 768.6,1283.9 769.1,1283.6 769.6,1283.3 770.1,1283 770.6,1282.7 771.1,1282.4 771.6,1282.1 772.1,1281.8 772.6,1281.5 773.1,1281.2 773.6,1280.9 774.1,1280.6 774.6,1280.3 775.1,1280 775.6,1279.7 776.1,1279.4 776.6,1279.1 777.1,1278.9 777.6,1278.6 778.1,1278.3" fill="none" stroke="#344aa0" stroke-width="3.0" stroke-linejoin="round" stroke-linecap="butt"/>
<path d="M915.1,1289.7 915.6,1289.7 916.1,1289.7 916.6,1289.7 917.1,1289.7 917.6,1289.6 918.1,1289.6 918.6,1289.6 919.1,1289.5 919.6,1289.5 920.1,1289.5 920.6,1289.5 921.1,1289.4 921.6,1289.4 922.1,1289.4 922.6,1289.3 923.1,1289.3 923.6,1289.3 924.1,1289.2 924.6,1289.2 925.1,1289.2 925.6,1289.1 926.1,1289.1 926.6,1289 927.1,1289 927.6,1289 928.1,1288.9 928.6,1288.9 929.1,1288.8 929.6,1288.8 930.1,1288.7 930.6,1288.7 931.1,1288.7 931.6,1288.6 932.1,1288.6 932.6,1288.5 933.1,1288.5 933.6,1288.4 934.1,1288.4 934.6,1288.3 935.1,1288.3 935.6,1288.2 936.1,1288.1 936.6,1288.1 937.1,1288 937.6,1287.9 938.1,1287.9 938.6,1287.8 939.1,1287.7 939.6,1287.7 940.1,1287.6 940.6,1287.5 941.1,1287.4 941.6,1287.4 942.1,1287.3 942.6,1287.2 943.1,1287.1 943.6,1287.1 944.1,1287 944.6,1286.9 945.1,1286.8 945.6,1286.7 946.1,1286.7 946.6,1286.6 947.1,1286.5 947.6,1286.4 948.1,1286.4 948.6,1286.3 949.1,1286.2 949.6,1286.1 950.1,1286.1 950.6,1286 951.1,1285.9 951.6,1285.8 952.1,1285.8 952.6,1285.7 953.1,1285.6 953.6,1285.6 954.1,1285.5 954.6,1285.4 955.1,1285.4 955.6,1285.3 956.1,1285.2 956.6,1285.2 957.1,1285.1 957.6,1285 958.1,1285 958.6,1284.9 959.1,1284.8 959.6,1284.8 960.1,1284.7 960.6,1284.6 961.1,1284.5 961.6,1284.5 962.1,1284.4 962.6,1284.3 963.1,1284.3 963.6,1284.2 964.1,1284.1 964.6,1284.1 965.1,1284 965.6,1284 966.1,1283.9 966.6,1283.8 967.1,1283.8 967.6,1283.7 968.1,1283.6 968.6,1283.6 969.1,1283.5 969.6,1283.5 970.1,1283.4 970.6,1283.3 971.1,1283.3 971.6,1283.2 972.1,1283.2 972.6,1283.1 973.1,1283 973.6,1283 974.1,1282.9 974.6,1282.9 975.1,1282.8 975.6,1282.8 976.1,1282.7 976.6,1282.6 977.1,1282.6 977.6,1282.5 978.1,1282.5 978.6,1282.4 979.1,1282.4 979.6,1282.3 980.1,1282.3 980.6,1282.2 981.1,1282.2 981.6,1282.1 982.1,1282 982.6,1282 983.1,1281.9 983.6,1281.9 984.1,1281.8 984.6,1281.8 985.1,1281.7 985.6,1281.7 986.1,1281.6 986.6,1281.6 987.1,1281.5 987.6,1281.5 988.1,1281.5 988.6,1281.4 989.1,1281.4 989.6,1281.3 990.1,1281.3 990.6,1281.2 991.1,1281.2 991.6,1281.2 992.1,1281.1 992.6,1281.1 993.1,1281 993.6,1281 994.1,1281 994.6,1280.9 995.1,1280.9 995.6,1280.8 996.1,1280.8 996.6,1280.8 997.1,1280.7 997.6,1280.7 998.1,1280.7 998.6,1280.6 999.1,1280.6 999.6,1280.5 1000.1,1280.5 1000.6,1280.5 1001.1,1280.4 1001.6,1280.4 1002.1,1280.4 1002.6,1280.3 1003.1,1280.3 1003.6,1280.3 1004.1,1280.2 1004.6,1280.2 1005.1,1280.2 1005.6,1280.1 1006.1,1280.1 1006.6,1280.1 1007.1,1280 1007.6,1280 1008.1,1280 1008.6,1280 1009.1,1279.9 1009.6,1279.9 1010.1,1279.9 1010.6,1279.9 1011.1,1279.9 1011.6,1279.8 1012.1,1279.8 1012.6,1279.8 1013.1,1279.8 1013.6,1279.8 1014.1,1279.8 1014.6,1279.8 1015.1,1279.8 1015.6,1279.8 1016.1,1279.7 1016.6,1279.7 1017.1,1279.7 1017.6,1279.7 1018.1,1279.7 1018.6,1279.7 1019.1,1279.7 1019.6,1279.7 1020.1,1279.7 1020.6,1279.7 1021.1,1279.7 1021.6,1279.7 1022.1,1279.6 1022.6,1279.6 1023.1,1279.6 1023.6,1279.6 1024.1,1279.6 1024.6,1279.6 1025.1,1279.6 1025.6,1279.6 1026.1,1279.6 1026.6,1279.6 1027.1,1279.6 1027.6,1279.6 1028.1,1279.6 1028.6,1279.6 1029.1,1279.6 1029.6,1279.6 1030.1,1279.6 1030.6,1279.6 1031.1,1279.6 1031.6,1279.6 1032.1,1279.6 1032.6,1279.6 1033.1,1279.6 1033.6,1279.7 1034.1,1279.7 1034.6,1279.7 1035.1,1279.7 1035.6,1279.8 1036.1,1279.8 1036.6,1279.8 1037.1,1279.8 1037.6,1279.9 1038.1,1279.9 1038.6,1279.9 1039.1,1280 1039.6,1280 1040.1,1280.1 1040.6,1280.1 1041.1,1280.1 1041.6,1280.2 1042.1,1280.2 1042.6,1280.3 1043.1,1280.3 1043.6,1280.3 1044.1,1280.4 1044.6,1280.4 1045.1,1280.5 1045.6,1280.5 1046.1,1280.6 1046.6,1280.7 1047.1,1280.7 1047.6,1280.8 1048.1,1280.9 1048.6,1281 1049.1,1281 1049.6,1281.1 1050.1,1281.2 1050.6,1281.3 1051.1,1281.4 1051.6,1281.5 1052.1,1281.6 1052.6,1281.7 1053.1,1281.8 1053.6,1281.9 1054.1,1282 1054.6,1282.2 1055.1,1282.3 1055.6,1282.4 1056.1,1282.5 1056.6,1282.6 1057.1,1282.7 1057.6,1282.8 1058.1,1283 1058.6,1283.1 1059.1,1283.2 1059.6,1283.3 1060.1,1283.4 1060.6,1283.6 1061.1,1283.7 1061.6,1283.8 1062.1,1284 1062.6,1284.1 1063.1,1284.3 1063.6,1284.4 1064.1,1284.6 1064.6,1284.7 1065.1,1284.9 1065.6,1285 1066.1,1285.2 1066.6,1285.3 1067.1,1285.5 1067.6,1285.7 1068.1,1285.8 1068.6,1286 1069.1,1286.2 1069.6,1286.3 1070.1,1286.5 1070.6,1286.7 1071.1,1286.9 1071.6,1287 1072.1,1287.2 1072.6,1287.4 1073.1,1287.6 1073.6,1287.7 1074.1,1287.9 1074.6,1288.1 1075.1,1288.3 1075.6,1288.4 1076.1,1288.6 1076.6,1288.8 1077.1,1289 1077.6,1289.2 1078.1,1289.4 1078.6,1289.6 1079.1,1289.8 1079.6,1290 1080.1,1290.1 1080.6,1290.3 1081.1,1290.5 1081.6,1290.8 1082.1,1291 1082.6,1291.2 1083.1,1291.4 1083.6,1291.6 1084.1,1291.8 1084.6,1292 1085.1,1292.2 1085.6,1292.4 1086.1,1292.6 1086.6,1292.8 1087.1,1293 1087.6,1293.2 1088.1,1293.4 1088.6,1293.6 1089.1,1293.9 1089.6,1294.1 1090.1,1294.3 1090.6,1294.5 1091.1,1294.7 1091.6,1294.9 1092.1,1295.1 1092.6,1295.3 1093.1,1295.5 1093.6,1295.7 1094.1,1295.9 1094.6,1296.1 1095.1,1296.3 1095.6,1296.6 1096.1,1296.8 1096.6,1297 1097.1,1297.2 1097.6,1297.4 1098.1,1297.6 1098.6,1297.8 1099.1,1298.1 1099.6,1298.3 1100.1,1298.5 1100.6,1298.7 1101.1,1298.9 1101.6,1299.1 1102.1,1299.3 1102.6,1299.5 1103.1,1299.7 1103.6,1299.9 1104.1,1300.1 1104.6,1300.3 1105.1,1300.5 1105.6,1300.7 1106.1,1300.9 1106.6,1301.1 1107.1,1301.3 1107.6,1301.5 1108.1,1301.6 1108.6,1301.8 1109.1,1302 1109.6,1302.2 1110.1,1302.4 1110.6,1302.6 1111.1,1302.7 1111.6,1302.9 1112.1,1303.1 1112.6,1303.3 1113.1,1303.5 1113.6,1303.6 1114.1,1303.8 1114.6,1304 1115.1,1304.1 1115.6,1304.3 1116.1,1304.5 1116.6,1304.6 1117.1,1304.8 1117.6,1304.9 1118.1,1305.1 1118.6,1305.2 1119.1,1305.4 1119.6,1305.5 1120.1,1305.7 1120.6,1305.8 1121.1,1305.9 1121.6,1306.1 1122.1,1306.2 1122.6,1306.3 1123.1,1306.4 1123.6,1306.5 1124.1,1306.7 1124.6,1306.8 1125.1,1306.9 1125.6,1307 1126.1,1307.1 1126.6,1307.3 1127.1,1307.4 1127.6,1307.5 1128.1,1307.6 1128.6,1307.7 1129.1,1307.8 1129.6,1307.9 1130.1,1308 1130.6,1308.1 1131.1,1308.1 1131.6,1308.2 1132.1,1308.3 1132.6,1308.4 1133.1,1308.4 1133.6,1308.5 1134.1,1308.5 1134.6,1308.6 1135.1,1308.6 1135.6,1308.6 1136.1,1308.7 1136.6,1308.7 1137.1,1308.8 1137.6,1308.8 1138.1,1308.8 1138.6,1308.9 1139.1,1308.9 1139.6,1308.9 1140.1,1309 1140.6,1309 1141.1,1309 1141.6,1309 1142.1,1309.1 1142.6,1309.1 1143.1,1309.1 1143.6,1309.1 1144.1,1309.1 1144.6,1309.1 1145.1,1309.1 1145.6,1309 1146.1,1309 1146.6,1309 1147.1,1309 1147.6,1308.9 1148.1,1308.9 1148.6,1308.8 1149.1,1308.8 1149.6,1308.7 1150.1,1308.6 1150.6,1308.6 1151.1,1308.5 1151.6,1308.4 1152.1,1308.4 1152.6,1308.3 1153.1,1308.2 1153.6,1308.1 1154.1,1308.1 1154.6,1308 1155.1,1307.9 1155.6,1307.8 1156.1,1307.6 1156.6,1307.5 1157.1,1307.3 1157.6,1307.2 1158.1,1307 1158.6,1306.8 1159.1,1306.6 1159.6,1306.4 1160.1,1306.2 1160.6,1306 1161.1,1305.8 1161.6,1305.6 1162.1,1305.4 1162.6,1305.2 1163.1,1304.9 1163.6,1304.7 1164.1,1304.5 1164.6,1304.3 1165.1,1304 1165.6,1303.8 1166.1,1303.5 1166.6,1303.2 1167.1,1303 1167.6,1302.7 1168.1,1302.4 1168.6,1302.1 1169.1,1301.8 1169.6,1301.5 1170.1,1301.2 1170.6,1300.9 1171.1,1300.5 1171.6,1300.2 1172.1,1299.9 1172.6,1299.5 1173.1,1299.2 1173.6,1298.9 1174.1,1298.5 1174.6,1298.2 1175.1,1297.8 1175.6,1297.5 1176.1,1297.1 1176.6,1296.7 1177.1,1296.3 1177.6,1296 1178.1,1295.6 1178.6,1295.2 1179.1,1294.7 1179.6,1294.3 1180.1,1293.9 1180.6,1293.5 1181.1,1293.1 1181.6,1292.7 1182.1,1292.2 1182.6,1291.8 1183.1,1291.4 1183.6,1291 1184.1,1290.6 1184.6,1290.2 1185.1,1289.8 1185.6,1289.3 1186.1,1288.9 1186.6,1288.5 1187.1,1288.1 1187.6,1287.6 1188.1,1287.2 1188.6,1286.8 1189.1,1286.3 1189.6,1285.9 1190.1,1285.5 1190.6,1285.1 1191.1,1284.6 1191.6,1284.2 1192.1,1283.8 1192.6,1283.4 1193.1,1283 1193.6,1282.6 1194.1,1282.2 1194.6,1281.8 1195.1,1281.4 1195.6,1281 1196.1,1280.6 1196.6,1280.2 1197.1,1279.8 1197.6,1279.4 1198.1,1279 1198.6,1278.7 1199.1,1278.3 1199.6,1277.9 1200.1,1277.5 1200.6,1277.2 1201.1,1276.8 1201.6,1276.4 1202.1,1276.1 1202.6,1275.8 1203.1,1275.4 1203.6,1275.1 1204.1,1274.8 1204.6,1274.5 1205.1,1274.2 1205.6,1273.9 1206.1,1273.6 1206.6,1273.4 1207.1,1273.1 1207.6,1272.8 1208.1,1272.5 1208.6,1272.3 1209.1,1272 1209.6,1271.7 1210.1,1271.5 1210.6,1271.3 1211.1,1271 1211.6,1270.8 1212.1,1270.6 1212.6,1270.4 1213.1,1270.1 1213.6,1270 1214.1,1269.8 1214.6,1269.6 1215.1,1269.4 1215.6,1269.3 1216.1,1269.1 1216.6,1268.9 1217.1,1268.8 1217.6,1268.6 1218.1,1268.5 1218.6,1268.3 1219.1,1268.2 1219.6,1268 1220.1,1267.9 1220.6,1267.8 1221.1,1267.6 1221.6,1267.5 1222.1,1267.4 1222.6,1267.3 1223.1,1267.2 1223.6,1267.1 1224.1,1267.1 1224.6,1267 1225.1,1267 1225.6,1267 1226.1,1266.9 1226.6,1266.9 1227.1,1266.9 1227.6,1266.9 1228.1,1266.9 1228.6,1266.8 1229.1,1266.8 1229.6,1266.8 1230.1,1266.8 1230.6,1266.8 1231.1,1266.8 1231.6,1266.8 1232.1,1266.8 1232.6,1266.8 1233.1,1266.8 1233.6,1266.9 1234.1,1267 1234.6,1267.2 1235.1,1267.3 1235.6,1267.5 1236.1,1267.7 1236.6,1267.8 1237.1,1268.1 1237.6,1268.3 1238.1,1268.5 1238.6,1268.7 1239.1,1268.9 1239.6,1269.2 1240.1,1269.4 1240.6,1269.6 1241.1,1269.9 1241.6,1270.2 1242.1,1270.5 1242.6,1270.8 1243.1,1271.1 1243.6,1271.4 1244.1,1271.8 1244.6,1272.2 1245.1,1272.6 1245.6,1273 1246.1,1273.4 1246.6,1273.8 1247.1,1274.2 1247.6,1274.6 1248.1,1275 1248.6,1275.5 1249.1,1275.9 1249.6,1276.3 1250.1,1276.8 1250.6,1277.2 1251.1,1277.6 1251.6,1278.1 1252.1,1278.5 1252.6,1279 1253.1,1279.5 1253.6,1280 1254.1,1280.5 1254.6,1281 1255.1,1281.5 1255.6,1282 1256.1,1282.5 1256.6,1283.1 1257.1,1283.6 1257.6,1284.1 1258.1,1284.6 1258.6,1285.2 1259.1,1285.7 1259.6,1286.2 1260.1,1286.7 1260.6,1287.2 1261.1,1287.8 1261.6,1288.3 1262.1,1288.8 1262.6,1289.3 1263.1,1289.9 1263.6,1290.4 1264.1,1291 1264.6,1291.5 1265.1,1292 1265.6,1292.6 1266.1,1293.1 1266.6,1293.7 1267.1,1294.2 1267.6,1294.7 1268.1,1295.3 1268.6,1295.8 1269.1,1296.3 1269.6,1296.8 1270.1,1297.3 1270.6,1297.8 1271.1,1298.3 1271.6,1298.8 1272.1,1299.3 1272.6,1299.8 1273.1,1300.3 1273.6,1300.8 1274.1,1301.3 1274.6,1301.8 1275.1,1302.3 1275.6,1302.8 1276.1,1303.3 1276.6,1303.7 1277.1,1304.2 1277.6,1304.7 1278.1,1305.1 1278.6,1305.6 1279.1,1306 1279.6,1306.4 1280.1,1306.9 1280.6,1307.3 1281.1,1307.7 1281.6,1308.1 1282.1,1308.5 1282.6,1308.9 1283.1,1309.3 1283.6,1309.6 1284.1,1310 1284.6,1310.4 1285.1,1310.8 1285.6,1311.1 1286.1,1311.5 1286.6,1311.8 1287.1,1312.2 1287.6,1312.5 1288.1,1312.8 1288.6,1313.2 1289.1,1313.5 1289.6,1313.8 1290.1,1314.1 1290.6,1314.4 1291.1,1314.6 1291.6,1314.9 1292.1,1315.2 1292.6,1315.4 1293.1,1315.7 1293.6,1316 1294.1,1316.2 1294.6,1316.5 1295.1,1316.7 1295.6,1316.9 1296.1,1317.2 1296.6,1317.4 1297.1,1317.6 1297.6,1317.8 1298.1,1318 1298.6,1318.2 1299.1,1318.4 1299.6,1318.6 1300.1,1318.7 1300.6,1318.9 1301.1,1319 1301.6,1319.2 1302.1,1319.3 1302.6,1319.4 1303.1,1319.6 1303.6,1319.7 1304.1,1319.8 1304.6,1319.9 1305.1,1320.1 1305.6,1320.2 1306.1,1320.3 1306.6,1320.4 1307.1,1320.5 1307.6,1320.6 1308.1,1320.7 1308.6,1320.8 1309.1,1320.8 1309.6,1320.9 1310.1,1321 1310.6,1321 1311.1,1321.1 1311.6,1321.1 1312.1,1321.1 1312.6,1321.2 1313.1,1321.2 1313.6,1321.3 1314.1,1321.3 1314.6,1321.3 1315.1,1321.4 1315.6,1321.4 1316.1,1321.4 1316.6,1321.4 1317.1,1321.5 1317.6,1321.5 1318.1,1321.5 1318.6,1321.5 1319.1,1321.5 1319.6,1321.5 1320.1,1321.5 1320.6,1321.5 1321.1,1321.5 1321.6,1321.4 1322.1,1321.4 1322.6,1321.4 1323.1,1321.4 1323.6,1321.3 1324.1,1321.3 1324.6,1321.2 1325.1,1321.2 1325.6,1321.1 1326.1,1321.1 1326.6,1321 1327.1,1321 1327.6,1320.9 1328.1,1320.9 1328.6,1320.8 1329.1,1320.7 1329.6,1320.7 1330.1,1320.6 1330.6,1320.6 1331.1,1320.5 1331.6,1320.4 1332.1,1320.3 1332.6,1320.2 1333.1,1320.1 1333.6,1320 1334.1,1319.9 1334.6,1319.7 1335.1,1319.6 1335.6,1319.5 1336.1,1319.4 1336.6,1319.2 1337.1,1319.1 1337.6,1318.9 1338.1,1318.8 1338.6,1318.6 1339.1,1318.5 1339.6,1318.3 1340.1,1318.2 1340.6,1318 1341.1,1317.9 1341.6,1317.7 1342.1,1317.6 1342.6,1317.4 1343.1,1317.2 1343.6,1317 1344.1,1316.9 1344.6,1316.7 1345.1,1316.5 1345.6,1316.3 1346.1,1316.1 1346.6,1315.9 1347.1,1315.7 1347.6,1315.5 1348.1,1315.2 1348.6,1315 1349.1,1314.8 1349.6,1314.6 1350.1,1314.4 1350.6,1314.1 1351.1,1313.9 1351.6,1313.7 1352.1,1313.4 1352.6,1313.2 1353.1,1313 1353.6,1312.8 1354.1,1312.5 1354.6,1312.3 1355.1,1312.1 1355.6,1311.8 1356.1,1311.6 1356.6,1311.4 1357.1,1311.1 1357.6,1310.9 1358.1,1310.6 1358.6,1310.4 1359.1,1310.1 1359.6,1309.9 1360.1,1309.6 1360.6,1309.4 1361.1,1309.1 1361.6,1308.9 1362.1,1308.6 1362.6,1308.3 1363.1,1308.1 1363.6,1307.8 1364.1,1307.6 1364.6,1307.3 1365.1,1307 1365.6,1306.8 1366.1,1306.5 1366.6,1306.3 1367.1,1306 1367.6,1305.8 1368.1,1305.5 1368.6,1305.2 1369.1,1305 1369.6,1304.7 1370.1,1304.5 1370.6,1304.2 1371.1,1303.9 1371.6,1303.7 1372.1,1303.4 1372.6,1303.1 1373.1,1302.9 1373.6,1302.6 1374.1,1302.3 1374.6,1302.1 1375.1,1301.8 1375.6,1301.5 1376.1,1301.3 1376.6,1301 1377.1,1300.7 1377.6,1300.4 1378.1,1300.1 1378.6,1299.9 1379.1,1299.6 1379.6,1299.3 1380.1,1299 1380.6,1298.7 1381.1,1298.4 1381.6,1298.1 1382.1,1297.8 1382.6,1297.5 1383.1,1297.2 1383.6,1296.9 1384.1,1296.6 1384.6,1296.3 1385.1,1296 1385.6,1295.7 1386.1,1295.4 1386.6,1295.1 1387.1,1294.8 1387.6,1294.4 1388.1,1294.1 1388.6,1293.8 1389.1,1293.5 1389.6,1293.2 1390.1,1292.9 1390.6,1292.7 1391.1,1292.4 1391.6,1292.1 1392.1,1291.8 1392.6,1291.5 1393.1,1291.2 1393.6,1290.9 1394.1,1290.6 1394.6,1290.3 1395.1,1290.1 1395.6,1289.8 1396.1,1289.5 1396.6,1289.2 1397.1,1288.9 1397.6,1288.7 1398.1,1288.4 1398.6,1288.1 1399.1,1287.8 1399.6,1287.5 1400.1,1287.2 1400.6,1287 1401.1,1286.7 1401.6,1286.4 1402.1,1286.1 1402.6,1285.9 1403.1,1285.6 1403.6,1285.3 1404.1,1285 1404.6,1284.7 1405.1,1284.5 1405.6,1284.2 1406.1,1283.9 1406.6,1283.6 1407.1,1283.3 1407.6,1283.1 1408.1,1282.8 1408.6,1282.5 1409.1,1282.2 1409.6,1281.9 1410.1,1281.7 1410.6,1281.4 1411.1,1281.1 1411.6,1280.8 1412.1,1280.6 1412.6,1280.3 1413.1,1280 1413.6,1279.8 1414.1,1279.5 1414.6,1279.2 1415.1,1279 1415.6,1278.7 1416.1,1278.4 1416.6,1278.2 1417.1,1277.9 1417.6,1277.7 1418.1,1277.4 1418.6,1277.1 1419.1,1276.9 1419.6,1276.6 1420.1,1276.4 1420.6,1276.1 1421.1,1275.9 1421.6,1275.6 1422.1,1275.4 1422.6,1275.1 1423.1,1274.9 1423.6,1274.6 1424.1,1274.4 1424.6,1274.1 1425.1,1273.9 1425.6,1273.7 1426.1,1273.4 1426.6,1273.2 1427.1,1273 1427.6,1272.7 1428.1,1272.5 1428.6,1272.3 1429.1,1272.1 1429.6,1271.8 1430.1,1271.6 1430.6,1271.4 1431.1,1271.2 1431.6,1271 1432.1,1270.8 1432.6,1270.6 1433.1,1270.4 1433.6,1270.2 1434.1,1269.9 1434.6,1269.7 1435.1,1269.5 1435.6,1269.3 1436.1,1269.1 1436.6,1268.9 1437.1,1268.7 1437.6,1268.5 1438.1,1268.3 1438.6,1268.1 1439.1,1267.9 1439.6,1267.8 1440.1,1267.6 1440.6,1267.4 1441.1,1267.2 1441.6,1267 1442.1,1266.8 1442.6,1266.6 1443.1,1266.4 1443.6,1266.2 1444.1,1266 1444.6,1265.8 1445.1,1265.6 1445.6,1265.4 1446.1,1265.2 1446.6,1265 1447.1,1264.9 1447.6,1264.7 1448.1,1264.5 1448.6,1264.3 1449.1,1264.1 1449.6,1264 1450.1,1263.8 1450.6,1263.7 1451.1,1263.5 1451.6,1263.3 1452.1,1263.2 1452.6,1263.1 1453.1,1262.9 1453.6,1262.8 1454.1,1262.6 1454.6,1262.5 1455.1,1262.3 1455.6,1262.2 1456.1,1262.1 1456.6,1261.9 1457.1,1261.8 1457.6,1261.7 1458.1,1261.5 1458.6,1261.4 1459.1,1261.3 1459.6,1261.2 1460.1,1261.1 1460.6,1261 1461.1,1260.8 1461.6,1260.7 1462.1,1260.6 1462.6,1260.5 1463.1,1260.4 1463.6,1260.3 1464.1,1260.2 1464.6,1260.1 1465.1,1260 1465.6,1260 1466.1,1259.9 1466.6,1259.8 1467.1,1259.7 1467.6,1259.6 1468.1,1259.5 1468.6,1259.4 1469.1,1259.3 1469.6,1259.3 1470.1,1259.2 1470.6,1259.1 1471.1,1259 1471.6,1259 1472.1,1258.9 1472.6,1258.8 1473.1,1258.8 1473.6,1258.7 1474.1,1258.6 1474.6,1258.6 1475.1,1258.5 1475.6,1258.5 1476.1,1258.4 1476.6,1258.4 1477.1,1258.3 1477.6,1258.3 1478.1,1258.3 1478.6,1258.2 1479.1,1258.2 1479.6,1258.1 1480.1,1258.1 1480.6,1258.1 1481.1,1258 1481.6,1258 1482.1,1258 1482.6,1257.9 1483.1,1257.9 1483.6,1257.9 1484.1,1257.8 1484.6,1257.8 1485.1,1257.8 1485.6,1257.8 1486.1,1257.7 1486.6,1257.7 1487.1,1257.7 1487.6,1257.7 1488.1,1257.6 1488.6,1257.6 1489.1,1257.6 1489.6,1257.6 1490.1,1257.5 1490.6,1257.5 1491.1,1257.5 1491.6,1257.5 1492.1,1257.4 1492.6,1257.4 1493.1,1257.4 1493.6,1257.4 1494.1,1257.4 1494.6,1257.3 1495.1,1257.3 1495.6,1257.3 1496.1,1257.3 1496.6,1257.3 1497.1,1257.3 1497.6,1257.2 1498.1,1257.2 1498.6,1257.2 1499.1,1257.2 1499.6,1257.2 1500.1,1257.2 1500.6,1257.2 1501.1,1257.2 1501.6,1257.2 1502.1,1257.2 1502.6,1257.2 1503.1,1257.2 1503.6,1257.2 1504.1,1257.2 1504.6,1257.2 1505.1,1257.2 1505.6,1257.3 1506.1,1257.3 1506.6,1257.3 1507.1,1257.3 1507.6,1257.3 1508.1,1257.3 1508.6,1257.3 1509.1,1257.3 1509.6,1257.3 1510.1,1257.3 1510.6,1257.4 1511.1,1257.4 1511.6,1257.4 1512.1,1257.4 1512.6,1257.4 1513.1,1257.4 1513.6,1257.4 1514.1,1257.5 1514.6,1257.5 1515.1,1257.5 1515.6,1257.5 1516.1,1257.6 1516.6,1257.6 1517.1,1257.6 1517.6,1257.7 1518.1,1257.7 1518.6,1257.7 1519.1,1257.8 1519.6,1257.8 1520.1,1257.8 1520.6,1257.9 1521.1,1257.9 1521.6,1258 1522.1,1258 1522.6,1258 1523.1,1258.1 1523.6,1258.1 1524.1,1258.2 1524.6,1258.2 1525.1,1258.2 1525.6,1258.3 1526.1,1258.3 1526.6,1258.4 1527.1,1258.4 1527.6,1258.5 1528.1,1258.5 1528.6,1258.6 1529.1,1258.6 1529.6,1258.7 1530.1,1258.7 1530.6,1258.8 1531.1,1258.8 1531.6,1258.9 1532.1,1258.9 1532.6,1259 1533.1,1259 1533.6,1259.1 1534.1,1259.1 1534.6,1259.2 1535.1,1259.2 1535.6,1259.3 1536.1,1259.3 1536.6,1259.4 1537.1,1259.4 1537.6,1259.5 1538.1,1259.5 1538.6,1259.6 1539.1,1259.7 1539.6,1259.7 1540.1,1259.8 1540.6,1259.8 1541.1,1259.9 1541.6,1259.9 1542.1,1260 1542.6,1260 1543.1,1260.1 1543.6,1260.1 1544.1,1260.2 1544.6,1260.3 1545.1,1260.3 1545.6,1260.4 1546.1,1260.4 1546.6,1260.5 1547.1,1260.5 1547.6,1260.6 1548.1,1260.6" fill="none" stroke="#344aa0" stroke-width="2.6" stroke-linejoin="round" stroke-linecap="butt"/>
<path d="M144.1,340.5v18.2M248.4,340.5v18.2M352.6,340.5v18.2M456.9,340.5v18.2M561.2,340.5v18.2M665.4,340.5v18.2M769.7,340.5v18.2M196.2,340.5v9M300.5,340.5v9M404.8,340.5v9M509,340.5v9M613.3,340.5v9M717.6,340.5v9M125.5,68.6h18.6M125.5,204.5h18.6M125.5,340.5h18.6" stroke="#0b0b0b" stroke-width="1.8" fill="none"/>
<rect x="144.1" y="68.6" width="634.5" height="271.9" fill="none" stroke="#0b0b0b" stroke-width="3.3"/>
<text x="111.5" y="80.2" text-anchor="end">20</text>
<text x="111.5" y="216.1" text-anchor="end">10</text>
<text x="111.5" y="352.1" text-anchor="end">0</text>
<text x="382.9" y="55.3">DO time series</text>
<text transform="translate(64.8,283.8) rotate(-90)">DO (mg l<tspan dy="-13.9" font-size="23">-1</tspan><tspan dy="13.9">)</tspan></text>
<text x="-0.1" y="24" class="pl">A</text>
<path d="M914.6,340.5v18.2M1018.9,340.5v18.2M1123.1,340.5v18.2M1227.4,340.5v18.2M1331.7,340.5v18.2M1435.9,340.5v18.2M1540.2,340.5v18.2M966.7,340.5v9M1071,340.5v9M1175.3,340.5v9M1279.5,340.5v9M1383.8,340.5v9M1488.1,340.5v9M896,68.6h18.6M896,204.5h18.6M896,340.5h18.6" stroke="#0b0b0b" stroke-width="1.8" fill="none"/>
<rect x="914.6" y="68.6" width="634.5" height="271.9" fill="none" stroke="#0b0b0b" stroke-width="3.3"/>
<text x="882" y="80.2" text-anchor="end">10</text>
<text x="882" y="216.1" text-anchor="end">0</text>
<text x="882" y="352.1" text-anchor="end">-10</text>
<text x="1155.6" y="63">Mode 1 (Period 12.4h)</text>
<text x="813.2" y="24" class="pl">B</text>
<path d="M144.1,702.8v18.2M248.4,702.8v18.2M352.6,702.8v18.2M456.9,702.8v18.2M561.2,702.8v18.2M665.4,702.8v18.2M769.7,702.8v18.2M196.2,702.8v9M300.5,702.8v9M404.8,702.8v9M509,702.8v9M613.3,702.8v9M717.6,702.8v9M125.5,430.9h18.6M125.5,566.8h18.6M125.5,702.8h18.6" stroke="#0b0b0b" stroke-width="1.8" fill="none"/>
<rect x="144.1" y="430.9" width="634.5" height="271.9" fill="none" stroke="#0b0b0b" stroke-width="3.3"/>
<text x="111.5" y="442.5" text-anchor="end">10</text>
<text x="111.5" y="578.4" text-anchor="end">0</text>
<text x="111.5" y="714.4" text-anchor="end">-10</text>
<text x="382.5" y="424.8">Mode 2 (Period 24h)</text>
<text transform="translate(64.8,646) rotate(-90)">DO (mg l<tspan dy="-13.9" font-size="23">-1</tspan><tspan dy="13.9">)</tspan></text>
<text x="-0.1" y="399.3" class="pl">C</text>
<path d="M914.6,702.8v18.2M1018.9,702.8v18.2M1123.1,702.8v18.2M1227.4,702.8v18.2M1331.7,702.8v18.2M1435.9,702.8v18.2M1540.2,702.8v18.2M966.7,702.8v9M1071,702.8v9M1175.3,702.8v9M1279.5,702.8v9M1383.8,702.8v9M1488.1,702.8v9M896,430.9h18.6M896,566.8h18.6M896,702.8h18.6" stroke="#0b0b0b" stroke-width="1.8" fill="none"/>
<rect x="914.6" y="430.9" width="634.5" height="271.9" fill="none" stroke="#0b0b0b" stroke-width="3.3"/>
<text x="882" y="442.5" text-anchor="end">10</text>
<text x="882" y="578.4" text-anchor="end">0</text>
<text x="882" y="714.4" text-anchor="end">-10</text>
<text x="1155.6" y="424.8">Mode 3 (Period 6d)</text>
<text x="813.2" y="399.3" class="pl">D</text>
<path d="M144.1,1065.1v18.2M248.4,1065.1v18.2M352.6,1065.1v18.2M456.9,1065.1v18.2M561.2,1065.1v18.2M665.4,1065.1v18.2M769.7,1065.1v18.2M196.2,1065.1v9M300.5,1065.1v9M404.8,1065.1v9M509,1065.1v9M613.3,1065.1v9M717.6,1065.1v9M125.5,793.2h18.6M125.5,929.2h18.6M125.5,1065.1h18.6" stroke="#0b0b0b" stroke-width="1.8" fill="none"/>
<rect x="144.1" y="793.2" width="634.5" height="271.9" fill="none" stroke="#0b0b0b" stroke-width="3.3"/>
<text x="111.5" y="804.8" text-anchor="end">10</text>
<text x="111.5" y="940.8" text-anchor="end">0</text>
<text x="111.5" y="1076.7" text-anchor="end">-10</text>
<text x="382.5" y="786.8">Mode 4 (Period 9d)</text>
<text transform="translate(64.8,1008.4) rotate(-90)">DO (mg l<tspan dy="-13.9" font-size="23">-1</tspan><tspan dy="13.9">)</tspan></text>
<text x="-0.1" y="759.8" class="pl">E</text>
<path d="M914.6,1065.1v18.2M1018.9,1065.1v18.2M1123.1,1065.1v18.2M1227.4,1065.1v18.2M1331.7,1065.1v18.2M1435.9,1065.1v18.2M1540.2,1065.1v18.2M966.7,1065.1v9M1071,1065.1v9M1175.3,1065.1v9M1279.5,1065.1v9M1383.8,1065.1v9M1488.1,1065.1v9M896,793.2h18.6M896,929.2h18.6M896,1065.1h18.6" stroke="#0b0b0b" stroke-width="1.8" fill="none"/>
<rect x="914.6" y="793.2" width="634.5" height="271.9" fill="none" stroke="#0b0b0b" stroke-width="3.3"/>
<text x="882" y="804.8" text-anchor="end">10</text>
<text x="882" y="940.8" text-anchor="end">0</text>
<text x="882" y="1076.7" text-anchor="end">-10</text>
<text x="1150.7" y="786.8">Mode 5 (Period 17d)</text>
<text x="813.2" y="759.8" class="pl">F</text>
<path d="M144.1,1427.4v18.2M248.4,1427.4v18.2M352.6,1427.4v18.2M456.9,1427.4v18.2M561.2,1427.4v18.2M665.4,1427.4v18.2M769.7,1427.4v18.2M196.2,1427.4v9M300.5,1427.4v9M404.8,1427.4v9M509,1427.4v9M613.3,1427.4v9M717.6,1427.4v9M125.5,1155.5h18.6M125.5,1291.5h18.6M125.5,1427.4h18.6" stroke="#0b0b0b" stroke-width="1.8" fill="none"/>
<rect x="144.1" y="1155.5" width="634.5" height="271.9" fill="none" stroke="#0b0b0b" stroke-width="3.3"/>
<text x="111.5" y="1167.1" text-anchor="end">10</text>
<text x="111.5" y="1303" text-anchor="end">0</text>
<text x="111.5" y="1439" text-anchor="end">-10</text>
<text x="384.5" y="1148.8">Mode 6 (Period 45d)</text>
<text transform="translate(64.8,1370.7) rotate(-90)">DO (mg l<tspan dy="-13.9" font-size="23">-1</tspan><tspan dy="13.9">)</tspan></text>
<text x="143.9" y="1481.7" text-anchor="middle">0</text>
<text x="248.2" y="1481.7" text-anchor="middle">1440</text>
<text x="352.4" y="1481.7" text-anchor="middle">2880</text>
<text x="456.7" y="1481.7" text-anchor="middle">4320</text>
<text x="561" y="1481.7" text-anchor="middle">5760</text>
<text x="665.2" y="1481.7" text-anchor="middle">7200</text>
<text x="769.5" y="1481.7" text-anchor="middle">8640</text>
<text x="461.4" y="1519.3" text-anchor="middle">Hour</text>
<text x="-0.1" y="1124.5" class="pl">G</text>
<path d="M914.6,1427.4v18.2M1018.9,1427.4v18.2M1123.1,1427.4v18.2M1227.4,1427.4v18.2M1331.7,1427.4v18.2M1435.9,1427.4v18.2M1540.2,1427.4v18.2M966.7,1427.4v9M1071,1427.4v9M1175.3,1427.4v9M1279.5,1427.4v9M1383.8,1427.4v9M1488.1,1427.4v9M896,1155.5h18.6M896,1291.5h18.6M896,1427.4h18.6" stroke="#0b0b0b" stroke-width="1.8" fill="none"/>
<rect x="914.6" y="1155.5" width="634.5" height="271.9" fill="none" stroke="#0b0b0b" stroke-width="3.3"/>
<text x="882" y="1167.1" text-anchor="end">10</text>
<text x="882" y="1303" text-anchor="end">0</text>
<text x="882" y="1439" text-anchor="end">-10</text>
<text x="1155.6" y="1148.8">Mode 7 (Period 121d)</text>
<text x="914.4" y="1481.7" text-anchor="middle">0</text>
<text x="1018.7" y="1481.7" text-anchor="middle">1440</text>
<text x="1122.9" y="1481.7" text-anchor="middle">2880</text>
<text x="1227.2" y="1481.7" text-anchor="middle">4320</text>
<text x="1331.5" y="1481.7" text-anchor="middle">5760</text>
<text x="1435.7" y="1481.7" text-anchor="middle">7200</text>
<text x="1540" y="1481.7" text-anchor="middle">8640</text>
<text x="1231.8" y="1519.3" text-anchor="middle">Hour</text>
<text x="813.2" y="1124.5" class="pl">H</text>
</svg>
</body></html>
